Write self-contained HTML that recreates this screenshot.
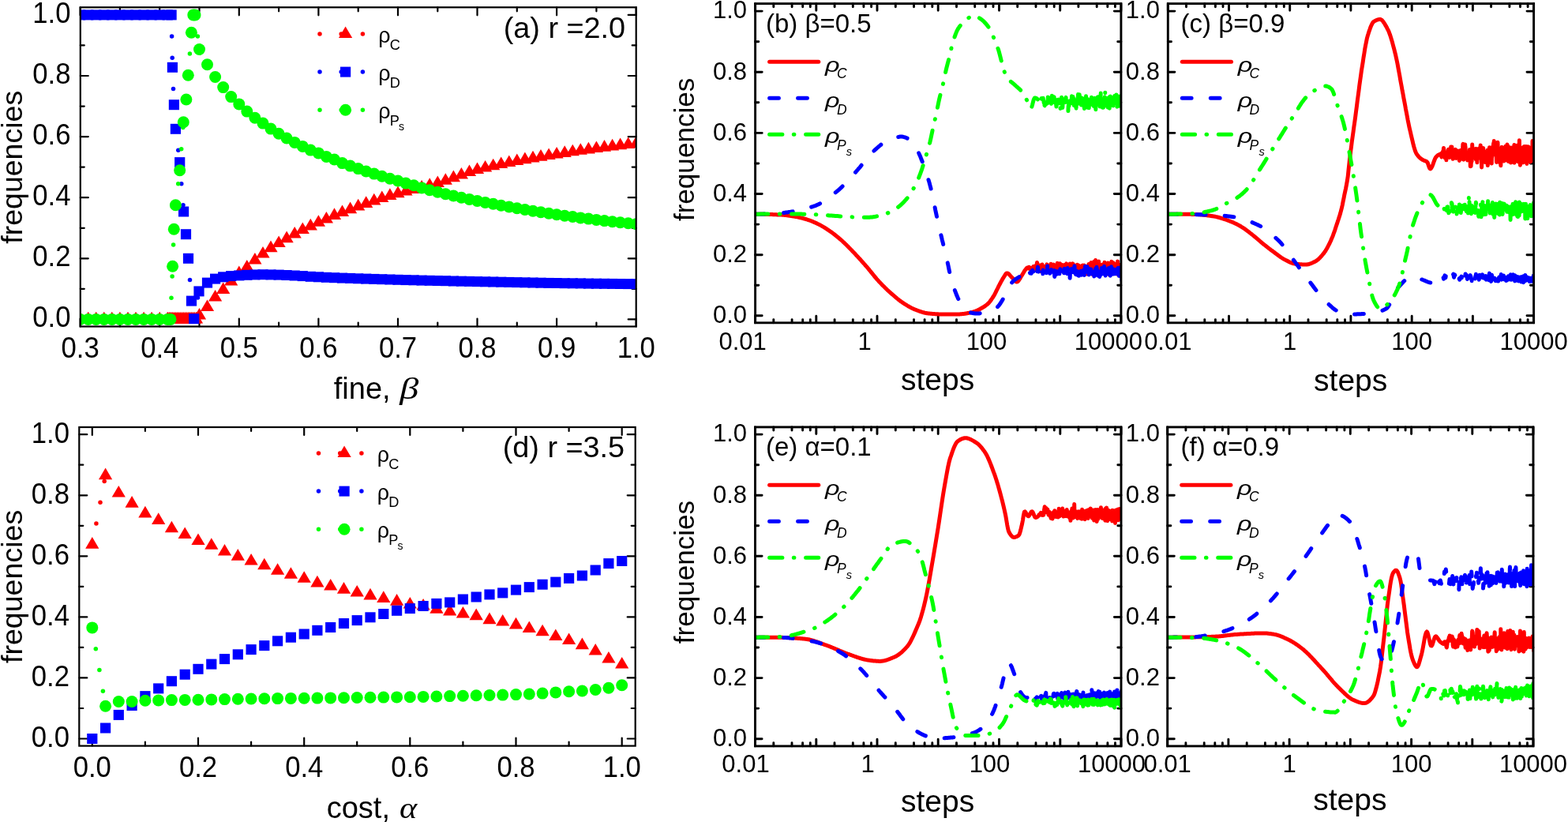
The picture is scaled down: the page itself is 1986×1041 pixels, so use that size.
<!DOCTYPE html><html><head><meta charset="utf-8"><style>html,body{margin:0;padding:0;background:#fff;overflow:hidden}svg{display:block}</style></head><body><svg width="1986" height="1041" viewBox="0 0 1986 1041"><rect width="1986" height="1041" fill="#fff"/><defs><clipPath id="ca"><rect x="101.8" y="9.3" width="703.9000000000001" height="404.2"/></clipPath><clipPath id="cd"><rect x="100.3" y="541.0" width="704.4000000000001" height="403.6"/></clipPath><clipPath id="cb"><rect x="956.6" y="4.6" width="463.30000000000007" height="404.2"/></clipPath><clipPath id="cc"><rect x="1479.3" y="4.6" width="463.29999999999995" height="404.2"/></clipPath><clipPath id="ce"><rect x="956.5" y="540.9" width="463.5" height="404.0"/></clipPath><clipPath id="cf"><rect x="1478.7" y="540.9" width="463.29999999999995" height="404.0"/></clipPath></defs><path d="M101.8 404.4L111.8 404.4M805.7 404.4L795.7 404.4M101.8 327.3L111.8 327.3M805.7 327.3L795.7 327.3M101.8 250.2L111.8 250.2M805.7 250.2L795.7 250.2M101.8 173.1L111.8 173.1M805.7 173.1L795.7 173.1M101.8 96.0L111.8 96.0M805.7 96.0L795.7 96.0M101.8 18.9L111.8 18.9M805.7 18.9L795.7 18.9M101.8 365.8L106.8 365.8M805.7 365.8L800.7 365.8M101.8 288.8L106.8 288.8M805.7 288.8L800.7 288.8M101.8 211.6L106.8 211.6M805.7 211.6L800.7 211.6M101.8 134.6L106.8 134.6M805.7 134.6L800.7 134.6M101.8 57.4L106.8 57.4M805.7 57.4L800.7 57.4M101.6 413.5L101.6 403.5M101.6 9.3L101.6 19.3M202.2 413.5L202.2 403.5M202.2 9.3L202.2 19.3M302.8 413.5L302.8 403.5M302.8 9.3L302.8 19.3M403.4 413.5L403.4 403.5M403.4 9.3L403.4 19.3M504.0 413.5L504.0 403.5M504.0 9.3L504.0 19.3M604.5 413.5L604.5 403.5M604.5 9.3L604.5 19.3M705.1 413.5L705.1 403.5M705.1 9.3L705.1 19.3M805.7 413.5L805.7 403.5M805.7 9.3L805.7 19.3M151.9 413.5L151.9 408.5M151.9 9.3L151.9 14.3M252.5 413.5L252.5 408.5M252.5 9.3L252.5 14.3M353.1 413.5L353.1 408.5M353.1 9.3L353.1 14.3M453.7 413.5L453.7 408.5M453.7 9.3L453.7 14.3M554.3 413.5L554.3 408.5M554.3 9.3L554.3 14.3M654.8 413.5L654.8 408.5M654.8 9.3L654.8 14.3M755.4 413.5L755.4 408.5M755.4 9.3L755.4 14.3" stroke="#000" stroke-width="2.2" stroke-linecap="round" fill="none"/>
<path d="M100.3 935.5L110.3 935.5M804.7 935.5L794.7 935.5M100.3 858.4L110.3 858.4M804.7 858.4L794.7 858.4M100.3 781.4L110.3 781.4M804.7 781.4L794.7 781.4M100.3 704.3L110.3 704.3M804.7 704.3L794.7 704.3M100.3 627.3L110.3 627.3M804.7 627.3L794.7 627.3M100.3 550.2L110.3 550.2M804.7 550.2L794.7 550.2M100.3 897.0L105.3 897.0M804.7 897.0L799.7 897.0M100.3 819.9L105.3 819.9M804.7 819.9L799.7 819.9M100.3 742.9L105.3 742.9M804.7 742.9L799.7 742.9M100.3 665.8L105.3 665.8M804.7 665.8L799.7 665.8M100.3 588.7L105.3 588.7M804.7 588.7L799.7 588.7M116.8 944.6L116.8 934.6M116.8 541.0L116.8 551.0M251.0 944.6L251.0 934.6M251.0 541.0L251.0 551.0M385.2 944.6L385.2 934.6M385.2 541.0L385.2 551.0M519.3 944.6L519.3 934.6M519.3 541.0L519.3 551.0M653.5 944.6L653.5 934.6M653.5 541.0L653.5 551.0M787.7 944.6L787.7 934.6M787.7 541.0L787.7 551.0M183.9 944.6L183.9 939.6M183.9 541.0L183.9 546.0M318.1 944.6L318.1 939.6M318.1 541.0L318.1 546.0M452.2 944.6L452.2 939.6M452.2 541.0L452.2 546.0M586.4 944.6L586.4 939.6M586.4 541.0L586.4 546.0M720.6 944.6L720.6 939.6M720.6 541.0L720.6 546.0" stroke="#000" stroke-width="2.2" stroke-linecap="round" fill="none"/>
<path d="M956.6 399.8L965.2 399.8M1419.9 399.8L1411.3 399.8M956.6 322.7L965.2 322.7M1419.9 322.7L1411.3 322.7M956.6 245.5L965.2 245.5M1419.9 245.5L1411.3 245.5M956.6 168.4L965.2 168.4M1419.9 168.4L1411.3 168.4M956.6 91.2L965.2 91.2M1419.9 91.2L1411.3 91.2M956.6 14.1L965.2 14.1M1419.9 14.1L1411.3 14.1M956.6 361.2L960.8 361.2M1419.9 361.2L1415.7 361.2M956.6 284.1L960.8 284.1M1419.9 284.1L1415.7 284.1M956.6 207.0L960.8 207.0M1419.9 207.0L1415.7 207.0M956.6 129.8L960.8 129.8M1419.9 129.8L1415.7 129.8M956.6 52.7L960.8 52.7M1419.9 52.7L1415.7 52.7M956.6 408.8L956.6 400.2M956.6 4.6L956.6 13.2M979.8 408.8L979.8 404.6M979.8 4.6L979.8 8.8M1003.1 408.8L1003.1 404.6M1003.1 4.6L1003.1 8.8M1016.7 408.8L1016.7 404.6M1016.7 4.6L1016.7 8.8M1026.3 408.8L1026.3 404.6M1026.3 4.6L1026.3 8.8M1033.8 408.8L1033.8 400.2M1033.8 4.6L1033.8 13.2M1057.1 408.8L1057.1 404.6M1057.1 4.6L1057.1 8.8M1080.3 408.8L1080.3 404.6M1080.3 4.6L1080.3 8.8M1093.9 408.8L1093.9 404.6M1093.9 4.6L1093.9 8.8M1103.6 408.8L1103.6 404.6M1103.6 4.6L1103.6 8.8M1111.0 408.8L1111.0 400.2M1111.0 4.6L1111.0 13.2M1134.3 408.8L1134.3 404.6M1134.3 4.6L1134.3 8.8M1157.5 408.8L1157.5 404.6M1157.5 4.6L1157.5 8.8M1171.1 408.8L1171.1 404.6M1171.1 4.6L1171.1 8.8M1180.8 408.8L1180.8 404.6M1180.8 4.6L1180.8 8.8M1188.2 408.8L1188.2 400.2M1188.2 4.6L1188.2 13.2M1211.5 408.8L1211.5 404.6M1211.5 4.6L1211.5 8.8M1234.7 408.8L1234.7 404.6M1234.7 4.6L1234.7 8.8M1248.3 408.8L1248.3 404.6M1248.3 4.6L1248.3 8.8M1258.0 408.8L1258.0 404.6M1258.0 4.6L1258.0 8.8M1265.5 408.8L1265.5 400.2M1265.5 4.6L1265.5 13.2M1288.7 408.8L1288.7 404.6M1288.7 4.6L1288.7 8.8M1312.0 408.8L1312.0 404.6M1312.0 4.6L1312.0 8.8M1325.6 408.8L1325.6 404.6M1325.6 4.6L1325.6 8.8M1335.2 408.8L1335.2 404.6M1335.2 4.6L1335.2 8.8M1342.7 408.8L1342.7 400.2M1342.7 4.6L1342.7 13.2M1365.9 408.8L1365.9 404.6M1365.9 4.6L1365.9 8.8M1389.2 408.8L1389.2 404.6M1389.2 4.6L1389.2 8.8M1402.8 408.8L1402.8 404.6M1402.8 4.6L1402.8 8.8M1412.4 408.8L1412.4 404.6M1412.4 4.6L1412.4 8.8M1419.9 408.8L1419.9 400.2M1419.9 4.6L1419.9 13.2" stroke="#000" stroke-width="2.9" stroke-linecap="round" fill="none"/>
<path d="M1479.3 399.8L1487.9 399.8M1942.6 399.8L1934.0 399.8M1479.3 322.7L1487.9 322.7M1942.6 322.7L1934.0 322.7M1479.3 245.5L1487.9 245.5M1942.6 245.5L1934.0 245.5M1479.3 168.4L1487.9 168.4M1942.6 168.4L1934.0 168.4M1479.3 91.2L1487.9 91.2M1942.6 91.2L1934.0 91.2M1479.3 14.1L1487.9 14.1M1942.6 14.1L1934.0 14.1M1479.3 361.2L1483.5 361.2M1942.6 361.2L1938.4 361.2M1479.3 284.1L1483.5 284.1M1942.6 284.1L1938.4 284.1M1479.3 207.0L1483.5 207.0M1942.6 207.0L1938.4 207.0M1479.3 129.8L1483.5 129.8M1942.6 129.8L1938.4 129.8M1479.3 52.7L1483.5 52.7M1942.6 52.7L1938.4 52.7M1479.3 408.8L1479.3 400.2M1479.3 4.6L1479.3 13.2M1502.5 408.8L1502.5 404.6M1502.5 4.6L1502.5 8.8M1525.8 408.8L1525.8 404.6M1525.8 4.6L1525.8 8.8M1539.4 408.8L1539.4 404.6M1539.4 4.6L1539.4 8.8M1549.0 408.8L1549.0 404.6M1549.0 4.6L1549.0 8.8M1556.5 408.8L1556.5 400.2M1556.5 4.6L1556.5 13.2M1579.8 408.8L1579.8 404.6M1579.8 4.6L1579.8 8.8M1603.0 408.8L1603.0 404.6M1603.0 4.6L1603.0 8.8M1616.6 408.8L1616.6 404.6M1616.6 4.6L1616.6 8.8M1626.3 408.8L1626.3 404.6M1626.3 4.6L1626.3 8.8M1633.7 408.8L1633.7 400.2M1633.7 4.6L1633.7 13.2M1657.0 408.8L1657.0 404.6M1657.0 4.6L1657.0 8.8M1680.2 408.8L1680.2 404.6M1680.2 4.6L1680.2 8.8M1693.8 408.8L1693.8 404.6M1693.8 4.6L1693.8 8.8M1703.5 408.8L1703.5 404.6M1703.5 4.6L1703.5 8.8M1710.9 408.8L1710.9 400.2M1710.9 4.6L1710.9 13.2M1734.2 408.8L1734.2 404.6M1734.2 4.6L1734.2 8.8M1757.4 408.8L1757.4 404.6M1757.4 4.6L1757.4 8.8M1771.0 408.8L1771.0 404.6M1771.0 4.6L1771.0 8.8M1780.7 408.8L1780.7 404.6M1780.7 4.6L1780.7 8.8M1788.2 408.8L1788.2 400.2M1788.2 4.6L1788.2 13.2M1811.4 408.8L1811.4 404.6M1811.4 4.6L1811.4 8.8M1834.7 408.8L1834.7 404.6M1834.7 4.6L1834.7 8.8M1848.3 408.8L1848.3 404.6M1848.3 4.6L1848.3 8.8M1857.9 408.8L1857.9 404.6M1857.9 4.6L1857.9 8.8M1865.4 408.8L1865.4 400.2M1865.4 4.6L1865.4 13.2M1888.6 408.8L1888.6 404.6M1888.6 4.6L1888.6 8.8M1911.9 408.8L1911.9 404.6M1911.9 4.6L1911.9 8.8M1925.5 408.8L1925.5 404.6M1925.5 4.6L1925.5 8.8M1935.1 408.8L1935.1 404.6M1935.1 4.6L1935.1 8.8M1942.6 408.8L1942.6 400.2M1942.6 4.6L1942.6 13.2" stroke="#000" stroke-width="2.9" stroke-linecap="round" fill="none"/>
<path d="M956.5 935.7L965.1 935.7M1420.0 935.7L1411.4 935.7M956.5 858.6L965.1 858.6M1420.0 858.6L1411.4 858.6M956.5 781.5L965.1 781.5M1420.0 781.5L1411.4 781.5M956.5 704.3L965.1 704.3M1420.0 704.3L1411.4 704.3M956.5 627.2L965.1 627.2M1420.0 627.2L1411.4 627.2M956.5 550.1L965.1 550.1M1420.0 550.1L1411.4 550.1M956.5 897.1L960.7 897.1M1420.0 897.1L1415.8 897.1M956.5 820.0L960.7 820.0M1420.0 820.0L1415.8 820.0M956.5 742.9L960.7 742.9M1420.0 742.9L1415.8 742.9M956.5 665.8L960.7 665.8M1420.0 665.8L1415.8 665.8M956.5 588.7L960.7 588.7M1420.0 588.7L1415.8 588.7M956.5 944.9L956.5 936.3M956.5 540.9L956.5 549.5M979.8 944.9L979.8 940.7M979.8 540.9L979.8 545.1M1003.0 944.9L1003.0 940.7M1003.0 540.9L1003.0 545.1M1016.6 944.9L1016.6 940.7M1016.6 540.9L1016.6 545.1M1026.3 944.9L1026.3 940.7M1026.3 540.9L1026.3 545.1M1033.8 944.9L1033.8 936.3M1033.8 540.9L1033.8 549.5M1057.0 944.9L1057.0 940.7M1057.0 540.9L1057.0 545.1M1080.3 944.9L1080.3 940.7M1080.3 540.9L1080.3 545.1M1093.9 944.9L1093.9 940.7M1093.9 540.9L1093.9 545.1M1103.5 944.9L1103.5 940.7M1103.5 540.9L1103.5 545.1M1111.0 944.9L1111.0 936.3M1111.0 540.9L1111.0 549.5M1134.3 944.9L1134.3 940.7M1134.3 540.9L1134.3 545.1M1157.5 944.9L1157.5 940.7M1157.5 540.9L1157.5 545.1M1171.1 944.9L1171.1 940.7M1171.1 540.9L1171.1 545.1M1180.8 944.9L1180.8 940.7M1180.8 540.9L1180.8 545.1M1188.2 944.9L1188.2 936.3M1188.2 540.9L1188.2 549.5M1211.5 944.9L1211.5 940.7M1211.5 540.9L1211.5 545.1M1234.8 944.9L1234.8 940.7M1234.8 540.9L1234.8 545.1M1248.4 944.9L1248.4 940.7M1248.4 540.9L1248.4 545.1M1258.0 944.9L1258.0 940.7M1258.0 540.9L1258.0 545.1M1265.5 944.9L1265.5 936.3M1265.5 540.9L1265.5 549.5M1288.8 944.9L1288.8 940.7M1288.8 540.9L1288.8 545.1M1312.0 944.9L1312.0 940.7M1312.0 540.9L1312.0 545.1M1325.6 944.9L1325.6 940.7M1325.6 540.9L1325.6 545.1M1335.3 944.9L1335.3 940.7M1335.3 540.9L1335.3 545.1M1342.8 944.9L1342.8 936.3M1342.8 540.9L1342.8 549.5M1366.0 944.9L1366.0 940.7M1366.0 540.9L1366.0 545.1M1389.3 944.9L1389.3 940.7M1389.3 540.9L1389.3 545.1M1402.9 944.9L1402.9 940.7M1402.9 540.9L1402.9 545.1M1412.5 944.9L1412.5 940.7M1412.5 540.9L1412.5 545.1M1420.0 944.9L1420.0 936.3M1420.0 540.9L1420.0 549.5" stroke="#000" stroke-width="2.9" stroke-linecap="round" fill="none"/>
<path d="M1478.7 935.7L1487.3 935.7M1942.0 935.7L1933.4 935.7M1478.7 858.6L1487.3 858.6M1942.0 858.6L1933.4 858.6M1478.7 781.5L1487.3 781.5M1942.0 781.5L1933.4 781.5M1478.7 704.3L1487.3 704.3M1942.0 704.3L1933.4 704.3M1478.7 627.2L1487.3 627.2M1942.0 627.2L1933.4 627.2M1478.7 550.1L1487.3 550.1M1942.0 550.1L1933.4 550.1M1478.7 897.1L1482.9 897.1M1942.0 897.1L1937.8 897.1M1478.7 820.0L1482.9 820.0M1942.0 820.0L1937.8 820.0M1478.7 742.9L1482.9 742.9M1942.0 742.9L1937.8 742.9M1478.7 665.8L1482.9 665.8M1942.0 665.8L1937.8 665.8M1478.7 588.7L1482.9 588.7M1942.0 588.7L1937.8 588.7M1478.7 944.9L1478.7 936.3M1478.7 540.9L1478.7 549.5M1501.9 944.9L1501.9 940.7M1501.9 540.9L1501.9 545.1M1525.2 944.9L1525.2 940.7M1525.2 540.9L1525.2 545.1M1538.8 944.9L1538.8 940.7M1538.8 540.9L1538.8 545.1M1548.4 944.9L1548.4 940.7M1548.4 540.9L1548.4 545.1M1555.9 944.9L1555.9 936.3M1555.9 540.9L1555.9 549.5M1579.2 944.9L1579.2 940.7M1579.2 540.9L1579.2 545.1M1602.4 944.9L1602.4 940.7M1602.4 540.9L1602.4 545.1M1616.0 944.9L1616.0 940.7M1616.0 540.9L1616.0 545.1M1625.7 944.9L1625.7 940.7M1625.7 540.9L1625.7 545.1M1633.1 944.9L1633.1 936.3M1633.1 540.9L1633.1 549.5M1656.4 944.9L1656.4 940.7M1656.4 540.9L1656.4 545.1M1679.6 944.9L1679.6 940.7M1679.6 540.9L1679.6 545.1M1693.2 944.9L1693.2 940.7M1693.2 540.9L1693.2 545.1M1702.9 944.9L1702.9 940.7M1702.9 540.9L1702.9 545.1M1710.3 944.9L1710.3 936.3M1710.3 540.9L1710.3 549.5M1733.6 944.9L1733.6 940.7M1733.6 540.9L1733.6 545.1M1756.8 944.9L1756.8 940.7M1756.8 540.9L1756.8 545.1M1770.4 944.9L1770.4 940.7M1770.4 540.9L1770.4 545.1M1780.1 944.9L1780.1 940.7M1780.1 540.9L1780.1 545.1M1787.6 944.9L1787.6 936.3M1787.6 540.9L1787.6 549.5M1810.8 944.9L1810.8 940.7M1810.8 540.9L1810.8 545.1M1834.1 944.9L1834.1 940.7M1834.1 540.9L1834.1 545.1M1847.7 944.9L1847.7 940.7M1847.7 540.9L1847.7 545.1M1857.3 944.9L1857.3 940.7M1857.3 540.9L1857.3 545.1M1864.8 944.9L1864.8 936.3M1864.8 540.9L1864.8 549.5M1888.0 944.9L1888.0 940.7M1888.0 540.9L1888.0 545.1M1911.3 944.9L1911.3 940.7M1911.3 540.9L1911.3 545.1M1924.9 944.9L1924.9 940.7M1924.9 540.9L1924.9 545.1M1934.5 944.9L1934.5 940.7M1934.5 540.9L1934.5 545.1M1942.0 944.9L1942.0 936.3M1942.0 540.9L1942.0 549.5" stroke="#000" stroke-width="2.9" stroke-linecap="round" fill="none"/><g fill="#ff0000" clip-path="url(#ca)"></g>
<g clip-path="url(#ca)"><path d="M101.6 394.8L110.2 409.4L93.0 409.4Z" fill="#ff0000"/><path d="M111.7 394.8L120.3 409.4L103.1 409.4Z" fill="#ff0000"/><path d="M121.7 394.8L130.3 409.4L113.1 409.4Z" fill="#ff0000"/><path d="M131.8 394.8L140.4 409.4L123.2 409.4Z" fill="#ff0000"/><path d="M141.8 394.8L150.4 409.4L133.2 409.4Z" fill="#ff0000"/><path d="M151.9 394.8L160.5 409.4L143.3 409.4Z" fill="#ff0000"/><path d="M162.0 394.8L170.6 409.4L153.4 409.4Z" fill="#ff0000"/><path d="M172.0 394.8L180.6 409.4L163.4 409.4Z" fill="#ff0000"/><path d="M182.1 394.8L190.7 409.4L173.5 409.4Z" fill="#ff0000"/><path d="M192.1 394.8L200.7 409.4L183.5 409.4Z" fill="#ff0000"/><path d="M202.2 394.8L210.8 409.4L193.6 409.4Z" fill="#ff0000"/><path d="M212.2 394.8L220.8 409.4L203.6 409.4Z" fill="#ff0000"/><path d="M214.3 394.8L222.9 409.4L205.7 409.4Z" fill="#ff0000"/><path d="M216.3 394.8L224.9 409.4L207.7 409.4Z" fill="#ff0000"/><path d="M218.3 394.8L226.9 409.4L209.7 409.4Z" fill="#ff0000"/><path d="M220.3 394.8L228.9 409.4L211.7 409.4Z" fill="#ff0000"/><path d="M222.3 394.8L230.9 409.4L213.7 409.4Z" fill="#ff0000"/><path d="M224.3 394.8L232.9 409.4L215.7 409.4Z" fill="#ff0000"/><path d="M226.3 394.8L234.9 409.4L217.7 409.4Z" fill="#ff0000"/><path d="M228.3 394.8L236.9 409.4L219.7 409.4Z" fill="#ff0000"/><path d="M230.4 394.8L239.0 409.4L221.8 409.4Z" fill="#ff0000"/><path d="M232.4 394.8L241.0 409.4L223.8 409.4Z" fill="#ff0000"/><path d="M234.4 394.8L243.0 409.4L225.8 409.4Z" fill="#ff0000"/><path d="M236.4 394.8L245.0 409.4L227.8 409.4Z" fill="#ff0000"/><path d="M238.4 394.8L247.0 409.4L229.8 409.4Z" fill="#ff0000"/><path d="M240.4 394.8L249.0 409.4L231.8 409.4Z" fill="#ff0000"/><path d="M242.4 394.8L251.0 409.4L233.8 409.4Z" fill="#ff0000"/><path d="M244.4 394.8L253.0 409.4L235.8 409.4Z" fill="#ff0000"/><path d="M246.4 394.8L255.0 409.4L237.8 409.4Z" fill="#ff0000"/><path d="M248.5 394.8L257.1 409.4L239.9 409.4Z" fill="#ff0000"/><path d="M252.5 390.0L261.1 404.6L243.9 404.6Z" fill="#ff0000"/><path d="M262.5 379.4L271.1 394.0L253.9 394.0Z" fill="#ff0000"/><path d="M272.6 367.0L281.2 381.6L264.0 381.6Z" fill="#ff0000"/><path d="M282.7 357.4L291.3 372.0L274.1 372.0Z" fill="#ff0000"/><path d="M292.7 347.0L301.3 361.6L284.1 361.6Z" fill="#ff0000"/><path d="M302.8 336.6L311.4 351.2L294.2 351.2Z" fill="#ff0000"/><path d="M312.8 328.9L321.4 343.5L304.2 343.5Z" fill="#ff0000"/><path d="M322.9 320.0L331.5 334.6L314.3 334.6Z" fill="#ff0000"/><path d="M333.0 311.9L341.6 326.5L324.4 326.5Z" fill="#ff0000"/><path d="M343.0 304.6L351.6 319.2L334.4 319.2Z" fill="#ff0000"/><path d="M353.1 298.4L361.7 313.0L344.5 313.0Z" fill="#ff0000"/><path d="M363.1 292.6L371.7 307.2L354.5 307.2Z" fill="#ff0000"/><path d="M373.2 286.9L381.8 301.5L364.6 301.5Z" fill="#ff0000"/><path d="M383.3 281.5L391.9 296.1L374.7 296.1Z" fill="#ff0000"/><path d="M393.3 276.8L401.9 291.4L384.7 291.4Z" fill="#ff0000"/><path d="M403.4 272.2L412.0 286.8L394.8 286.8Z" fill="#ff0000"/><path d="M413.4 268.0L422.0 282.6L404.8 282.6Z" fill="#ff0000"/><path d="M423.5 263.3L432.1 277.9L414.9 277.9Z" fill="#ff0000"/><path d="M433.5 259.5L442.1 274.1L424.9 274.1Z" fill="#ff0000"/><path d="M443.6 255.6L452.2 270.2L435.0 270.2Z" fill="#ff0000"/><path d="M453.7 251.8L462.3 266.4L445.1 266.4Z" fill="#ff0000"/><path d="M463.7 248.3L472.3 262.9L455.1 262.9Z" fill="#ff0000"/><path d="M473.8 244.8L482.4 259.4L465.2 259.4Z" fill="#ff0000"/><path d="M483.8 241.4L492.4 256.0L475.2 256.0Z" fill="#ff0000"/><path d="M493.9 238.3L502.5 252.9L485.3 252.9Z" fill="#ff0000"/><path d="M504.0 235.6L512.6 250.2L495.4 250.2Z" fill="#ff0000"/><path d="M514.0 233.0L522.6 247.6L505.4 247.6Z" fill="#ff0000"/><path d="M524.1 230.5L532.7 245.1L515.5 245.1Z" fill="#ff0000"/><path d="M534.1 227.9L542.7 242.5L525.5 242.5Z" fill="#ff0000"/><path d="M544.2 225.3L552.8 239.9L535.6 239.9Z" fill="#ff0000"/><path d="M554.3 222.5L562.9 237.1L545.7 237.1Z" fill="#ff0000"/><path d="M564.3 219.2L572.9 233.8L555.7 233.8Z" fill="#ff0000"/><path d="M574.4 215.6L583.0 230.2L565.8 230.2Z" fill="#ff0000"/><path d="M584.4 211.9L593.0 226.5L575.8 226.5Z" fill="#ff0000"/><path d="M594.5 208.5L603.1 223.1L585.9 223.1Z" fill="#ff0000"/><path d="M604.5 205.5L613.1 220.1L595.9 220.1Z" fill="#ff0000"/><path d="M614.6 203.0L623.2 217.6L606.0 217.6Z" fill="#ff0000"/><path d="M624.7 200.7L633.3 215.3L616.1 215.3Z" fill="#ff0000"/><path d="M634.7 198.5L643.3 213.1L626.1 213.1Z" fill="#ff0000"/><path d="M644.8 196.4L653.4 211.0L636.2 211.0Z" fill="#ff0000"/><path d="M654.8 194.5L663.4 209.1L646.2 209.1Z" fill="#ff0000"/><path d="M664.9 192.6L673.5 207.2L656.3 207.2Z" fill="#ff0000"/><path d="M675.0 190.8L683.6 205.4L666.4 205.4Z" fill="#ff0000"/><path d="M685.0 189.1L693.6 203.7L676.4 203.7Z" fill="#ff0000"/><path d="M695.1 187.5L703.7 202.1L686.5 202.1Z" fill="#ff0000"/><path d="M705.1 185.9L713.7 200.5L696.5 200.5Z" fill="#ff0000"/><path d="M715.2 184.3L723.8 198.9L706.6 198.9Z" fill="#ff0000"/><path d="M725.3 182.7L733.9 197.3L716.7 197.3Z" fill="#ff0000"/><path d="M735.3 181.2L743.9 195.8L726.7 195.8Z" fill="#ff0000"/><path d="M745.4 179.8L754.0 194.4L736.8 194.4Z" fill="#ff0000"/><path d="M755.4 178.4L764.0 193.0L746.8 193.0Z" fill="#ff0000"/><path d="M765.5 177.1L774.1 191.7L756.9 191.7Z" fill="#ff0000"/><path d="M775.6 175.8L784.2 190.4L767.0 190.4Z" fill="#ff0000"/><path d="M785.6 174.6L794.2 189.2L777.0 189.2Z" fill="#ff0000"/><path d="M795.7 173.4L804.3 188.0L787.1 188.0Z" fill="#ff0000"/><path d="M805.7 172.4L814.3 187.0L797.1 187.0Z" fill="#ff0000"/></g>
<g fill="#0000ff" clip-path="url(#ca)"><circle cx="217.6" cy="46.1" r="2.75"/><circle cx="218.2" cy="73.3" r="2.75"/><circle cx="219.5" cy="112.5" r="2.75"/><circle cx="222.2" cy="159.8" r="2.75"/><circle cx="225.8" cy="190.3" r="2.75"/><circle cx="229.8" cy="232.7" r="2.75"/><circle cx="232.0" cy="259.8" r="2.75"/><circle cx="235.3" cy="295.1" r="2.75"/><circle cx="238.2" cy="323.8" r="2.75"/><circle cx="240.5" cy="354.4" r="2.75"/><circle cx="250.5" cy="376.9" r="2.75"/></g>
<g clip-path="url(#ca)"><rect x="95.0" y="12.4" width="13.2" height="13" fill="#0000ff"/><rect x="105.1" y="12.4" width="13.2" height="13" fill="#0000ff"/><rect x="115.1" y="12.4" width="13.2" height="13" fill="#0000ff"/><rect x="125.2" y="12.4" width="13.2" height="13" fill="#0000ff"/><rect x="135.2" y="12.4" width="13.2" height="13" fill="#0000ff"/><rect x="145.3" y="12.4" width="13.2" height="13" fill="#0000ff"/><rect x="155.4" y="12.4" width="13.2" height="13" fill="#0000ff"/><rect x="165.4" y="12.4" width="13.2" height="13" fill="#0000ff"/><rect x="175.5" y="12.4" width="13.2" height="13" fill="#0000ff"/><rect x="185.5" y="12.4" width="13.2" height="13" fill="#0000ff"/><rect x="195.6" y="12.4" width="13.2" height="13" fill="#0000ff"/><rect x="205.6" y="12.4" width="13.2" height="13" fill="#0000ff"/><rect x="210.5" y="12.4" width="13.2" height="13" fill="#0000ff"/><rect x="211.8" y="78.8" width="13.2" height="13" fill="#0000ff"/><rect x="213.8" y="126.2" width="13.2" height="13" fill="#0000ff"/><rect x="215.8" y="156.8" width="13.2" height="13" fill="#0000ff"/><rect x="221.1" y="199.1" width="13.2" height="13" fill="#0000ff"/><rect x="226.0" y="261.5" width="13.2" height="13" fill="#0000ff"/><rect x="228.9" y="290.2" width="13.2" height="13" fill="#0000ff"/><rect x="231.9" y="320.8" width="13.2" height="13" fill="#0000ff"/><rect x="235.9" y="374.6" width="13.2" height="13" fill="#0000ff"/><rect x="239.1" y="397.2" width="13.2" height="13" fill="#0000ff"/><rect x="245.4" y="362.4" width="13.2" height="13" fill="#0000ff"/><rect x="255.9" y="351.6" width="13.2" height="13" fill="#0000ff"/><rect x="266.0" y="346.6" width="13.2" height="13" fill="#0000ff"/><rect x="276.1" y="344.3" width="13.2" height="13" fill="#0000ff"/><rect x="286.1" y="343.1" width="13.2" height="13" fill="#0000ff"/><rect x="296.2" y="342.4" width="13.2" height="13" fill="#0000ff"/><rect x="306.2" y="341.8" width="13.2" height="13" fill="#0000ff"/><rect x="316.3" y="341.4" width="13.2" height="13" fill="#0000ff"/><rect x="326.4" y="341.2" width="13.2" height="13" fill="#0000ff"/><rect x="336.4" y="341.4" width="13.2" height="13" fill="#0000ff"/><rect x="346.5" y="341.6" width="13.2" height="13" fill="#0000ff"/><rect x="356.5" y="342.0" width="13.2" height="13" fill="#0000ff"/><rect x="366.6" y="342.5" width="13.2" height="13" fill="#0000ff"/><rect x="376.7" y="343.1" width="13.2" height="13" fill="#0000ff"/><rect x="386.7" y="343.8" width="13.2" height="13" fill="#0000ff"/><rect x="396.8" y="344.3" width="13.2" height="13" fill="#0000ff"/><rect x="406.8" y="344.8" width="13.2" height="13" fill="#0000ff"/><rect x="416.9" y="345.2" width="13.2" height="13" fill="#0000ff"/><rect x="426.9" y="345.6" width="13.2" height="13" fill="#0000ff"/><rect x="437.0" y="345.9" width="13.2" height="13" fill="#0000ff"/><rect x="447.1" y="346.3" width="13.2" height="13" fill="#0000ff"/><rect x="457.1" y="346.6" width="13.2" height="13" fill="#0000ff"/><rect x="467.2" y="346.9" width="13.2" height="13" fill="#0000ff"/><rect x="477.2" y="347.2" width="13.2" height="13" fill="#0000ff"/><rect x="487.3" y="347.5" width="13.2" height="13" fill="#0000ff"/><rect x="497.4" y="347.8" width="13.2" height="13" fill="#0000ff"/><rect x="507.4" y="348.1" width="13.2" height="13" fill="#0000ff"/><rect x="517.5" y="348.3" width="13.2" height="13" fill="#0000ff"/><rect x="527.5" y="348.6" width="13.2" height="13" fill="#0000ff"/><rect x="537.6" y="348.8" width="13.2" height="13" fill="#0000ff"/><rect x="547.7" y="349.0" width="13.2" height="13" fill="#0000ff"/><rect x="557.7" y="349.2" width="13.2" height="13" fill="#0000ff"/><rect x="567.8" y="349.5" width="13.2" height="13" fill="#0000ff"/><rect x="577.8" y="349.7" width="13.2" height="13" fill="#0000ff"/><rect x="587.9" y="349.9" width="13.2" height="13" fill="#0000ff"/><rect x="597.9" y="350.1" width="13.2" height="13" fill="#0000ff"/><rect x="608.0" y="350.3" width="13.2" height="13" fill="#0000ff"/><rect x="618.1" y="350.5" width="13.2" height="13" fill="#0000ff"/><rect x="628.1" y="350.7" width="13.2" height="13" fill="#0000ff"/><rect x="638.2" y="350.9" width="13.2" height="13" fill="#0000ff"/><rect x="648.2" y="351.1" width="13.2" height="13" fill="#0000ff"/><rect x="658.3" y="351.3" width="13.2" height="13" fill="#0000ff"/><rect x="668.4" y="351.5" width="13.2" height="13" fill="#0000ff"/><rect x="678.4" y="351.7" width="13.2" height="13" fill="#0000ff"/><rect x="688.5" y="351.9" width="13.2" height="13" fill="#0000ff"/><rect x="698.5" y="352.0" width="13.2" height="13" fill="#0000ff"/><rect x="708.6" y="352.2" width="13.2" height="13" fill="#0000ff"/><rect x="718.7" y="352.3" width="13.2" height="13" fill="#0000ff"/><rect x="728.7" y="352.4" width="13.2" height="13" fill="#0000ff"/><rect x="738.8" y="352.6" width="13.2" height="13" fill="#0000ff"/><rect x="748.8" y="352.7" width="13.2" height="13" fill="#0000ff"/><rect x="758.9" y="352.8" width="13.2" height="13" fill="#0000ff"/><rect x="769.0" y="352.9" width="13.2" height="13" fill="#0000ff"/><rect x="779.0" y="353.0" width="13.2" height="13" fill="#0000ff"/><rect x="789.1" y="353.1" width="13.2" height="13" fill="#0000ff"/><rect x="799.1" y="353.2" width="13.2" height="13" fill="#0000ff"/></g>
<g fill="#00ff00" clip-path="url(#ca)"><circle cx="217.0" cy="377.2" r="2.75"/><circle cx="218.1" cy="350.0" r="2.75"/><circle cx="219.6" cy="310.0" r="2.75"/><circle cx="222.2" cy="263.2" r="2.75"/><circle cx="225.7" cy="232.7" r="2.75"/><circle cx="229.7" cy="188.7" r="2.75"/><circle cx="231.8" cy="161.6" r="2.75"/><circle cx="235.7" cy="127.8" r="2.75"/><circle cx="238.0" cy="98.9" r="2.75"/><circle cx="240.4" cy="68.1" r="2.75"/><circle cx="250.4" cy="45.9" r="2.75"/></g>
<g clip-path="url(#ca)"><circle cx="101.6" cy="404.4" r="7.5" fill="#00ff00"/><circle cx="111.7" cy="404.4" r="7.5" fill="#00ff00"/><circle cx="121.7" cy="404.4" r="7.5" fill="#00ff00"/><circle cx="131.8" cy="404.4" r="7.5" fill="#00ff00"/><circle cx="141.8" cy="404.4" r="7.5" fill="#00ff00"/><circle cx="151.9" cy="404.4" r="7.5" fill="#00ff00"/><circle cx="162.0" cy="404.4" r="7.5" fill="#00ff00"/><circle cx="172.0" cy="404.4" r="7.5" fill="#00ff00"/><circle cx="182.1" cy="404.4" r="7.5" fill="#00ff00"/><circle cx="192.1" cy="404.4" r="7.5" fill="#00ff00"/><circle cx="202.2" cy="404.4" r="7.5" fill="#00ff00"/><circle cx="212.2" cy="404.4" r="7.5" fill="#00ff00"/><circle cx="216.0" cy="404.4" r="7.5" fill="#00ff00"/><circle cx="218.6" cy="337.2" r="7.5" fill="#00ff00"/><circle cx="220.3" cy="290.3" r="7.5" fill="#00ff00"/><circle cx="222.4" cy="259.7" r="7.5" fill="#00ff00"/><circle cx="227.7" cy="215.8" r="7.5" fill="#00ff00"/><circle cx="232.3" cy="154.8" r="7.5" fill="#00ff00"/><circle cx="235.9" cy="126.0" r="7.5" fill="#00ff00"/><circle cx="238.3" cy="95.2" r="7.5" fill="#00ff00"/><circle cx="242.4" cy="41.3" r="7.5" fill="#00ff00"/><circle cx="244.8" cy="18.9" r="7.5" fill="#00ff00"/><circle cx="247.0" cy="18.9" r="7.5" fill="#00ff00"/><circle cx="252.5" cy="62.5" r="7.5" fill="#00ff00"/><circle cx="262.5" cy="81.7" r="7.5" fill="#00ff00"/><circle cx="272.6" cy="97.5" r="7.5" fill="#00ff00"/><circle cx="282.7" cy="110.6" r="7.5" fill="#00ff00"/><circle cx="292.7" cy="122.6" r="7.5" fill="#00ff00"/><circle cx="302.8" cy="131.9" r="7.5" fill="#00ff00"/><circle cx="312.8" cy="141.1" r="7.5" fill="#00ff00"/><circle cx="322.9" cy="149.2" r="7.5" fill="#00ff00"/><circle cx="333.0" cy="156.1" r="7.5" fill="#00ff00"/><circle cx="343.0" cy="163.1" r="7.5" fill="#00ff00"/><circle cx="353.1" cy="169.2" r="7.5" fill="#00ff00"/><circle cx="363.1" cy="175.0" r="7.5" fill="#00ff00"/><circle cx="373.2" cy="180.4" r="7.5" fill="#00ff00"/><circle cx="383.3" cy="185.4" r="7.5" fill="#00ff00"/><circle cx="393.3" cy="190.1" r="7.5" fill="#00ff00"/><circle cx="403.4" cy="193.9" r="7.5" fill="#00ff00"/><circle cx="413.4" cy="198.5" r="7.5" fill="#00ff00"/><circle cx="423.5" cy="202.0" r="7.5" fill="#00ff00"/><circle cx="433.5" cy="206.6" r="7.5" fill="#00ff00"/><circle cx="443.6" cy="210.1" r="7.5" fill="#00ff00"/><circle cx="453.7" cy="213.6" r="7.5" fill="#00ff00"/><circle cx="463.7" cy="217.0" r="7.5" fill="#00ff00"/><circle cx="473.8" cy="220.1" r="7.5" fill="#00ff00"/><circle cx="483.8" cy="223.2" r="7.5" fill="#00ff00"/><circle cx="493.9" cy="226.3" r="7.5" fill="#00ff00"/><circle cx="504.0" cy="229.0" r="7.5" fill="#00ff00"/><circle cx="514.0" cy="232.1" r="7.5" fill="#00ff00"/><circle cx="524.1" cy="234.8" r="7.5" fill="#00ff00"/><circle cx="534.1" cy="237.9" r="7.5" fill="#00ff00"/><circle cx="544.2" cy="240.7" r="7.5" fill="#00ff00"/><circle cx="554.3" cy="243.3" r="7.5" fill="#00ff00"/><circle cx="564.3" cy="245.7" r="7.5" fill="#00ff00"/><circle cx="574.4" cy="248.0" r="7.5" fill="#00ff00"/><circle cx="584.4" cy="250.3" r="7.5" fill="#00ff00"/><circle cx="594.5" cy="252.4" r="7.5" fill="#00ff00"/><circle cx="604.5" cy="254.4" r="7.5" fill="#00ff00"/><circle cx="614.6" cy="256.4" r="7.5" fill="#00ff00"/><circle cx="624.7" cy="258.3" r="7.5" fill="#00ff00"/><circle cx="634.7" cy="260.2" r="7.5" fill="#00ff00"/><circle cx="644.8" cy="262.0" r="7.5" fill="#00ff00"/><circle cx="654.8" cy="263.8" r="7.5" fill="#00ff00"/><circle cx="664.9" cy="265.5" r="7.5" fill="#00ff00"/><circle cx="675.0" cy="267.2" r="7.5" fill="#00ff00"/><circle cx="685.0" cy="268.8" r="7.5" fill="#00ff00"/><circle cx="695.1" cy="270.3" r="7.5" fill="#00ff00"/><circle cx="705.1" cy="271.8" r="7.5" fill="#00ff00"/><circle cx="715.2" cy="273.2" r="7.5" fill="#00ff00"/><circle cx="725.3" cy="274.5" r="7.5" fill="#00ff00"/><circle cx="735.3" cy="275.9" r="7.5" fill="#00ff00"/><circle cx="745.4" cy="277.1" r="7.5" fill="#00ff00"/><circle cx="755.4" cy="278.4" r="7.5" fill="#00ff00"/><circle cx="765.5" cy="279.6" r="7.5" fill="#00ff00"/><circle cx="775.6" cy="280.7" r="7.5" fill="#00ff00"/><circle cx="785.6" cy="281.8" r="7.5" fill="#00ff00"/><circle cx="795.7" cy="282.8" r="7.5" fill="#00ff00"/><circle cx="805.7" cy="283.7" r="7.5" fill="#00ff00"/></g>
<text transform="translate(101.6 452.6) scale(0.976 1.035)" font-family="'Liberation Sans', Arial, sans-serif" font-size="35.5" text-anchor="middle">0.3</text>
<text transform="translate(202.2 452.6) scale(0.976 1.035)" font-family="'Liberation Sans', Arial, sans-serif" font-size="35.5" text-anchor="middle">0.4</text>
<text transform="translate(302.8 452.6) scale(0.976 1.035)" font-family="'Liberation Sans', Arial, sans-serif" font-size="35.5" text-anchor="middle">0.5</text>
<text transform="translate(403.4 452.6) scale(0.976 1.035)" font-family="'Liberation Sans', Arial, sans-serif" font-size="35.5" text-anchor="middle">0.6</text>
<text transform="translate(504.0 452.6) scale(0.976 1.035)" font-family="'Liberation Sans', Arial, sans-serif" font-size="35.5" text-anchor="middle">0.7</text>
<text transform="translate(604.5 452.6) scale(0.976 1.035)" font-family="'Liberation Sans', Arial, sans-serif" font-size="35.5" text-anchor="middle">0.8</text>
<text transform="translate(705.1 452.6) scale(0.976 1.035)" font-family="'Liberation Sans', Arial, sans-serif" font-size="35.5" text-anchor="middle">0.9</text>
<text transform="translate(805.7 452.6) scale(0.976 1.035)" font-family="'Liberation Sans', Arial, sans-serif" font-size="35.5" text-anchor="middle">1.0</text>
<text transform="translate(89.4 414.4) scale(0.976 1.035)" font-family="'Liberation Sans', Arial, sans-serif" font-size="35.5" text-anchor="end">0.0</text>
<text transform="translate(89.4 337.3) scale(0.976 1.035)" font-family="'Liberation Sans', Arial, sans-serif" font-size="35.5" text-anchor="end">0.2</text>
<text transform="translate(89.4 260.2) scale(0.976 1.035)" font-family="'Liberation Sans', Arial, sans-serif" font-size="35.5" text-anchor="end">0.4</text>
<text transform="translate(89.4 183.1) scale(0.976 1.035)" font-family="'Liberation Sans', Arial, sans-serif" font-size="35.5" text-anchor="end">0.6</text>
<text transform="translate(89.4 106.0) scale(0.976 1.035)" font-family="'Liberation Sans', Arial, sans-serif" font-size="35.5" text-anchor="end">0.8</text>
<text transform="translate(89.4 28.9) scale(0.976 1.035)" font-family="'Liberation Sans', Arial, sans-serif" font-size="35.5" text-anchor="end">1.0</text>
<text x="637.7" y="48.0" font-family="'Liberation Sans', Arial, sans-serif" font-size="37.8" font-style="normal" text-anchor="start" >(a) r =2.0</text>
<path d="M405.0 43.0L459.5 43.0" fill="none" stroke="#ff0000" stroke-width="5.5" stroke-linecap="round" stroke-linejoin="round" stroke-dasharray="0 27.2"/>
<path d="M437.6 33.4L446.2 48.0L429.0 48.0Z" fill="#ff0000"/>
<path d="M405.0 91.1L459.5 91.1" fill="none" stroke="#0000ff" stroke-width="5.5" stroke-linecap="round" stroke-linejoin="round" stroke-dasharray="0 27.2"/>
<rect x="431.0" y="84.6" width="13.2" height="13" fill="#0000ff"/>
<path d="M405.0 139.3L459.5 139.3" fill="none" stroke="#00ff00" stroke-width="5.5" stroke-linecap="round" stroke-linejoin="round" stroke-dasharray="0 27.2"/>
<circle cx="437.6" cy="139.3" r="7.5" fill="#00ff00"/>
<text x="479.2" y="54.0" font-family="'Liberation Sans', Arial, sans-serif" font-size="26.9">ρ</text>
<text x="493.7" y="63.0" font-family="'Liberation Sans', Arial, sans-serif" font-size="18.2">C</text>
<text x="479.2" y="102.0" font-family="'Liberation Sans', Arial, sans-serif" font-size="26.9">ρ</text>
<text x="493.7" y="111.0" font-family="'Liberation Sans', Arial, sans-serif" font-size="18.2">D</text>
<text x="479.2" y="149.9" font-family="'Liberation Sans', Arial, sans-serif" font-size="26.9">ρ</text>
<text x="493.7" y="158.9" font-family="'Liberation Sans', Arial, sans-serif" font-size="18.2">P</text>
<text x="505.0" y="165.0" font-family="'Liberation Sans', Arial, sans-serif" font-size="14">s</text>
<text x="422.8" y="504.9" font-family="'Liberation Sans', Arial, sans-serif" font-size="38" font-style="normal" text-anchor="start" >fine,</text>
<text transform="translate(506.2 505.0) scale(1.28 1)" font-family="'Liberation Serif', 'Times New Roman', serif" font-size="37.7" font-style="italic">β</text>
<text transform="translate(28.3 211.8) rotate(-90)" font-family="'Liberation Sans', Arial, sans-serif" font-size="37.5" text-anchor="middle">frequencies</text>
<g fill="#ff0000" clip-path="url(#cd)"><circle cx="121.9" cy="663.0" r="2.75"/><circle cx="127.0" cy="636.3" r="2.75"/><circle cx="132.2" cy="609.5" r="2.75"/><circle cx="149.9" cy="624.0" r="2.75"/></g>
<g clip-path="url(#cd)"><path d="M116.8 680.1L125.4 694.7L108.2 694.7Z" fill="#ff0000"/><path d="M133.6 592.6L142.2 607.2L125.0 607.2Z" fill="#ff0000"/><path d="M150.3 615.0L158.9 629.6L141.7 629.6Z" fill="#ff0000"/><path d="M167.1 628.1L175.7 642.7L158.5 642.7Z" fill="#ff0000"/><path d="M183.9 640.8L192.5 655.4L175.3 655.4Z" fill="#ff0000"/><path d="M200.7 649.3L209.3 663.9L192.1 663.9Z" fill="#ff0000"/><path d="M217.4 659.7L226.0 674.3L208.8 674.3Z" fill="#ff0000"/><path d="M234.2 667.4L242.8 682.0L225.6 682.0Z" fill="#ff0000"/><path d="M251.0 675.5L259.6 690.1L242.4 690.1Z" fill="#ff0000"/><path d="M267.8 681.2L276.4 695.8L259.2 695.8Z" fill="#ff0000"/><path d="M284.5 688.9L293.1 703.5L275.9 703.5Z" fill="#ff0000"/><path d="M301.3 695.1L309.9 709.7L292.7 709.7Z" fill="#ff0000"/><path d="M318.1 700.9L326.7 715.5L309.5 715.5Z" fill="#ff0000"/><path d="M334.8 706.7L343.4 721.3L326.2 721.3Z" fill="#ff0000"/><path d="M351.6 713.2L360.2 727.8L343.0 727.8Z" fill="#ff0000"/><path d="M368.4 718.2L377.0 732.8L359.8 732.8Z" fill="#ff0000"/><path d="M385.2 723.2L393.8 737.8L376.6 737.8Z" fill="#ff0000"/><path d="M401.9 728.8L410.5 743.4L393.3 743.4Z" fill="#ff0000"/><path d="M418.7 732.9L427.3 747.5L410.1 747.5Z" fill="#ff0000"/><path d="M435.5 737.1L444.1 751.7L426.9 751.7Z" fill="#ff0000"/><path d="M452.2 741.0L460.9 755.6L443.6 755.6Z" fill="#ff0000"/><path d="M469.0 744.8L477.6 759.4L460.4 759.4Z" fill="#ff0000"/><path d="M485.8 748.3L494.4 762.9L477.2 762.9Z" fill="#ff0000"/><path d="M502.6 752.1L511.2 766.7L494.0 766.7Z" fill="#ff0000"/><path d="M519.3 756.0L527.9 770.6L510.7 770.6Z" fill="#ff0000"/><path d="M536.1 757.9L544.7 772.5L527.5 772.5Z" fill="#ff0000"/><path d="M552.9 762.1L561.5 776.7L544.3 776.7Z" fill="#ff0000"/><path d="M569.7 764.8L578.3 779.4L561.1 779.4Z" fill="#ff0000"/><path d="M586.4 767.9L595.0 782.5L577.8 782.5Z" fill="#ff0000"/><path d="M603.2 770.6L611.8 785.2L594.6 785.2Z" fill="#ff0000"/><path d="M620.0 775.6L628.6 790.2L611.4 790.2Z" fill="#ff0000"/><path d="M636.7 777.9L645.3 792.5L628.1 792.5Z" fill="#ff0000"/><path d="M653.5 781.8L662.1 796.4L644.9 796.4Z" fill="#ff0000"/><path d="M670.3 786.4L678.9 801.0L661.7 801.0Z" fill="#ff0000"/><path d="M687.1 790.7L695.7 805.3L678.5 805.3Z" fill="#ff0000"/><path d="M703.8 796.4L712.4 811.0L695.2 811.0Z" fill="#ff0000"/><path d="M720.6 801.4L729.2 816.0L712.0 816.0Z" fill="#ff0000"/><path d="M737.4 807.6L746.0 822.2L728.8 822.2Z" fill="#ff0000"/><path d="M754.2 814.9L762.8 829.5L745.6 829.5Z" fill="#ff0000"/><path d="M770.9 825.0L779.5 839.6L762.3 839.6Z" fill="#ff0000"/><path d="M787.7 831.9L796.3 846.5L779.1 846.5Z" fill="#ff0000"/></g>
<g fill="#0000ff" clip-path="url(#cd)"></g>
<g clip-path="url(#cd)"><rect x="110.2" y="929.0" width="13.2" height="13" fill="#0000ff"/><rect x="127.0" y="915.5" width="13.2" height="13" fill="#0000ff"/><rect x="143.7" y="898.9" width="13.2" height="13" fill="#0000ff"/><rect x="160.5" y="887.0" width="13.2" height="13" fill="#0000ff"/><rect x="177.3" y="875.1" width="13.2" height="13" fill="#0000ff"/><rect x="194.1" y="865.4" width="13.2" height="13" fill="#0000ff"/><rect x="210.8" y="856.2" width="13.2" height="13" fill="#0000ff"/><rect x="227.6" y="847.7" width="13.2" height="13" fill="#0000ff"/><rect x="244.4" y="840.8" width="13.2" height="13" fill="#0000ff"/><rect x="261.2" y="834.6" width="13.2" height="13" fill="#0000ff"/><rect x="277.9" y="828.1" width="13.2" height="13" fill="#0000ff"/><rect x="294.7" y="822.3" width="13.2" height="13" fill="#0000ff"/><rect x="311.5" y="816.1" width="13.2" height="13" fill="#0000ff"/><rect x="328.2" y="811.1" width="13.2" height="13" fill="#0000ff"/><rect x="345.0" y="805.3" width="13.2" height="13" fill="#0000ff"/><rect x="361.8" y="800.7" width="13.2" height="13" fill="#0000ff"/><rect x="378.6" y="796.5" width="13.2" height="13" fill="#0000ff"/><rect x="395.3" y="791.8" width="13.2" height="13" fill="#0000ff"/><rect x="412.1" y="788.0" width="13.2" height="13" fill="#0000ff"/><rect x="428.9" y="783.0" width="13.2" height="13" fill="#0000ff"/><rect x="445.6" y="779.1" width="13.2" height="13" fill="#0000ff"/><rect x="462.4" y="775.3" width="13.2" height="13" fill="#0000ff"/><rect x="479.2" y="771.0" width="13.2" height="13" fill="#0000ff"/><rect x="496.0" y="766.8" width="13.2" height="13" fill="#0000ff"/><rect x="512.7" y="764.1" width="13.2" height="13" fill="#0000ff"/><rect x="529.5" y="761.0" width="13.2" height="13" fill="#0000ff"/><rect x="546.3" y="757.9" width="13.2" height="13" fill="#0000ff"/><rect x="563.1" y="756.4" width="13.2" height="13" fill="#0000ff"/><rect x="579.8" y="752.5" width="13.2" height="13" fill="#0000ff"/><rect x="596.6" y="749.5" width="13.2" height="13" fill="#0000ff"/><rect x="613.4" y="746.4" width="13.2" height="13" fill="#0000ff"/><rect x="630.1" y="744.4" width="13.2" height="13" fill="#0000ff"/><rect x="646.9" y="740.6" width="13.2" height="13" fill="#0000ff"/><rect x="663.7" y="737.1" width="13.2" height="13" fill="#0000ff"/><rect x="680.5" y="733.7" width="13.2" height="13" fill="#0000ff"/><rect x="697.2" y="730.6" width="13.2" height="13" fill="#0000ff"/><rect x="714.0" y="725.9" width="13.2" height="13" fill="#0000ff"/><rect x="730.8" y="722.5" width="13.2" height="13" fill="#0000ff"/><rect x="747.6" y="715.5" width="13.2" height="13" fill="#0000ff"/><rect x="764.3" y="707.1" width="13.2" height="13" fill="#0000ff"/><rect x="781.1" y="704.0" width="13.2" height="13" fill="#0000ff"/></g>
<g fill="#00ff00" clip-path="url(#cd)"><circle cx="121.3" cy="821.7" r="2.75"/><circle cx="125.9" cy="848.5" r="2.75"/><circle cx="130.4" cy="875.3" r="2.75"/></g>
<g clip-path="url(#cd)"><circle cx="116.8" cy="794.9" r="7.5" fill="#00ff00"/><circle cx="133.6" cy="894.3" r="7.5" fill="#00ff00"/><circle cx="150.3" cy="888.5" r="7.5" fill="#00ff00"/><circle cx="167.1" cy="888.5" r="7.5" fill="#00ff00"/><circle cx="183.9" cy="887.3" r="7.5" fill="#00ff00"/><circle cx="200.7" cy="886.9" r="7.5" fill="#00ff00"/><circle cx="217.4" cy="886.6" r="7.5" fill="#00ff00"/><circle cx="234.2" cy="886.4" r="7.5" fill="#00ff00"/><circle cx="251.0" cy="886.2" r="7.5" fill="#00ff00"/><circle cx="267.8" cy="885.9" r="7.5" fill="#00ff00"/><circle cx="284.5" cy="885.6" r="7.5" fill="#00ff00"/><circle cx="301.3" cy="885.3" r="7.5" fill="#00ff00"/><circle cx="318.1" cy="885.0" r="7.5" fill="#00ff00"/><circle cx="334.8" cy="884.8" r="7.5" fill="#00ff00"/><circle cx="351.6" cy="884.6" r="7.5" fill="#00ff00"/><circle cx="368.4" cy="884.4" r="7.5" fill="#00ff00"/><circle cx="385.2" cy="884.3" r="7.5" fill="#00ff00"/><circle cx="401.9" cy="884.1" r="7.5" fill="#00ff00"/><circle cx="418.7" cy="883.9" r="7.5" fill="#00ff00"/><circle cx="435.5" cy="883.7" r="7.5" fill="#00ff00"/><circle cx="452.2" cy="883.5" r="7.5" fill="#00ff00"/><circle cx="469.0" cy="883.3" r="7.5" fill="#00ff00"/><circle cx="485.8" cy="883.1" r="7.5" fill="#00ff00"/><circle cx="502.6" cy="882.9" r="7.5" fill="#00ff00"/><circle cx="519.3" cy="882.7" r="7.5" fill="#00ff00"/><circle cx="536.1" cy="882.4" r="7.5" fill="#00ff00"/><circle cx="552.9" cy="882.0" r="7.5" fill="#00ff00"/><circle cx="569.7" cy="881.6" r="7.5" fill="#00ff00"/><circle cx="586.4" cy="881.2" r="7.5" fill="#00ff00"/><circle cx="603.2" cy="880.8" r="7.5" fill="#00ff00"/><circle cx="620.0" cy="880.5" r="7.5" fill="#00ff00"/><circle cx="636.7" cy="880.1" r="7.5" fill="#00ff00"/><circle cx="653.5" cy="879.6" r="7.5" fill="#00ff00"/><circle cx="670.3" cy="879.0" r="7.5" fill="#00ff00"/><circle cx="687.1" cy="878.1" r="7.5" fill="#00ff00"/><circle cx="703.8" cy="876.9" r="7.5" fill="#00ff00"/><circle cx="720.6" cy="875.8" r="7.5" fill="#00ff00"/><circle cx="737.4" cy="875.0" r="7.5" fill="#00ff00"/><circle cx="754.2" cy="873.5" r="7.5" fill="#00ff00"/><circle cx="770.9" cy="871.2" r="7.5" fill="#00ff00"/><circle cx="787.7" cy="867.7" r="7.5" fill="#00ff00"/></g>
<text transform="translate(116.8 984.2) scale(0.976 1.035)" font-family="'Liberation Sans', Arial, sans-serif" font-size="35.5" text-anchor="middle">0.0</text>
<text transform="translate(88.0 945.9) scale(0.976 1.035)" font-family="'Liberation Sans', Arial, sans-serif" font-size="35.5" text-anchor="end">0.0</text>
<text transform="translate(251.0 984.2) scale(0.976 1.035)" font-family="'Liberation Sans', Arial, sans-serif" font-size="35.5" text-anchor="middle">0.2</text>
<text transform="translate(88.0 868.8) scale(0.976 1.035)" font-family="'Liberation Sans', Arial, sans-serif" font-size="35.5" text-anchor="end">0.2</text>
<text transform="translate(385.2 984.2) scale(0.976 1.035)" font-family="'Liberation Sans', Arial, sans-serif" font-size="35.5" text-anchor="middle">0.4</text>
<text transform="translate(88.0 791.8) scale(0.976 1.035)" font-family="'Liberation Sans', Arial, sans-serif" font-size="35.5" text-anchor="end">0.4</text>
<text transform="translate(519.3 984.2) scale(0.976 1.035)" font-family="'Liberation Sans', Arial, sans-serif" font-size="35.5" text-anchor="middle">0.6</text>
<text transform="translate(88.0 714.7) scale(0.976 1.035)" font-family="'Liberation Sans', Arial, sans-serif" font-size="35.5" text-anchor="end">0.6</text>
<text transform="translate(653.5 984.2) scale(0.976 1.035)" font-family="'Liberation Sans', Arial, sans-serif" font-size="35.5" text-anchor="middle">0.8</text>
<text transform="translate(88.0 637.7) scale(0.976 1.035)" font-family="'Liberation Sans', Arial, sans-serif" font-size="35.5" text-anchor="end">0.8</text>
<text transform="translate(787.7 984.2) scale(0.976 1.035)" font-family="'Liberation Sans', Arial, sans-serif" font-size="35.5" text-anchor="middle">1.0</text>
<text transform="translate(88.0 560.6) scale(0.976 1.035)" font-family="'Liberation Sans', Arial, sans-serif" font-size="35.5" text-anchor="end">1.0</text>
<text x="636.7" y="579.0" font-family="'Liberation Sans', Arial, sans-serif" font-size="37.8" font-style="normal" text-anchor="start" >(d) r =3.5</text>
<path d="M403.5 574.0L458.0 574.0" fill="none" stroke="#ff0000" stroke-width="5.5" stroke-linecap="round" stroke-linejoin="round" stroke-dasharray="0 27.2"/>
<path d="M436.1 564.4L444.7 579.0L427.5 579.0Z" fill="#ff0000"/>
<path d="M403.5 622.1L458.0 622.1" fill="none" stroke="#0000ff" stroke-width="5.5" stroke-linecap="round" stroke-linejoin="round" stroke-dasharray="0 27.2"/>
<rect x="429.5" y="615.6" width="13.2" height="13" fill="#0000ff"/>
<path d="M403.5 670.3L458.0 670.3" fill="none" stroke="#00ff00" stroke-width="5.5" stroke-linecap="round" stroke-linejoin="round" stroke-dasharray="0 27.2"/>
<circle cx="436.1" cy="670.3" r="7.5" fill="#00ff00"/>
<text x="477.8" y="585.0" font-family="'Liberation Sans', Arial, sans-serif" font-size="26.9">ρ</text>
<text x="492.3" y="594.0" font-family="'Liberation Sans', Arial, sans-serif" font-size="18.2">C</text>
<text x="477.8" y="633.0" font-family="'Liberation Sans', Arial, sans-serif" font-size="26.9">ρ</text>
<text x="492.3" y="642.0" font-family="'Liberation Sans', Arial, sans-serif" font-size="18.2">D</text>
<text x="477.8" y="680.9" font-family="'Liberation Sans', Arial, sans-serif" font-size="26.9">ρ</text>
<text x="492.3" y="689.9" font-family="'Liberation Sans', Arial, sans-serif" font-size="18.2">P</text>
<text x="503.6" y="696.0" font-family="'Liberation Sans', Arial, sans-serif" font-size="14">s</text>
<text x="413.7" y="1035.8" font-family="'Liberation Sans', Arial, sans-serif" font-size="38" font-style="normal" text-anchor="start" >cost,</text>
<text transform="translate(506.1 1035.9) scale(1.125 1)" font-family="'Liberation Serif', 'Times New Roman', serif" font-size="37.7" font-style="italic">α</text>
<text transform="translate(27.8 742.9) rotate(-90)" font-family="'Liberation Sans', Arial, sans-serif" font-size="37.6" text-anchor="middle">frequencies</text>
<path d="M956.6 271.2L957.5 271.2L958.3 271.2L959.2 271.2L960.1 271.2L960.9 271.3L961.8 271.3L962.6 271.3L963.5 271.3L964.4 271.3L965.2 271.3L966.1 271.3L967.0 271.3L967.8 271.3L968.7 271.4L969.5 271.4L970.4 271.4L971.3 271.4L972.1 271.4L973.0 271.5L973.9 271.5L974.7 271.5L975.6 271.5L976.5 271.6L977.3 271.6L978.2 271.6L979.0 271.7L979.9 271.7L980.8 271.7L981.6 271.8L982.5 271.8L983.4 271.8L984.2 271.9L985.1 271.9L985.9 271.9L986.8 272.0L987.7 272.0L988.5 272.1L989.4 272.1L990.3 272.1L991.1 272.2L992.0 272.3L992.9 272.3L993.7 272.4L994.6 272.5L995.4 272.6L996.3 272.7L997.2 272.8L998.0 272.9L998.9 273.0L999.8 273.2L1000.6 273.3L1001.5 273.4L1002.3 273.6L1003.2 273.7L1004.1 273.8L1004.9 274.0L1005.8 274.1L1006.7 274.3L1007.5 274.4L1008.4 274.6L1009.3 274.7L1010.1 274.9L1011.0 275.1L1011.8 275.3L1012.7 275.5L1013.6 275.7L1014.4 275.9L1015.3 276.1L1016.2 276.3L1017.0 276.5L1017.9 276.8L1018.7 277.0L1019.6 277.2L1020.5 277.5L1021.3 277.7L1022.2 278.0L1023.1 278.3L1023.9 278.6L1024.8 278.9L1025.6 279.2L1026.5 279.5L1027.4 279.8L1028.2 280.2L1029.1 280.5L1030.0 280.9L1030.8 281.3L1031.7 281.6L1032.6 282.0L1033.4 282.4L1034.3 282.8L1035.1 283.2L1036.0 283.6L1036.9 284.1L1037.7 284.5L1038.6 284.9L1039.5 285.4L1040.3 285.9L1041.2 286.4L1042.0 286.9L1042.9 287.4L1043.8 287.9L1044.6 288.4L1045.5 289.0L1046.4 289.5L1047.2 290.1L1048.1 290.7L1049.0 291.2L1049.8 291.8L1050.7 292.4L1051.5 293.0L1052.4 293.6L1053.3 294.2L1054.1 294.8L1055.0 295.5L1055.9 296.1L1056.7 296.8L1057.6 297.5L1058.4 298.2L1059.3 298.8L1060.2 299.6L1061.0 300.3L1061.9 301.0L1062.8 301.7L1063.6 302.5L1064.5 303.2L1065.4 304.0L1066.2 304.7L1067.1 305.5L1067.9 306.3L1068.8 307.1L1069.7 307.9L1070.5 308.7L1071.4 309.6L1072.3 310.4L1073.1 311.3L1074.0 312.1L1074.8 313.0L1075.7 313.9L1076.6 314.8L1077.4 315.7L1078.3 316.6L1079.2 317.5L1080.0 318.4L1080.9 319.3L1081.8 320.2L1082.6 321.1L1083.5 322.0L1084.3 323.0L1085.2 323.9L1086.1 324.8L1086.9 325.8L1087.8 326.7L1088.7 327.6L1089.5 328.6L1090.4 329.5L1091.2 330.5L1092.1 331.5L1093.0 332.4L1093.8 333.4L1094.7 334.4L1095.6 335.4L1096.4 336.4L1097.3 337.3L1098.2 338.3L1099.0 339.4L1099.9 340.4L1100.7 341.4L1101.6 342.5L1102.5 343.6L1103.3 344.6L1104.2 345.7L1105.1 346.8L1105.9 347.8L1106.8 348.9L1107.6 350.0L1108.5 351.0L1109.4 352.0L1110.2 353.1L1111.1 354.1L1112.0 355.0L1112.8 356.0L1113.7 356.9L1114.6 357.8L1115.4 358.7L1116.3 359.6L1117.1 360.5L1118.0 361.4L1118.9 362.3L1119.7 363.1L1120.6 364.0L1121.5 364.8L1122.3 365.7L1123.2 366.5L1124.0 367.3L1124.9 368.1L1125.8 368.9L1126.6 369.7L1127.5 370.5L1128.4 371.2L1129.2 372.0L1130.1 372.7L1131.0 373.5L1131.8 374.2L1132.7 375.0L1133.5 375.7L1134.4 376.5L1135.3 377.2L1136.1 377.9L1137.0 378.6L1137.9 379.3L1138.7 380.0L1139.6 380.6L1140.4 381.3L1141.3 381.9L1142.2 382.5L1143.0 383.1L1143.9 383.7L1144.8 384.2L1145.6 384.8L1146.5 385.4L1147.4 385.9L1148.2 386.4L1149.1 387.0L1149.9 387.5L1150.8 388.0L1151.7 388.5L1152.5 389.0L1153.4 389.4L1154.3 389.9L1155.1 390.3L1156.0 390.7L1156.8 391.1L1157.7 391.5L1158.6 391.9L1159.4 392.2L1160.3 392.5L1161.2 392.9L1162.0 393.2L1162.9 393.5L1163.7 393.8L1164.6 394.2L1165.5 394.5L1166.3 394.7L1167.2 395.0L1168.1 395.3L1168.9 395.5L1169.8 395.8L1170.7 396.0L1171.5 396.2L1172.4 396.4L1173.2 396.5L1174.1 396.7L1175.0 396.8L1175.8 396.9L1176.7 397.0L1177.6 397.1L1178.4 397.2L1179.3 397.2L1180.1 397.3L1181.0 397.4L1181.9 397.5L1182.7 397.6L1183.6 397.6L1184.5 397.7L1185.3 397.7L1186.2 397.8L1187.1 397.8L1187.9 397.8L1188.8 397.9L1189.6 397.9L1190.5 397.9L1191.4 397.9L1192.2 397.9L1193.1 397.9L1194.0 397.9L1194.8 397.9L1195.7 397.9L1196.5 397.9L1197.4 397.9L1198.3 397.9L1199.1 397.9L1200.0 397.9L1200.9 397.9L1201.7 397.9L1202.6 397.9L1203.5 397.9L1204.3 397.9L1205.2 397.9L1206.0 397.9L1206.9 397.9L1207.8 397.9L1208.6 397.9L1209.5 397.9L1210.4 397.9L1211.2 397.9L1212.1 397.9L1212.9 397.9L1213.8 397.9L1214.7 397.9L1215.5 397.9L1216.4 397.8L1217.3 397.8L1218.1 397.7L1219.0 397.6L1219.9 397.5L1220.7 397.4L1221.6 397.3L1222.4 397.2L1223.3 397.0L1224.2 396.9L1225.0 396.7L1225.9 396.5L1226.8 396.4L1227.6 396.2L1228.5 396.0L1229.3 395.8L1230.2 395.6L1231.1 395.4L1231.9 395.2L1232.8 395.0L1233.7 394.7L1234.5 394.4L1235.4 394.1L1236.3 393.7L1237.1 393.4L1238.0 393.0L1238.8 392.6L1239.7 392.2L1240.6 391.7L1241.4 391.3L1242.3 390.8L1243.2 390.3L1244.0 389.8L1244.9 389.3L1245.7 388.8L1246.6 388.3L1247.5 387.7L1248.3 387.1L1249.2 386.4L1250.1 385.7L1250.9 385.0L1251.8 384.2L1252.7 383.3L1253.5 382.3L1254.4 381.2L1255.2 380.0L1256.1 378.7L1257.0 377.4L1257.8 376.1L1258.7 374.7L1259.6 373.2L1260.4 371.6L1261.3 369.9L1262.1 368.1L1263.0 366.3L1263.9 364.6L1264.7 362.9L1265.6 361.2L1266.5 359.6L1267.3 357.9L1268.2 356.3L1269.1 354.7L1269.9 353.2L1270.8 351.8L1271.6 350.5L1272.5 349.1L1273.4 347.7L1274.2 346.5L1275.1 345.9L1276.0 345.9L1276.8 346.3L1277.7 347.0L1278.5 347.9L1279.4 348.9L1280.3 349.9L1281.1 350.8L1282.0 351.7L1282.9 352.6L1283.7 353.7L1284.6 354.7L1285.5 355.6L1286.3 356.4L1287.2 356.9L1288.0 357.0L1288.9 356.6L1289.8 355.8L1290.6 354.7L1291.5 353.4L1292.4 351.9L1293.2 350.4L1294.1 349.1L1294.9 347.7L1295.8 346.2L1296.7 344.7L1297.5 343.3L1298.4 342.1L1299.3 340.9L1300.1 339.8L1301.0 338.9L1301.6 339.0L1302.1 339.5L1302.7 339.9L1303.2 338.2L1303.8 339.7L1304.3 340.4L1304.8 339.0L1305.3 340.3L1305.8 340.7L1306.3 340.8L1306.8 340.3L1307.3 341.1L1307.8 338.9L1308.3 338.6L1308.7 337.6L1309.2 339.3L1309.6 339.3L1310.1 338.6L1310.5 337.0L1311.0 337.0L1311.4 337.6L1311.8 337.4L1312.2 340.6L1312.7 342.4L1313.1 335.5L1313.5 332.4L1313.9 333.9L1314.3 334.4L1314.6 336.2L1315.0 337.5L1315.4 342.5L1315.8 339.1L1316.2 338.2L1316.5 342.9L1316.9 343.2L1317.2 343.5L1317.6 341.1L1318.0 336.9L1318.3 337.9L1318.7 338.5L1319.0 335.9L1319.3 335.3L1319.7 336.2L1320.0 335.0L1320.3 335.9L1320.7 337.0L1321.0 337.7L1321.3 337.0L1321.6 338.9L1321.9 340.9L1322.2 341.0L1322.5 338.7L1322.8 340.4L1323.1 338.9L1323.4 340.9L1323.7 338.0L1324.0 340.3L1324.3 339.9L1324.6 337.0L1324.9 336.9L1325.2 337.6L1325.5 338.6L1325.7 336.6L1326.0 334.9L1326.3 336.6L1326.6 336.3L1326.8 337.6L1327.1 339.7L1327.4 335.9L1327.6 337.4L1327.9 340.5L1328.2 339.5L1328.4 337.6L1328.7 339.7L1328.9 340.1L1329.2 341.8L1329.4 340.3L1329.7 336.7L1329.9 337.2L1330.2 336.8L1330.4 339.1L1330.6 339.6L1330.9 335.9L1331.1 334.2L1331.4 337.5L1331.6 339.5L1331.8 338.0L1332.1 338.3L1332.3 339.5L1332.5 340.5L1332.7 342.0L1333.0 341.8L1333.2 340.8L1333.4 339.8L1333.6 341.9L1333.8 336.2L1334.1 336.8L1334.3 337.5L1334.5 334.9L1334.7 336.8L1334.9 336.1L1335.1 338.8L1335.3 338.7L1335.6 340.3L1335.8 342.6L1336.0 342.5L1336.2 339.7L1336.4 336.2L1336.6 340.9L1336.8 340.2L1337.0 338.4L1337.2 338.9L1337.4 338.6L1337.6 340.6L1337.8 340.3L1338.0 340.0L1338.1 338.2L1338.3 339.5L1338.5 337.2L1338.7 339.2L1338.9 342.5L1339.1 338.3L1339.3 333.2L1339.5 336.2L1339.6 342.6L1339.8 339.5L1340.0 336.7L1340.2 338.7L1340.4 337.0L1340.6 336.6L1340.7 336.6L1340.9 338.5L1341.1 337.8L1341.3 338.8L1341.4 338.6L1341.6 336.9L1341.8 336.9L1342.0 335.5L1342.1 336.6L1342.3 334.9L1342.5 333.8L1342.6 338.5L1342.8 338.6L1343.0 338.7L1343.3 338.8L1343.6 339.6L1343.9 337.4L1344.3 338.3L1344.6 335.2L1344.9 340.1L1345.2 338.2L1345.5 335.4L1345.8 338.2L1346.1 338.3L1346.4 341.3L1346.7 343.9L1347.0 340.4L1347.3 340.0L1347.6 340.0L1347.9 338.9L1348.2 335.6L1348.5 341.3L1348.8 341.5L1349.0 345.2L1349.3 341.2L1349.6 339.3L1349.9 337.3L1350.1 340.2L1350.4 335.4L1350.7 333.9L1350.9 338.6L1351.2 337.5L1351.4 345.7L1351.7 341.7L1352.0 339.5L1352.2 341.5L1352.5 338.3L1352.7 338.2L1353.0 337.2L1353.2 335.5L1353.4 336.2L1353.7 337.4L1353.9 339.5L1354.2 338.7L1354.4 336.8L1354.6 337.2L1354.9 334.9L1355.1 338.5L1355.3 333.9L1355.6 337.8L1355.8 338.1L1356.0 335.2L1356.2 337.0L1356.5 335.0L1356.7 338.6L1356.9 338.0L1357.1 338.8L1357.3 338.4L1357.6 337.7L1357.8 338.6L1358.0 337.8L1358.2 338.8L1358.4 339.1L1358.6 334.3L1358.8 333.9L1359.0 336.5L1359.2 337.3L1359.4 338.1L1359.6 341.7L1359.8 337.9L1360.0 339.9L1360.2 338.3L1360.4 339.2L1360.6 339.9L1360.8 339.2L1361.0 338.2L1361.2 336.1L1361.4 338.6L1361.6 340.9L1361.8 341.0L1362.0 340.5L1362.2 342.1L1362.4 339.5L1362.6 337.2L1362.7 337.9L1362.9 340.9L1363.1 342.8L1363.3 343.8L1363.5 339.0L1363.6 338.4L1363.8 336.7L1364.0 338.5L1364.2 337.4L1364.4 336.2L1364.5 335.2L1364.7 335.4L1364.9 338.6L1365.1 340.9L1365.2 338.0L1365.4 339.7L1365.6 343.8L1365.7 338.7L1365.9 338.7L1366.1 335.9L1366.3 339.5L1366.6 339.7L1366.8 338.8L1367.1 340.3L1367.3 340.3L1367.5 342.5L1367.8 339.8L1368.0 339.4L1368.3 345.8L1368.5 342.0L1368.7 338.2L1368.9 340.3L1369.2 342.3L1369.4 339.8L1369.6 342.6L1369.9 342.6L1370.1 339.7L1370.3 338.5L1370.5 336.4L1370.7 341.3L1371.0 341.3L1371.2 340.3L1371.4 335.9L1371.6 338.3L1371.8 340.9L1372.0 340.1L1372.2 341.2L1372.4 340.0L1372.6 343.9L1372.8 343.7L1373.1 341.1L1373.3 336.0L1373.5 339.0L1373.7 343.0L1373.9 342.4L1374.1 343.8L1374.3 338.7L1374.4 343.4L1374.6 347.0L1374.8 346.5L1375.0 342.1L1375.2 340.3L1375.4 338.9L1375.6 339.4L1375.8 341.4L1376.0 340.3L1376.2 347.1L1376.3 346.6L1376.5 338.2L1376.7 341.6L1376.9 341.1L1377.1 338.2L1377.3 337.9L1377.4 338.3L1377.6 340.5L1377.8 336.8L1378.0 336.6L1378.1 340.1L1378.3 341.0L1378.5 341.6L1378.7 341.8L1378.8 335.4L1379.0 334.5L1379.2 336.1L1379.3 344.5L1379.5 344.7L1379.7 341.4L1379.9 340.1L1380.1 336.9L1380.3 342.6L1380.6 339.3L1380.8 341.7L1381.0 343.2L1381.2 344.0L1381.4 334.5L1381.6 339.1L1381.8 338.3L1382.0 332.4L1382.2 333.1L1382.4 333.2L1382.7 335.1L1382.9 342.4L1383.1 338.3L1383.3 339.1L1383.5 339.4L1383.7 345.4L1383.9 338.6L1384.1 347.7L1384.2 339.8L1384.4 337.9L1384.6 340.8L1384.8 340.6L1385.0 333.1L1385.2 335.7L1385.4 333.8L1385.6 335.0L1385.8 331.2L1385.9 342.3L1386.1 337.8L1386.3 338.2L1386.5 338.0L1386.7 341.3L1386.9 341.4L1387.0 339.4L1387.2 339.3L1387.4 334.6L1387.6 329.6L1387.7 330.2L1387.9 343.6L1388.1 338.0L1388.3 342.4L1388.4 341.3L1388.6 339.3L1388.8 342.3L1388.9 339.9L1389.1 336.4L1389.3 338.1L1389.5 338.5L1389.7 341.4L1389.9 337.6L1390.1 336.9L1390.3 339.9L1390.5 336.1L1390.7 333.1L1390.9 339.8L1391.1 338.3L1391.3 342.1L1391.5 339.4L1391.7 331.0L1391.9 338.5L1392.1 339.3L1392.2 336.9L1392.4 337.9L1392.6 341.1L1392.8 342.1L1393.0 337.4L1393.2 341.3L1393.4 340.4L1393.6 343.1L1393.7 345.8L1393.9 344.3L1394.1 343.0L1394.3 337.1L1394.5 339.3L1394.6 339.2L1394.8 342.0L1395.0 339.4L1395.2 339.3L1395.3 339.3L1395.5 336.1L1395.7 337.4L1395.9 335.3L1396.0 338.0L1396.2 343.0L1396.4 337.3L1396.5 339.9L1396.7 337.3L1396.9 344.3L1397.1 339.6L1397.3 340.8L1397.5 338.5L1397.7 335.8L1397.9 346.3L1398.1 342.7L1398.2 344.2L1398.4 334.1L1398.6 340.5L1398.8 337.2L1399.0 332.3L1399.2 342.0L1399.4 339.3L1399.6 343.7L1399.8 339.5L1399.9 333.4L1400.1 335.5L1400.3 334.9L1400.5 336.4L1400.7 342.4L1400.8 338.6L1401.0 340.5L1401.2 343.4L1401.4 338.6L1401.5 339.5L1401.7 343.2L1401.9 344.8L1402.1 341.2L1402.2 342.2L1402.4 340.6L1402.6 342.3L1402.7 339.4L1402.9 340.4L1403.1 334.5L1403.3 333.0L1403.5 343.7L1403.7 340.3L1403.9 340.9L1404.0 339.1L1404.2 344.0L1404.4 338.5L1404.6 337.6L1404.8 339.3L1405.0 344.7L1405.2 348.1L1405.3 337.8L1405.5 339.5L1405.7 336.2L1405.9 347.6L1406.1 341.2L1406.2 340.8L1406.4 342.0L1406.6 336.5L1406.8 343.3L1406.9 343.9L1407.1 340.6L1407.3 341.0L1407.4 341.7L1407.6 340.6L1407.8 331.2L1408.0 341.3L1408.1 341.5L1408.3 340.6L1408.5 342.7L1408.7 339.6L1408.9 338.0L1409.1 342.1L1409.2 334.2L1409.4 338.9L1409.6 338.7L1409.8 338.9L1410.0 344.4L1410.2 332.7L1410.3 338.7L1410.5 340.0L1410.7 341.3L1410.9 340.6L1411.0 336.7L1411.2 338.8L1411.4 337.4L1411.6 342.2L1411.7 345.9L1411.9 343.0L1412.1 339.3L1412.2 339.9L1412.4 343.6L1412.6 340.0L1412.8 342.7L1413.0 339.7L1413.1 341.6L1413.3 342.2L1413.5 334.5L1413.7 339.1L1413.9 339.5L1414.0 339.5L1414.2 340.3L1414.4 336.8L1414.6 341.9L1414.8 335.1L1414.9 341.0L1415.1 343.3L1415.3 347.3L1415.5 339.2L1415.6 330.9L1415.8 340.4L1416.0 344.1L1416.1 339.1L1416.3 337.3L1416.5 337.3L1416.6 339.3L1416.8 337.0L1417.0 342.1L1417.2 344.1L1417.4 338.3L1417.6 339.5L1417.7 343.1L1417.9 342.9L1418.1 338.7L1418.3 337.5L1418.4 340.9L1418.6 343.6L1418.8 335.6L1419.0 339.8L1419.1 344.1L1419.3 340.3L1419.5 338.5L1419.6 340.9L1419.8 343.7L1420.0 339.1L1420.1 346.4L1420.3 339.2L1420.5 341.5L1420.7 339.4L1420.9 340.9L1421.0 337.3L1421.2 342.8L1421.4 343.7" fill="none" stroke="#ff0000" stroke-width="5" stroke-linecap="round" stroke-linejoin="round" clip-path="url(#cb)"/>
<path d="M956.6 271.2L957.5 271.2L958.3 271.2L959.2 271.2L960.0 271.2L960.9 271.2L961.8 271.2L962.6 271.2L963.5 271.2L964.4 271.2L965.2 271.2L966.1 271.2L966.9 271.2L967.8 271.1L968.7 271.1L969.5 271.1L970.4 271.1L971.2 271.1L972.1 271.1L973.0 271.0L973.8 271.0L974.7 271.0L975.5 271.0L976.4 271.0L977.3 270.9L978.1 270.9L979.0 270.9L979.9 270.8L980.7 270.8L981.6 270.7L982.4 270.6L983.3 270.6L984.2 270.5L985.0 270.4L985.9 270.3L986.7 270.2L987.6 270.1L988.5 270.0L989.3 269.9L990.2 269.8L991.0 269.7L991.9 269.6L992.8 269.5L993.6 269.4L994.5 269.2L995.4 269.1L996.2 269.0L997.1 268.9L997.9 268.8L998.8 268.6L999.7 268.5L1000.5 268.4L1001.4 268.3L1002.2 268.1L1003.1 268.0L1004.0 267.9L1004.8 267.7L1005.7 267.6L1006.5 267.4L1007.4 267.2L1008.3 267.1L1009.1 266.9L1010.0 266.7L1010.9 266.6L1011.7 266.4L1012.6 266.2L1013.4 266.0L1014.3 265.8L1015.2 265.6L1016.0 265.4L1016.9 265.2L1017.7 265.0L1018.6 264.8L1019.5 264.6L1020.3 264.3L1021.2 264.1L1022.1 263.9L1022.9 263.6L1023.8 263.4L1024.6 263.1L1025.5 262.9L1026.4 262.6L1027.2 262.3L1028.1 262.0L1028.9 261.8L1029.8 261.5L1030.7 261.2L1031.5 260.9L1032.4 260.6L1033.2 260.3L1034.1 259.9L1035.0 259.5L1035.8 259.2L1036.7 258.8L1037.6 258.3L1038.4 257.9L1039.3 257.4L1040.1 256.9L1041.0 256.4L1041.9 255.9L1042.7 255.3L1043.6 254.8L1044.4 254.2L1045.3 253.6L1046.2 253.0L1047.0 252.4L1047.9 251.8L1048.7 251.2L1049.6 250.6L1050.5 249.9L1051.3 249.3L1052.2 248.6L1053.1 247.9L1053.9 247.2L1054.8 246.6L1055.6 245.9L1056.5 245.2L1057.4 244.5L1058.2 243.8L1059.1 243.1L1059.9 242.4L1060.8 241.7L1061.7 241.0L1062.5 240.2L1063.4 239.5L1064.2 238.7L1065.1 237.9L1066.0 237.0L1066.8 236.2L1067.7 235.4L1068.6 234.5L1069.4 233.6L1070.3 232.7L1071.1 231.8L1072.0 230.9L1072.9 230.0L1073.7 229.0L1074.6 228.1L1075.4 227.2L1076.3 226.2L1077.2 225.3L1078.0 224.3L1078.9 223.4L1079.7 222.4L1080.6 221.5L1081.5 220.5L1082.3 219.5L1083.2 218.6L1084.1 217.6L1084.9 216.7L1085.8 215.7L1086.6 214.7L1087.5 213.7L1088.4 212.7L1089.2 211.7L1090.1 210.6L1090.9 209.5L1091.8 208.5L1092.7 207.4L1093.5 206.3L1094.4 205.2L1095.3 204.1L1096.1 203.1L1097.0 202.0L1097.8 201.0L1098.7 199.9L1099.6 198.9L1100.4 197.9L1101.3 196.9L1102.1 195.9L1103.0 195.0L1103.9 194.0L1104.7 193.1L1105.6 192.3L1106.4 191.5L1107.3 190.7L1108.2 189.9L1109.0 189.1L1109.9 188.3L1110.8 187.5L1111.6 186.8L1112.5 186.0L1113.3 185.3L1114.2 184.6L1115.1 183.9L1115.9 183.2L1116.8 182.5L1117.6 181.9L1118.5 181.3L1119.4 180.7L1120.2 180.1L1121.1 179.6L1121.9 179.1L1122.8 178.7L1123.7 178.3L1124.5 177.9L1125.4 177.4L1126.3 177.1L1127.1 176.7L1128.0 176.3L1128.8 176.0L1129.7 175.7L1130.6 175.3L1131.4 175.1L1132.3 174.8L1133.1 174.5L1134.0 174.3L1134.9 174.1L1135.7 173.9L1136.6 173.7L1137.4 173.5L1138.3 173.4L1139.2 173.2L1140.0 173.1L1140.9 173.0L1141.8 173.0L1142.6 173.1L1143.5 173.2L1144.3 173.4L1145.2 173.6L1146.1 173.9L1146.9 174.2L1147.8 174.5L1148.6 174.9L1149.5 175.3L1150.4 175.7L1151.2 176.3L1152.1 176.9L1153.0 177.7L1153.8 178.6L1154.7 179.6L1155.5 180.6L1156.4 181.7L1157.3 182.9L1158.1 184.1L1159.0 185.4L1159.8 186.7L1160.7 188.0L1161.6 189.5L1162.4 191.2L1163.3 192.9L1164.1 194.8L1165.0 196.8L1165.9 198.8L1166.7 201.0L1167.6 203.2L1168.5 205.5L1169.3 207.8L1170.2 210.1L1171.0 212.4L1171.9 214.9L1172.8 217.4L1173.6 220.0L1174.5 222.7L1175.3 225.4L1176.2 228.4L1177.1 231.4L1177.9 234.5L1178.8 237.8L1179.6 241.2L1180.5 244.9L1181.4 249.0L1182.2 253.3L1183.1 257.7L1184.0 262.1L1184.8 266.3L1185.7 270.4L1186.5 274.3L1187.4 278.2L1188.3 282.1L1189.1 285.9L1190.0 289.7L1190.8 293.4L1191.7 297.1L1192.6 300.7L1193.4 304.3L1194.3 307.7L1195.1 311.2L1196.0 314.6L1196.9 318.1L1197.7 321.6L1198.6 325.2L1199.5 329.1L1200.3 333.1L1201.2 337.3L1202.0 341.4L1202.9 345.5L1203.8 349.3L1204.6 352.8L1205.5 355.9L1206.3 358.7L1207.2 361.4L1208.1 364.0L1208.9 366.5L1209.8 368.9L1210.7 371.2L1211.5 373.4L1212.4 375.4L1213.2 377.3L1214.1 379.1L1215.0 380.7L1215.8 382.2L1216.7 383.6L1217.5 385.0L1218.4 386.3L1219.3 387.6L1220.1 388.9L1221.0 390.0L1221.8 391.1L1222.7 392.1L1223.6 393.0L1224.4 393.8L1225.3 394.4L1226.2 394.9L1227.0 395.2L1227.9 395.5L1228.7 395.7L1229.6 396.0L1230.5 396.2L1231.3 396.4L1232.2 396.5L1233.0 396.7L1233.9 396.8L1234.8 396.9L1235.6 397.0L1236.5 397.1L1237.3 397.1L1238.2 397.1L1239.1 397.1L1239.9 397.0L1240.8 396.9L1241.7 396.8L1242.5 396.7L1243.4 396.6L1244.2 396.4L1245.1 396.3L1246.0 396.1L1246.8 395.9L1247.7 395.7L1248.5 395.5L1249.4 395.3L1250.3 395.1L1251.1 394.9L1252.0 394.7L1252.8 394.4L1253.7 394.1L1254.6 393.8L1255.4 393.5L1256.3 393.2L1257.2 392.8L1258.0 392.4L1258.9 391.9L1259.7 391.4L1260.6 390.9L1261.5 390.4L1262.3 389.8L1263.2 389.1L1264.0 388.2L1264.9 387.1L1265.8 386.0L1266.6 384.8L1267.5 383.5L1268.4 382.1L1269.2 380.7L1270.1 379.2L1270.9 377.3L1271.8 375.2L1272.7 373.1L1273.5 370.9L1274.4 368.9L1275.2 367.1L1276.1 365.6L1277.0 364.3L1277.8 362.9L1278.7 361.7L1279.5 360.5L1280.4 359.4L1281.3 358.3L1282.1 357.3L1283.0 356.4L1283.9 355.6L1284.7 354.8L1285.6 354.2L1286.4 353.5L1287.3 353.0L1288.2 352.4L1289.0 351.9L1289.9 351.4L1290.7 350.8L1291.6 350.2L1292.5 349.6L1293.3 349.0L1294.2 348.4L1295.0 347.8L1295.9 347.1L1296.8 346.5L1297.6 345.8L1298.5 345.2L1299.4 344.5L1300.2 343.9L1300.8 343.9L1301.4 343.6L1302.0 343.2L1302.5 340.2L1303.1 343.4L1303.6 345.6L1304.1 344.6L1304.7 346.1L1305.2 346.1L1305.7 344.3L1306.2 346.3L1306.7 345.0L1307.2 344.0L1307.7 342.2L1308.1 343.7L1308.6 343.6L1309.1 344.9L1309.5 343.3L1310.0 343.8L1310.4 341.9L1310.8 344.3L1311.3 344.6L1311.7 345.2L1312.1 345.7L1312.5 343.0L1312.9 345.0L1313.3 349.2L1313.7 344.2L1314.1 340.4L1314.5 338.1L1314.9 341.6L1315.3 342.6L1315.7 345.3L1316.0 346.5L1316.4 346.3L1316.8 346.3L1317.1 345.3L1317.5 346.8L1317.8 343.6L1318.2 342.8L1318.5 343.7L1318.9 347.7L1319.2 345.0L1319.6 342.4L1319.9 341.6L1320.2 344.4L1320.5 343.8L1320.9 346.8L1321.2 341.9L1321.5 345.0L1321.8 347.0L1322.1 343.1L1322.4 343.7L1322.7 346.5L1323.0 346.0L1323.3 347.6L1323.6 351.8L1323.9 350.2L1324.2 347.9L1324.5 345.1L1324.8 346.3L1325.1 345.2L1325.4 344.5L1325.7 344.2L1325.9 345.6L1326.2 342.8L1326.5 339.9L1326.8 335.8L1327.0 340.8L1327.3 341.9L1327.6 345.8L1327.8 345.3L1328.1 343.4L1328.3 344.6L1328.6 344.3L1328.8 341.6L1329.1 340.4L1329.3 345.3L1329.6 345.7L1329.8 346.2L1330.1 345.0L1330.3 343.3L1330.6 345.5L1330.8 344.9L1331.0 343.0L1331.3 343.1L1331.5 341.4L1331.8 342.6L1332.0 345.5L1332.2 343.3L1332.4 346.7L1332.7 344.5L1332.9 344.8L1333.1 342.8L1333.3 342.7L1333.6 343.2L1333.8 342.6L1334.0 341.5L1334.2 340.8L1334.4 340.0L1334.6 337.8L1334.9 339.0L1335.1 341.4L1335.3 344.1L1335.5 345.6L1335.7 350.5L1335.9 349.4L1336.1 347.0L1336.3 350.3L1336.5 346.3L1336.7 347.8L1336.9 344.7L1337.1 345.3L1337.3 340.7L1337.5 343.7L1337.7 343.5L1337.9 341.6L1338.1 346.0L1338.3 347.2L1338.5 346.4L1338.7 344.2L1338.8 344.1L1339.0 343.8L1339.2 345.5L1339.4 346.9L1339.6 344.7L1339.8 343.4L1340.0 342.5L1340.1 340.0L1340.3 340.0L1340.5 341.0L1340.7 343.4L1340.9 346.5L1341.0 344.1L1341.2 345.4L1341.4 344.1L1341.6 348.7L1341.7 347.3L1341.9 347.5L1342.1 344.6L1342.2 342.7L1342.4 343.6L1342.6 343.0L1342.7 344.1L1342.9 340.8L1343.2 341.6L1343.6 344.9L1343.9 343.3L1344.2 342.5L1344.5 342.7L1344.9 343.6L1345.2 346.5L1345.5 342.3L1345.8 341.6L1346.1 341.3L1346.4 341.8L1346.7 346.0L1347.0 343.3L1347.3 345.1L1347.6 345.6L1347.9 341.5L1348.1 340.3L1348.4 345.8L1348.7 341.4L1349.0 342.5L1349.3 347.4L1349.5 346.7L1349.8 343.1L1350.1 344.7L1350.3 344.6L1350.6 348.0L1350.9 347.6L1351.1 344.2L1351.4 345.4L1351.7 346.5L1351.9 342.2L1352.2 339.5L1352.4 344.2L1352.7 343.9L1352.9 346.1L1353.2 343.6L1353.4 348.8L1353.7 349.6L1353.9 347.1L1354.1 344.3L1354.4 343.9L1354.6 343.8L1354.8 342.2L1355.1 352.3L1355.3 349.0L1355.5 342.8L1355.8 342.1L1356.0 337.8L1356.2 342.0L1356.4 345.3L1356.7 340.8L1356.9 339.1L1357.1 342.5L1357.3 341.9L1357.5 340.7L1357.7 344.6L1358.0 344.2L1358.2 343.0L1358.4 342.4L1358.6 340.6L1358.8 339.8L1359.0 336.6L1359.2 337.4L1359.4 340.5L1359.6 346.6L1359.8 346.7L1360.0 347.7L1360.2 344.0L1360.4 347.2L1360.6 340.0L1360.8 337.3L1361.0 337.0L1361.2 342.1L1361.4 346.5L1361.6 347.5L1361.8 343.9L1362.0 339.5L1362.1 346.6L1362.3 347.6L1362.5 348.1L1362.7 347.3L1362.9 343.7L1363.1 347.2L1363.3 346.6L1363.4 345.4L1363.6 340.2L1363.8 340.6L1364.0 342.3L1364.2 344.5L1364.3 343.4L1364.5 344.8L1364.7 344.0L1364.9 344.4L1365.0 340.5L1365.2 343.4L1365.4 342.0L1365.5 345.0L1365.7 349.0L1365.9 344.2L1366.0 344.3L1366.2 346.5L1366.5 351.1L1366.7 349.3L1366.9 349.8L1367.2 347.9L1367.4 343.3L1367.7 344.0L1367.9 345.6L1368.1 339.1L1368.4 339.6L1368.6 345.6L1368.8 343.5L1369.1 344.8L1369.3 343.5L1369.5 347.4L1369.8 348.1L1370.0 346.2L1370.2 340.3L1370.4 343.0L1370.6 344.3L1370.9 343.1L1371.1 342.5L1371.3 343.1L1371.5 343.1L1371.7 345.5L1371.9 344.0L1372.1 339.9L1372.3 342.6L1372.6 346.4L1372.8 344.2L1373.0 348.0L1373.2 347.7L1373.4 348.4L1373.6 339.2L1373.8 337.7L1374.0 344.1L1374.2 339.6L1374.4 337.1L1374.6 341.2L1374.7 344.0L1374.9 344.9L1375.1 341.9L1375.3 352.1L1375.5 347.0L1375.7 345.3L1375.9 345.3L1376.1 348.9L1376.3 343.5L1376.4 344.0L1376.6 343.4L1376.8 341.6L1377.0 337.8L1377.2 339.9L1377.4 343.4L1377.5 345.2L1377.7 343.3L1377.9 343.4L1378.1 345.7L1378.2 344.1L1378.4 343.8L1378.6 346.3L1378.8 342.4L1378.9 340.2L1379.1 347.9L1379.3 347.7L1379.4 347.4L1379.6 343.3L1379.8 340.5L1380.0 342.7L1380.2 344.0L1380.4 341.8L1380.6 338.5L1380.9 343.1L1381.1 349.1L1381.3 348.7L1381.5 341.5L1381.7 342.6L1381.9 341.1L1382.1 346.8L1382.3 345.0L1382.5 341.4L1382.7 345.0L1382.9 344.6L1383.1 345.6L1383.3 344.2L1383.5 344.6L1383.7 346.3L1383.9 346.8L1384.1 342.8L1384.3 341.9L1384.5 340.2L1384.7 347.2L1384.9 346.6L1385.1 346.0L1385.3 344.1L1385.5 344.9L1385.7 348.1L1385.8 350.0L1386.0 345.2L1386.2 343.8L1386.4 348.7L1386.6 343.0L1386.8 349.5L1386.9 348.9L1387.1 343.4L1387.3 344.0L1387.5 343.2L1387.6 340.3L1387.8 344.0L1388.0 346.7L1388.2 343.0L1388.3 348.6L1388.5 344.3L1388.7 342.3L1388.9 337.3L1389.0 342.5L1389.2 338.9L1389.4 347.9L1389.6 349.9L1389.8 345.2L1390.0 349.8L1390.2 342.3L1390.4 349.1L1390.6 345.8L1390.8 348.8L1391.0 344.1L1391.2 341.9L1391.4 341.1L1391.6 342.8L1391.8 344.4L1392.0 343.8L1392.2 345.8L1392.3 346.7L1392.5 342.7L1392.7 350.5L1392.9 348.6L1393.1 345.9L1393.3 346.3L1393.5 346.8L1393.7 348.4L1393.8 343.8L1394.0 345.7L1394.2 344.7L1394.4 349.1L1394.6 352.9L1394.7 344.3L1394.9 346.5L1395.1 343.2L1395.3 339.6L1395.4 349.4L1395.6 354.2L1395.8 345.9L1396.0 345.2L1396.1 343.0L1396.3 342.4L1396.5 341.7L1396.6 342.1L1396.8 344.8L1397.0 346.8L1397.2 343.0L1397.4 345.6L1397.6 346.9L1397.8 351.1L1398.0 341.8L1398.2 345.8L1398.4 344.8L1398.6 337.3L1398.7 345.6L1398.9 345.0L1399.1 338.0L1399.3 345.7L1399.5 345.1L1399.7 341.4L1399.9 348.5L1400.0 348.3L1400.2 349.0L1400.4 341.9L1400.6 340.7L1400.8 343.9L1400.9 340.0L1401.1 345.6L1401.3 343.4L1401.5 345.0L1401.6 346.6L1401.8 341.3L1402.0 347.0L1402.2 344.8L1402.3 342.2L1402.5 342.9L1402.7 343.8L1402.8 345.6L1403.0 347.8L1403.2 342.3L1403.4 340.7L1403.6 344.2L1403.8 336.7L1404.0 343.3L1404.1 343.7L1404.3 339.6L1404.5 344.8L1404.7 349.1L1404.9 343.1L1405.1 343.0L1405.3 343.5L1405.4 344.5L1405.6 340.9L1405.8 342.1L1406.0 343.8L1406.2 349.2L1406.3 343.6L1406.5 345.0L1406.7 342.7L1406.9 348.7L1407.0 340.2L1407.2 343.9L1407.4 344.9L1407.5 337.8L1407.7 344.2L1407.9 347.4L1408.0 346.3L1408.2 345.8L1408.4 346.1L1408.6 348.5L1408.8 341.0L1409.0 343.5L1409.1 343.6L1409.3 344.2L1409.5 339.7L1409.7 344.0L1409.9 341.2L1410.1 342.6L1410.2 340.8L1410.4 347.0L1410.6 343.9L1410.8 340.8L1410.9 345.5L1411.1 342.8L1411.3 343.2L1411.5 341.3L1411.6 344.8L1411.8 346.1L1412.0 342.0L1412.2 346.6L1412.3 346.7L1412.5 341.8L1412.7 346.3L1412.8 340.8L1413.0 346.0L1413.2 345.5L1413.4 344.7L1413.6 343.4L1413.8 342.5L1413.9 344.5L1414.1 342.3L1414.3 345.9L1414.5 343.0L1414.7 346.6L1414.8 344.4L1415.0 341.9L1415.2 339.9L1415.4 344.8L1415.5 347.8L1415.7 341.8L1415.9 342.8L1416.0 342.3L1416.2 347.1L1416.4 339.3L1416.5 346.4L1416.7 339.6L1416.9 345.8L1417.1 341.7L1417.3 349.4L1417.5 342.1L1417.6 345.4L1417.8 346.9L1418.0 344.0L1418.2 337.5L1418.3 342.5L1418.5 344.4L1418.7 344.3L1418.9 341.4L1419.0 346.4L1419.2 347.2L1419.4 338.8L1419.6 345.5L1419.7 344.3L1419.9 343.4L1420.1 342.8L1420.2 347.5L1420.4 347.3L1420.6 341.1L1420.8 346.6L1421.0 355.3L1421.1 347.6L1421.3 348.2L1421.5 348.8" fill="none" stroke="#0000ff" stroke-width="5" stroke-linecap="round" stroke-linejoin="round" stroke-dasharray="11.8 24.2" clip-path="url(#cb)"/>
<path d="M956.6 271.2L957.5 271.2L958.4 271.2L959.3 271.2L960.2 271.2L961.1 271.2L962.0 271.2L962.9 271.1L963.8 271.1L964.7 271.1L965.6 271.1L966.5 271.1L967.4 271.1L968.3 271.1L969.2 271.1L970.1 271.1L971.0 271.1L971.9 271.1L972.8 271.0L973.7 271.0L974.6 271.0L975.5 271.0L976.4 271.0L977.3 271.0L978.2 271.0L979.1 271.0L980.0 271.0L980.9 271.0L981.8 271.0L982.7 271.0L983.6 271.0L984.5 271.0L985.4 271.0L986.3 271.0L987.2 271.0L988.1 271.0L989.0 271.0L989.9 271.0L990.8 271.0L991.7 271.0L992.6 271.0L993.5 271.0L994.4 271.0L995.3 271.0L996.2 271.0L997.1 271.0L998.0 271.0L998.9 271.0L999.8 271.0L1000.7 271.0L1001.6 271.0L1002.5 271.0L1003.4 271.0L1004.3 271.0L1005.2 271.0L1006.1 271.0L1007.0 271.0L1007.9 271.0L1008.8 271.0L1009.7 271.0L1010.6 271.1L1011.5 271.1L1012.4 271.1L1013.3 271.1L1014.2 271.1L1015.1 271.1L1016.0 271.2L1016.9 271.2L1017.8 271.2L1018.7 271.2L1019.6 271.3L1020.5 271.3L1021.4 271.3L1022.3 271.4L1023.2 271.4L1024.1 271.4L1025.0 271.5L1025.9 271.5L1026.8 271.5L1027.7 271.5L1028.6 271.6L1029.5 271.6L1030.4 271.6L1031.3 271.7L1032.2 271.7L1033.1 271.7L1034.0 271.8L1034.9 271.8L1035.8 271.9L1036.7 271.9L1037.6 272.0L1038.5 272.0L1039.4 272.1L1040.3 272.1L1041.2 272.2L1042.1 272.3L1043.0 272.3L1043.9 272.4L1044.8 272.4L1045.7 272.5L1046.6 272.6L1047.5 272.7L1048.4 272.7L1049.3 272.8L1050.2 272.9L1051.1 272.9L1052.0 273.0L1052.9 273.1L1053.8 273.1L1054.7 273.2L1055.6 273.3L1056.5 273.3L1057.4 273.4L1058.3 273.4L1059.2 273.5L1060.1 273.6L1061.0 273.6L1061.9 273.7L1062.8 273.8L1063.7 273.9L1064.6 273.9L1065.5 274.0L1066.4 274.1L1067.3 274.1L1068.2 274.2L1069.1 274.3L1070.0 274.3L1070.9 274.4L1071.8 274.5L1072.7 274.5L1073.6 274.6L1074.5 274.6L1075.4 274.7L1076.3 274.7L1077.2 274.8L1078.1 274.8L1079.0 274.8L1079.9 274.9L1080.8 274.9L1081.7 274.9L1082.6 274.9L1083.5 275.0L1084.4 275.0L1085.3 275.0L1086.2 275.0L1087.1 275.0L1088.0 275.1L1088.9 275.1L1089.8 275.1L1090.7 275.1L1091.6 275.1L1092.5 275.2L1093.4 275.2L1094.3 275.2L1095.2 275.2L1096.1 275.2L1097.0 275.2L1097.9 275.2L1098.8 275.2L1099.7 275.2L1100.6 275.2L1101.5 275.2L1102.4 275.1L1103.3 275.1L1104.2 275.0L1105.1 274.9L1106.0 274.7L1106.9 274.6L1107.8 274.4L1108.7 274.3L1109.6 274.1L1110.5 273.9L1111.4 273.7L1112.3 273.5L1113.2 273.2L1114.1 273.0L1115.0 272.8L1115.9 272.6L1116.8 272.3L1117.7 272.1L1118.6 271.9L1119.5 271.6L1120.4 271.3L1121.3 271.0L1122.2 270.7L1123.1 270.3L1124.0 270.0L1124.9 269.6L1125.8 269.2L1126.7 268.7L1127.6 268.3L1128.5 267.8L1129.4 267.4L1130.3 266.9L1131.2 266.4L1132.1 265.9L1133.0 265.3L1133.9 264.8L1134.8 264.3L1135.7 263.7L1136.6 263.0L1137.5 262.4L1138.4 261.7L1139.3 260.9L1140.2 260.2L1141.1 259.4L1142.0 258.5L1142.9 257.7L1143.8 256.8L1144.7 255.8L1145.6 254.9L1146.5 253.9L1147.4 252.9L1148.3 251.8L1149.2 250.8L1150.1 249.6L1151.0 248.4L1151.9 247.1L1152.8 245.8L1153.7 244.4L1154.6 243.0L1155.5 241.5L1156.4 239.9L1157.3 238.3L1158.2 236.7L1159.1 235.0L1160.0 233.2L1160.9 231.4L1161.8 229.4L1162.7 227.3L1163.6 225.2L1164.5 222.9L1165.4 220.6L1166.3 218.2L1167.2 215.7L1168.1 213.0L1169.0 210.1L1169.9 207.2L1170.8 204.2L1171.7 201.2L1172.6 198.2L1173.5 195.3L1174.4 192.4L1175.3 189.4L1176.2 186.3L1177.1 183.0L1178.0 179.5L1178.9 175.5L1179.8 171.3L1180.7 167.0L1181.6 162.8L1182.5 158.8L1183.4 154.9L1184.3 151.0L1185.2 146.9L1186.1 142.8L1187.0 138.4L1187.9 133.9L1188.8 129.5L1189.7 125.4L1190.6 121.7L1191.5 118.1L1192.4 114.7L1193.3 111.2L1194.2 107.5L1195.1 103.4L1196.0 99.1L1196.9 94.7L1197.8 90.5L1198.7 86.7L1199.6 83.1L1200.5 79.7L1201.4 76.3L1202.3 72.8L1203.2 69.0L1204.1 64.9L1205.0 60.9L1205.9 57.1L1206.8 53.9L1207.7 51.0L1208.6 48.2L1209.5 45.6L1210.4 43.1L1211.3 40.9L1212.2 38.8L1213.1 37.1L1214.0 35.6L1214.9 34.3L1215.8 33.1L1216.7 32.0L1217.6 31.0L1218.5 30.0L1219.4 29.1L1220.3 28.3L1221.2 27.5L1222.1 26.7L1223.0 26.0L1223.9 25.2L1224.8 24.5L1225.7 23.7L1226.6 22.9L1227.5 22.1L1228.4 21.3L1229.3 20.6L1230.2 20.0L1231.1 19.7L1232.0 19.5L1232.9 19.6L1233.8 19.7L1234.7 20.0L1235.6 20.3L1236.5 20.7L1237.4 21.2L1238.3 21.7L1239.2 22.2L1240.1 22.7L1241.0 23.2L1241.9 23.8L1242.8 24.4L1243.7 25.1L1244.6 25.9L1245.5 26.7L1246.4 27.5L1247.3 28.5L1248.2 29.5L1249.1 30.5L1250.0 31.6L1250.9 32.7L1251.8 33.9L1252.7 35.2L1253.6 36.6L1254.5 38.3L1255.4 40.2L1256.3 42.2L1257.2 44.3L1258.1 46.5L1259.0 48.6L1259.9 50.8L1260.8 53.0L1261.7 55.2L1262.6 57.5L1263.5 60.0L1264.4 62.6L1265.3 65.5L1266.2 68.8L1267.1 72.4L1268.0 76.0L1268.9 79.4L1269.8 82.5L1270.7 85.7L1271.6 88.9L1272.5 91.9L1273.4 94.5L1274.3 96.5L1275.2 97.9L1276.1 99.1L1277.0 100.2L1277.9 101.2L1278.8 102.1L1279.7 102.9L1280.6 103.6L1281.5 104.3L1282.4 105.0L1283.3 105.8L1284.2 106.5L1285.1 107.3L1286.0 108.2L1286.9 109.0L1287.8 109.8L1288.7 110.5L1289.6 111.3L1290.5 112.1L1291.4 112.9L1292.3 113.8L1293.2 114.7L1294.1 115.8L1295.0 116.9L1295.9 118.3L1296.8 119.8L1297.7 121.4L1298.6 123.0L1299.5 124.8L1300.4 126.5L1301.3 128.4L1302.2 130.8L1303.1 133.3L1304.0 135.6L1304.9 137.1L1305.8 137.4L1306.7 135.8L1307.6 132.6L1308.5 129.0L1309.4 125.8L1310.3 124.1L1311.2 124.0L1312.1 124.2L1313.0 124.5L1313.9 125.3L1314.8 126.6L1315.7 128.7L1316.0 129.2L1316.4 128.0L1316.8 128.3L1317.1 127.7L1317.5 127.2L1317.8 127.1L1318.2 123.5L1318.5 124.0L1318.9 122.8L1319.2 132.8L1319.6 132.6L1319.9 130.5L1320.2 129.1L1320.5 127.0L1320.9 124.3L1321.2 124.3L1321.5 127.0L1321.8 126.7L1322.1 130.1L1322.4 129.1L1322.7 129.0L1323.0 133.5L1323.3 133.8L1323.6 130.8L1323.9 129.6L1324.2 130.9L1324.5 136.1L1324.8 133.1L1325.1 131.1L1325.4 133.4L1325.6 129.4L1325.9 128.3L1326.2 131.0L1326.5 132.0L1326.7 131.3L1327.0 132.6L1327.3 123.0L1327.5 127.6L1327.8 125.0L1328.1 121.0L1328.3 124.0L1328.6 127.4L1328.8 126.4L1329.1 123.8L1329.3 125.2L1329.6 126.0L1329.8 130.9L1330.1 132.5L1330.3 131.9L1330.6 134.3L1330.8 132.1L1331.0 128.3L1331.3 130.1L1331.5 131.4L1331.7 129.9L1332.0 127.2L1332.2 128.3L1332.4 120.9L1332.7 125.1L1332.9 127.5L1333.1 122.9L1333.3 124.7L1333.6 122.9L1333.8 126.7L1334.0 121.2L1334.2 120.5L1334.4 124.9L1334.6 129.4L1334.8 122.7L1335.1 122.8L1335.3 125.4L1335.5 124.5L1335.7 130.4L1335.9 126.3L1336.1 128.0L1336.3 125.0L1336.5 130.2L1336.7 129.6L1336.9 128.2L1337.1 123.1L1337.3 129.7L1337.5 131.6L1337.7 133.0L1337.9 135.1L1338.1 134.3L1338.3 130.7L1338.5 127.7L1338.7 125.5L1338.8 130.5L1339.0 125.5L1339.2 124.6L1339.4 124.7L1339.6 126.5L1339.8 128.7L1339.9 124.9L1340.1 120.8L1340.3 122.9L1340.5 128.1L1340.7 130.5L1340.8 130.6L1341.0 129.0L1341.2 129.7L1341.4 128.6L1341.5 131.0L1341.7 127.9L1341.9 128.5L1342.1 128.1L1342.2 129.9L1342.4 130.1L1342.6 137.3L1342.7 139.3L1342.9 140.7L1343.2 129.3L1343.6 129.2L1343.9 127.5L1344.2 126.3L1344.5 122.9L1344.8 127.6L1345.2 131.8L1345.5 132.3L1345.8 136.4L1346.1 132.2L1346.4 127.5L1346.7 133.2L1347.0 128.8L1347.3 127.6L1347.6 127.4L1347.9 132.5L1348.1 125.8L1348.4 125.8L1348.7 128.9L1349.0 129.7L1349.3 124.8L1349.5 125.9L1349.8 124.0L1350.1 123.4L1350.3 126.4L1350.6 129.5L1350.9 135.4L1351.1 130.1L1351.4 128.6L1351.7 133.5L1351.9 133.7L1352.2 133.7L1352.4 133.2L1352.7 136.1L1352.9 141.1L1353.2 133.7L1353.4 133.7L1353.6 131.0L1353.9 134.5L1354.1 133.2L1354.4 126.6L1354.6 122.4L1354.8 128.7L1355.1 130.7L1355.3 133.9L1355.5 130.8L1355.8 128.4L1356.0 126.6L1356.2 130.8L1356.4 127.0L1356.7 126.7L1356.9 127.3L1357.1 126.9L1357.3 125.3L1357.5 121.7L1357.7 125.7L1358.0 123.9L1358.2 126.0L1358.4 126.5L1358.6 121.1L1358.8 123.6L1359.0 122.4L1359.2 128.8L1359.4 124.2L1359.6 124.3L1359.8 130.6L1360.0 125.0L1360.2 133.4L1360.4 130.9L1360.6 130.6L1360.8 132.8L1361.0 132.7L1361.2 128.4L1361.4 131.8L1361.6 127.4L1361.8 127.9L1362.0 132.5L1362.1 135.2L1362.3 134.4L1362.5 132.4L1362.7 135.8L1362.9 131.6L1363.1 137.2L1363.3 132.2L1363.4 133.6L1363.6 128.2L1363.8 128.4L1364.0 133.1L1364.1 130.2L1364.3 124.3L1364.5 127.5L1364.7 131.6L1364.8 132.2L1365.0 123.8L1365.2 122.9L1365.4 123.7L1365.5 119.5L1365.7 124.9L1365.9 128.3L1366.0 131.7L1366.2 123.7L1366.5 129.2L1366.7 129.4L1366.9 123.4L1367.2 119.7L1367.4 124.8L1367.7 131.5L1367.9 129.4L1368.1 119.6L1368.4 129.4L1368.6 129.8L1368.8 131.9L1369.1 129.9L1369.3 130.3L1369.5 133.9L1369.8 129.3L1370.0 132.9L1370.2 121.1L1370.4 125.5L1370.6 125.3L1370.9 126.9L1371.1 127.8L1371.3 131.3L1371.5 130.6L1371.7 132.7L1371.9 133.5L1372.1 130.2L1372.3 129.0L1372.6 130.0L1372.8 124.1L1373.0 130.9L1373.2 135.5L1373.4 137.5L1373.6 131.8L1373.8 138.4L1374.0 133.3L1374.2 132.8L1374.4 129.2L1374.6 133.2L1374.7 133.7L1374.9 126.1L1375.1 124.7L1375.3 127.8L1375.5 121.8L1375.7 124.0L1375.9 125.9L1376.1 130.4L1376.3 125.3L1376.4 134.9L1376.6 132.8L1376.8 133.2L1377.0 128.4L1377.2 136.2L1377.4 126.9L1377.5 127.8L1377.7 125.6L1377.9 130.3L1378.1 125.6L1378.2 123.7L1378.4 128.5L1378.6 136.8L1378.8 138.7L1378.9 133.1L1379.1 133.8L1379.3 136.8L1379.4 132.0L1379.6 129.2L1379.8 131.9L1380.0 126.8L1380.2 128.0L1380.4 131.7L1380.6 127.9L1380.9 127.9L1381.1 131.3L1381.3 127.1L1381.5 131.9L1381.7 127.8L1381.9 127.1L1382.1 128.1L1382.3 126.2L1382.5 123.2L1382.7 126.3L1382.9 128.3L1383.1 138.6L1383.3 127.0L1383.5 126.6L1383.7 129.1L1383.9 134.5L1384.1 130.1L1384.3 125.9L1384.5 130.1L1384.7 126.5L1384.9 133.2L1385.1 139.5L1385.3 129.3L1385.5 126.1L1385.7 125.8L1385.8 133.7L1386.0 129.9L1386.2 126.2L1386.4 128.9L1386.6 122.2L1386.8 123.4L1386.9 133.0L1387.1 125.3L1387.3 124.8L1387.5 130.1L1387.6 131.4L1387.8 138.8L1388.0 134.6L1388.2 129.9L1388.3 125.7L1388.5 126.0L1388.7 131.3L1388.8 127.3L1389.0 125.2L1389.2 120.1L1389.4 121.9L1389.6 128.6L1389.8 127.2L1390.0 123.2L1390.2 128.5L1390.4 127.7L1390.6 125.7L1390.8 122.7L1391.0 123.7L1391.2 129.0L1391.4 130.6L1391.6 124.3L1391.8 125.9L1392.0 126.7L1392.2 127.0L1392.3 129.0L1392.5 128.4L1392.7 119.4L1392.9 130.4L1393.1 134.9L1393.3 123.6L1393.5 127.4L1393.7 139.9L1393.8 127.6L1394.0 127.6L1394.2 117.4L1394.4 125.0L1394.6 129.9L1394.7 123.3L1394.9 124.8L1395.1 130.5L1395.3 127.9L1395.4 127.7L1395.6 125.2L1395.8 129.1L1396.0 128.0L1396.1 128.7L1396.3 136.2L1396.5 128.2L1396.6 124.2L1396.8 130.2L1397.0 130.6L1397.2 126.5L1397.4 123.6L1397.6 136.2L1397.8 132.3L1398.0 128.9L1398.2 125.4L1398.4 130.9L1398.6 135.9L1398.7 130.1L1398.9 131.4L1399.1 133.6L1399.3 122.7L1399.5 133.2L1399.7 116.8L1399.9 123.2L1400.0 128.9L1400.2 128.0L1400.4 130.1L1400.6 127.2L1400.8 133.1L1400.9 126.4L1401.1 126.8L1401.3 128.9L1401.5 128.0L1401.6 129.9L1401.8 126.1L1402.0 129.3L1402.2 130.6L1402.3 128.8L1402.5 127.4L1402.7 122.8L1402.8 127.5L1403.0 132.7L1403.2 136.0L1403.4 124.2L1403.6 131.2L1403.8 133.6L1404.0 126.8L1404.1 127.8L1404.3 126.1L1404.5 127.1L1404.7 128.7L1404.9 128.2L1405.1 121.3L1405.3 137.2L1405.4 134.7L1405.6 127.5L1405.8 125.6L1406.0 124.9L1406.2 121.5L1406.3 128.8L1406.5 129.0L1406.7 132.4L1406.9 127.0L1407.0 128.6L1407.2 128.2L1407.4 132.8L1407.5 127.2L1407.7 125.4L1407.9 133.4L1408.0 133.7L1408.2 134.2L1408.4 131.7L1408.6 127.3L1408.8 126.8L1409.0 128.2L1409.1 123.1L1409.3 127.6L1409.5 123.5L1409.7 126.0L1409.9 133.9L1410.1 125.7L1410.2 122.7L1410.4 130.5L1410.6 124.0L1410.8 125.4L1410.9 121.9L1411.1 127.0L1411.3 127.7L1411.5 123.2L1411.6 121.6L1411.8 129.8L1412.0 130.8L1412.2 129.3L1412.3 130.4L1412.5 128.9L1412.7 130.8L1412.8 128.0L1413.0 130.3L1413.2 125.2L1413.4 133.1L1413.6 132.8L1413.8 125.4L1413.9 120.1L1414.1 122.3L1414.3 129.8L1414.5 125.4L1414.7 129.4L1414.8 136.8L1415.0 136.7L1415.2 131.7L1415.4 122.2L1415.5 133.9L1415.7 122.6L1415.9 128.1L1416.0 129.2L1416.2 135.2L1416.4 121.9L1416.5 124.9L1416.7 128.0L1416.9 134.0L1417.1 123.2L1417.3 123.5L1417.5 134.3L1417.6 128.2L1417.8 134.3L1418.0 129.8L1418.2 119.2L1418.3 134.0L1418.5 126.9L1418.7 132.3L1418.9 124.3L1419.0 127.1L1419.2 127.0L1419.4 121.1L1419.6 127.5L1419.7 127.4L1419.9 127.8L1420.1 118.3L1420.2 121.3L1420.4 120.5L1420.6 132.1L1420.8 133.1L1421.0 129.4L1421.1 130.5L1421.3 129.2L1421.5 124.8" fill="none" stroke="#00ff00" stroke-width="5" stroke-linecap="round" stroke-linejoin="round" stroke-dasharray="16.3 14.4 0.6 14.7" clip-path="url(#cb)"/>
<path d="M1479.3 271.2L1480.2 271.2L1481.0 271.2L1481.9 271.2L1482.8 271.2L1483.6 271.2L1484.5 271.2L1485.3 271.2L1486.2 271.2L1487.1 271.2L1487.9 271.2L1488.8 271.2L1489.7 271.2L1490.5 271.3L1491.4 271.3L1492.2 271.3L1493.1 271.3L1494.0 271.3L1494.8 271.3L1495.7 271.3L1496.6 271.3L1497.4 271.3L1498.3 271.3L1499.2 271.3L1500.0 271.3L1500.9 271.3L1501.7 271.3L1502.6 271.3L1503.5 271.3L1504.3 271.3L1505.2 271.3L1506.1 271.3L1506.9 271.3L1507.8 271.3L1508.6 271.3L1509.5 271.4L1510.4 271.4L1511.2 271.4L1512.1 271.4L1513.0 271.4L1513.8 271.5L1514.7 271.5L1515.6 271.5L1516.4 271.6L1517.3 271.6L1518.1 271.7L1519.0 271.8L1519.9 271.8L1520.7 271.9L1521.6 272.0L1522.5 272.1L1523.3 272.1L1524.2 272.2L1525.0 272.3L1525.9 272.4L1526.8 272.5L1527.6 272.6L1528.5 272.7L1529.4 272.8L1530.2 273.0L1531.1 273.1L1532.0 273.2L1532.8 273.3L1533.7 273.4L1534.5 273.5L1535.4 273.7L1536.3 273.8L1537.1 273.9L1538.0 274.1L1538.9 274.2L1539.7 274.4L1540.6 274.6L1541.4 274.8L1542.3 275.0L1543.2 275.2L1544.0 275.5L1544.9 275.7L1545.8 276.0L1546.6 276.2L1547.5 276.5L1548.3 276.8L1549.2 277.0L1550.1 277.3L1550.9 277.6L1551.8 277.9L1552.7 278.2L1553.5 278.5L1554.4 278.8L1555.3 279.2L1556.1 279.5L1557.0 279.8L1557.8 280.1L1558.7 280.5L1559.6 280.8L1560.4 281.1L1561.3 281.5L1562.2 281.9L1563.0 282.3L1563.9 282.7L1564.7 283.1L1565.6 283.5L1566.5 283.9L1567.3 284.4L1568.2 284.9L1569.1 285.3L1569.9 285.8L1570.8 286.3L1571.7 286.8L1572.5 287.4L1573.4 287.9L1574.2 288.4L1575.1 289.0L1576.0 289.5L1576.8 290.1L1577.7 290.8L1578.6 291.4L1579.4 292.0L1580.3 292.7L1581.1 293.3L1582.0 294.0L1582.9 294.7L1583.7 295.4L1584.6 296.1L1585.5 296.7L1586.3 297.4L1587.2 298.1L1588.1 298.8L1588.9 299.5L1589.8 300.2L1590.6 300.9L1591.5 301.7L1592.4 302.4L1593.2 303.1L1594.1 303.9L1595.0 304.6L1595.8 305.4L1596.7 306.1L1597.5 306.8L1598.4 307.6L1599.3 308.3L1600.1 309.0L1601.0 309.7L1601.9 310.4L1602.7 311.0L1603.6 311.7L1604.5 312.4L1605.3 313.1L1606.2 313.8L1607.0 314.4L1607.9 315.1L1608.8 315.8L1609.6 316.4L1610.5 317.1L1611.4 317.7L1612.2 318.4L1613.1 319.0L1613.9 319.6L1614.8 320.3L1615.7 320.9L1616.5 321.5L1617.4 322.2L1618.3 322.8L1619.1 323.5L1620.0 324.1L1620.9 324.8L1621.7 325.4L1622.6 326.0L1623.4 326.5L1624.3 327.1L1625.2 327.6L1626.0 328.1L1626.9 328.6L1627.8 329.1L1628.6 329.5L1629.5 329.9L1630.3 330.4L1631.2 330.8L1632.1 331.3L1632.9 331.7L1633.8 332.1L1634.7 332.5L1635.5 332.8L1636.4 333.2L1637.3 333.5L1638.1 333.7L1639.0 333.9L1639.8 334.1L1640.7 334.2L1641.6 334.3L1642.4 334.4L1643.3 334.5L1644.2 334.5L1645.0 334.6L1645.9 334.7L1646.7 334.7L1647.6 334.8L1648.5 334.8L1649.3 334.9L1650.2 334.9L1651.1 334.9L1651.9 335.0L1652.8 335.0L1653.7 335.0L1654.5 335.0L1655.4 335.0L1656.2 334.8L1657.1 334.7L1658.0 334.5L1658.8 334.2L1659.7 333.9L1660.6 333.6L1661.4 333.2L1662.3 332.8L1663.1 332.4L1664.0 332.0L1664.9 331.6L1665.7 331.1L1666.6 330.7L1667.5 330.1L1668.3 329.5L1669.2 328.9L1670.1 328.1L1670.9 327.3L1671.8 326.4L1672.6 325.5L1673.5 324.6L1674.4 323.5L1675.2 322.5L1676.1 321.4L1677.0 320.3L1677.8 319.1L1678.7 317.9L1679.5 316.5L1680.4 315.1L1681.3 313.5L1682.1 311.9L1683.0 310.2L1683.9 308.5L1684.7 306.6L1685.6 304.8L1686.4 302.8L1687.3 300.8L1688.2 298.6L1689.0 296.3L1689.9 293.8L1690.8 291.3L1691.6 288.7L1692.5 286.0L1693.4 283.4L1694.2 280.9L1695.1 278.3L1695.9 275.7L1696.8 272.9L1697.7 270.0L1698.5 266.9L1699.4 263.4L1700.3 259.5L1701.1 255.3L1702.0 250.9L1702.8 246.7L1703.7 242.6L1704.6 238.5L1705.4 234.2L1706.3 229.3L1707.2 223.4L1708.0 215.5L1708.9 207.0L1709.8 199.4L1710.6 192.5L1711.5 185.8L1712.3 179.3L1713.2 173.0L1714.1 166.7L1714.9 160.5L1715.8 154.3L1716.7 147.9L1717.5 141.5L1718.4 134.9L1719.2 128.2L1720.1 121.5L1721.0 114.8L1721.8 108.2L1722.7 101.8L1723.6 95.6L1724.4 89.7L1725.3 84.2L1726.2 78.6L1727.0 73.0L1727.9 67.6L1728.7 62.3L1729.6 57.4L1730.5 52.9L1731.3 48.9L1732.2 45.6L1733.1 42.8L1733.9 40.1L1734.8 37.6L1735.6 35.2L1736.5 33.0L1737.4 31.1L1738.2 29.5L1739.1 28.2L1740.0 27.4L1740.8 26.9L1741.7 26.4L1742.6 25.9L1743.4 25.5L1744.3 25.2L1745.1 24.9L1746.0 24.7L1746.9 24.6L1747.7 24.5L1748.6 24.6L1749.5 25.0L1750.3 25.6L1751.2 26.5L1752.0 27.5L1752.9 28.8L1753.8 30.1L1754.6 31.6L1755.5 33.1L1756.4 34.7L1757.2 36.3L1758.1 38.0L1759.0 39.9L1759.8 42.1L1760.7 44.5L1761.5 47.1L1762.4 49.9L1763.3 52.9L1764.1 56.0L1765.0 59.3L1765.9 62.6L1766.7 66.0L1767.6 69.4L1768.4 73.2L1769.3 77.3L1770.2 81.7L1771.0 86.3L1771.9 91.1L1772.8 95.9L1773.6 100.8L1774.5 105.6L1775.4 110.4L1776.2 115.1L1777.1 119.6L1777.9 124.2L1778.8 128.8L1779.7 133.5L1780.5 138.2L1781.4 142.8L1782.3 147.4L1783.1 151.9L1784.0 156.2L1784.8 160.4L1785.7 164.3L1786.6 168.0L1787.4 171.7L1788.3 175.4L1789.2 179.1L1790.0 182.7L1790.9 186.0L1791.8 189.0L1792.6 191.5L1793.5 193.6L1794.3 195.1L1795.2 196.3L1796.1 197.4L1796.9 198.4L1797.8 199.3L1798.7 200.1L1799.5 200.8L1800.4 201.4L1801.2 202.0L1802.1 202.5L1803.0 202.9L1803.8 203.3L1804.7 203.6L1805.6 203.9L1806.4 204.3L1807.3 204.9L1808.2 206.1L1809.0 208.4L1809.9 211.1L1810.7 213.2L1811.6 213.9L1812.5 213.3L1813.3 212.0L1814.2 210.1L1815.1 207.8L1815.9 205.4L1816.8 203.0L1817.6 200.9L1818.5 199.3L1819.4 198.2L1820.2 197.4L1821.1 196.7L1822.0 196.1L1822.8 195.6L1823.7 195.4L1824.3 195.0L1824.8 194.6L1825.4 197.4L1825.9 198.8L1826.5 193.8L1827.0 194.0L1827.5 191.9L1828.0 193.3L1828.5 187.5L1829.0 190.7L1829.5 192.9L1830.0 199.9L1830.5 199.9L1831.0 200.6L1831.4 193.2L1831.9 202.8L1832.3 193.0L1832.8 198.1L1833.2 196.0L1833.7 192.3L1834.1 190.5L1834.5 189.2L1834.9 192.4L1835.4 192.8L1835.8 199.4L1836.2 191.0L1836.6 192.2L1837.0 189.5L1837.3 194.2L1837.7 186.1L1838.1 187.3L1838.5 190.4L1838.9 185.9L1839.2 192.5L1839.6 194.0L1839.9 198.4L1840.3 201.3L1840.7 195.7L1841.0 192.4L1841.4 192.4L1841.7 196.2L1842.0 199.3L1842.4 195.3L1842.7 192.9L1843.0 190.4L1843.4 189.4L1843.7 190.1L1844.0 191.0L1844.3 200.4L1844.6 197.0L1844.9 195.3L1845.2 197.1L1845.5 192.8L1845.8 192.0L1846.1 193.0L1846.4 196.7L1846.7 191.0L1847.0 197.7L1847.3 195.6L1847.6 196.2L1847.9 199.3L1848.2 200.8L1848.4 203.4L1848.7 201.8L1849.0 199.8L1849.3 199.8L1849.5 194.5L1849.8 199.6L1850.1 195.2L1850.3 190.2L1850.6 199.8L1850.9 198.0L1851.1 192.5L1851.4 200.6L1851.6 197.8L1851.9 201.3L1852.1 196.2L1852.4 195.0L1852.6 188.3L1852.9 182.6L1853.1 182.3L1853.3 185.6L1853.6 191.5L1853.8 202.2L1854.1 196.1L1854.3 199.9L1854.5 196.1L1854.8 195.3L1855.0 189.3L1855.2 185.1L1855.4 184.8L1855.7 183.0L1855.9 186.4L1856.1 186.1L1856.3 193.7L1856.5 194.7L1856.8 195.5L1857.0 199.9L1857.2 200.6L1857.4 198.9L1857.6 197.5L1857.8 196.4L1858.0 200.3L1858.3 202.0L1858.5 201.5L1858.7 202.9L1858.9 198.5L1859.1 199.6L1859.3 192.7L1859.5 198.8L1859.7 198.1L1859.9 198.0L1860.1 199.6L1860.3 198.3L1860.5 196.4L1860.7 200.8L1860.8 199.6L1861.0 194.7L1861.2 196.6L1861.4 189.4L1861.6 197.6L1861.8 196.2L1862.0 196.1L1862.2 204.8L1862.3 210.7L1862.5 206.7L1862.7 205.9L1862.9 207.2L1863.1 210.5L1863.3 205.6L1863.4 203.2L1863.6 205.8L1863.8 203.8L1864.0 204.4L1864.1 204.2L1864.3 197.1L1864.5 193.1L1864.7 183.1L1864.8 185.5L1865.0 193.6L1865.2 189.6L1865.3 196.1L1865.5 199.8L1865.7 198.2L1866.0 197.0L1866.3 192.5L1866.6 196.1L1867.0 194.9L1867.3 194.2L1867.6 195.7L1867.9 194.8L1868.2 193.5L1868.5 191.6L1868.8 195.6L1869.1 201.7L1869.4 188.2L1869.7 196.3L1870.0 191.0L1870.3 200.8L1870.6 201.6L1870.9 205.8L1871.2 200.1L1871.5 197.7L1871.7 198.7L1872.0 194.8L1872.3 197.4L1872.6 196.1L1872.8 193.1L1873.1 192.0L1873.4 188.1L1873.6 200.0L1873.9 198.8L1874.1 197.4L1874.4 194.4L1874.7 189.4L1874.9 192.7L1875.2 183.9L1875.4 193.3L1875.7 198.2L1875.9 201.4L1876.1 199.6L1876.4 200.4L1876.6 211.9L1876.9 204.6L1877.1 193.6L1877.3 193.9L1877.6 194.3L1877.8 190.7L1878.0 194.4L1878.3 194.9L1878.5 196.0L1878.7 187.5L1878.9 193.6L1879.2 200.2L1879.4 198.6L1879.6 199.7L1879.8 197.3L1880.0 202.3L1880.3 204.0L1880.5 200.8L1880.7 200.5L1880.9 205.5L1881.1 201.7L1881.3 198.5L1881.5 192.5L1881.7 202.5L1881.9 197.3L1882.1 192.8L1882.3 197.0L1882.5 195.6L1882.7 196.4L1882.9 194.8L1883.1 197.7L1883.3 198.9L1883.5 202.0L1883.7 195.6L1883.9 190.3L1884.1 197.7L1884.3 209.6L1884.5 205.8L1884.7 200.6L1884.9 198.3L1885.1 190.8L1885.3 195.3L1885.4 197.5L1885.6 197.5L1885.8 194.3L1886.0 188.8L1886.2 188.9L1886.3 188.5L1886.5 186.7L1886.7 187.9L1886.9 197.1L1887.1 194.1L1887.2 194.2L1887.4 193.4L1887.6 196.5L1887.8 198.8L1887.9 195.7L1888.1 190.9L1888.3 193.4L1888.4 192.1L1888.6 197.4L1888.8 198.4L1889.0 202.4L1889.3 207.0L1889.5 195.0L1889.8 198.6L1890.0 193.4L1890.2 196.2L1890.5 189.6L1890.7 196.3L1891.0 184.7L1891.2 187.2L1891.4 187.2L1891.6 181.5L1891.9 186.4L1892.1 186.9L1892.3 178.6L1892.6 185.0L1892.8 188.2L1893.0 193.2L1893.2 182.0L1893.4 194.8L1893.7 193.9L1893.9 192.9L1894.1 195.7L1894.3 196.0L1894.5 193.7L1894.7 194.7L1894.9 188.7L1895.1 193.1L1895.3 200.7L1895.5 205.4L1895.8 192.8L1896.0 194.0L1896.2 187.5L1896.4 187.0L1896.6 190.0L1896.8 184.7L1897.0 180.2L1897.1 182.5L1897.3 191.4L1897.5 195.2L1897.7 199.4L1897.9 194.9L1898.1 198.9L1898.3 204.6L1898.5 205.1L1898.7 190.6L1898.9 199.8L1899.0 199.5L1899.2 194.4L1899.4 190.2L1899.6 191.7L1899.8 194.8L1900.0 190.7L1900.1 198.4L1900.3 199.5L1900.5 199.0L1900.7 193.4L1900.8 209.8L1901.0 205.7L1901.2 197.4L1901.4 199.2L1901.5 196.8L1901.7 187.6L1901.9 195.5L1902.0 195.3L1902.2 186.3L1902.4 195.5L1902.6 192.4L1902.8 195.8L1903.0 194.6L1903.3 186.7L1903.5 201.0L1903.7 198.5L1903.9 195.7L1904.1 202.4L1904.3 200.7L1904.5 190.8L1904.7 204.1L1904.9 190.2L1905.1 189.0L1905.4 196.0L1905.6 203.0L1905.8 196.4L1906.0 195.8L1906.2 189.5L1906.4 193.5L1906.6 202.8L1906.8 202.7L1906.9 185.3L1907.1 194.7L1907.3 188.1L1907.5 184.9L1907.7 186.6L1907.9 196.7L1908.1 198.3L1908.3 196.6L1908.5 198.8L1908.6 195.4L1908.8 186.7L1909.0 183.1L1909.2 186.3L1909.4 203.1L1909.6 197.0L1909.7 198.0L1909.9 194.8L1910.1 193.2L1910.3 185.2L1910.4 204.4L1910.6 197.8L1910.8 195.1L1911.0 202.0L1911.1 186.9L1911.3 193.3L1911.5 192.6L1911.6 198.7L1911.8 188.1L1912.0 198.9L1912.2 195.3L1912.4 193.7L1912.6 192.7L1912.8 199.6L1913.0 188.5L1913.2 193.8L1913.4 196.0L1913.6 206.1L1913.8 189.3L1914.0 186.9L1914.2 195.8L1914.4 188.6L1914.6 192.1L1914.8 195.8L1914.9 188.8L1915.1 203.9L1915.3 201.5L1915.5 198.2L1915.7 190.4L1915.9 197.9L1916.1 198.6L1916.3 194.4L1916.4 197.5L1916.6 191.0L1916.8 192.3L1917.0 190.3L1917.2 196.4L1917.3 189.4L1917.5 194.4L1917.7 185.1L1917.9 183.5L1918.0 206.2L1918.2 187.3L1918.4 197.9L1918.6 192.0L1918.7 198.9L1918.9 187.8L1919.1 199.9L1919.2 195.4L1919.4 202.4L1919.6 189.2L1919.8 197.7L1920.0 203.0L1920.2 191.6L1920.4 200.2L1920.6 190.1L1920.8 192.3L1920.9 197.8L1921.1 198.3L1921.3 186.9L1921.5 195.9L1921.7 197.3L1921.9 197.5L1922.1 184.0L1922.3 189.3L1922.5 187.0L1922.6 204.7L1922.8 190.1L1923.0 197.4L1923.2 200.0L1923.4 199.5L1923.5 191.5L1923.7 198.2L1923.9 194.4L1924.1 192.7L1924.2 194.4L1924.4 177.7L1924.6 201.8L1924.8 194.7L1924.9 196.3L1925.1 201.2L1925.3 196.8L1925.4 209.2L1925.6 187.5L1925.8 188.9L1926.0 187.7L1926.2 195.7L1926.4 197.5L1926.6 197.5L1926.7 190.0L1926.9 191.0L1927.1 191.5L1927.3 205.1L1927.5 191.1L1927.7 192.2L1927.9 192.2L1928.0 199.3L1928.2 201.5L1928.4 199.5L1928.6 186.9L1928.8 191.7L1928.9 206.0L1929.1 190.6L1929.3 193.8L1929.5 196.1L1929.6 186.2L1929.8 194.4L1930.0 188.4L1930.1 196.4L1930.3 199.0L1930.5 191.2L1930.7 195.4L1930.8 185.4L1931.0 189.5L1931.2 189.7L1931.4 188.8L1931.6 198.0L1931.8 193.0L1931.9 201.5L1932.1 196.6L1932.3 200.7L1932.5 193.9L1932.7 196.2L1932.9 205.6L1933.0 185.5L1933.2 193.6L1933.4 197.3L1933.6 198.8L1933.7 195.1L1933.9 207.5L1934.1 201.7L1934.3 201.1L1934.4 194.9L1934.6 190.2L1934.8 204.3L1934.9 186.7L1935.1 191.0L1935.3 197.8L1935.5 201.4L1935.7 195.2L1935.8 185.8L1936.0 198.1L1936.2 199.0L1936.4 186.5L1936.6 195.4L1936.7 197.7L1936.9 203.9L1937.1 192.5L1937.3 197.9L1937.5 196.4L1937.6 194.3L1937.8 187.9L1938.0 196.9L1938.2 204.9L1938.3 198.1L1938.5 199.5L1938.7 197.3L1938.8 198.0L1939.0 195.4L1939.2 187.2L1939.3 198.2L1939.5 195.3L1939.7 195.3L1939.9 189.9L1940.1 194.1L1940.3 193.0L1940.4 194.3L1940.6 186.5L1940.8 198.7L1941.0 178.6L1941.1 190.5L1941.3 195.7L1941.5 197.0L1941.7 194.8L1941.8 198.4L1942.0 197.6L1942.2 203.6L1942.3 189.0L1942.5 196.8L1942.7 196.0L1942.8 195.1L1943.0 190.5L1943.2 186.5L1943.4 188.9L1943.6 190.2L1943.7 190.3L1943.9 186.4L1944.1 199.7" fill="none" stroke="#ff0000" stroke-width="5" stroke-linecap="round" stroke-linejoin="round" clip-path="url(#cc)"/>
<path d="M1479.3 271.2L1480.2 271.2L1481.0 271.2L1481.9 271.2L1482.7 271.2L1483.6 271.2L1484.5 271.2L1485.3 271.3L1486.2 271.3L1487.1 271.3L1487.9 271.3L1488.8 271.3L1489.6 271.3L1490.5 271.3L1491.4 271.3L1492.2 271.3L1493.1 271.3L1493.9 271.3L1494.8 271.3L1495.7 271.4L1496.5 271.4L1497.4 271.4L1498.3 271.4L1499.1 271.4L1500.0 271.4L1500.8 271.4L1501.7 271.4L1502.6 271.5L1503.4 271.5L1504.3 271.5L1505.1 271.5L1506.0 271.5L1506.9 271.5L1507.7 271.6L1508.6 271.6L1509.4 271.6L1510.3 271.6L1511.2 271.6L1512.0 271.6L1512.9 271.6L1513.8 271.7L1514.6 271.7L1515.5 271.7L1516.3 271.7L1517.2 271.7L1518.1 271.8L1518.9 271.8L1519.8 271.8L1520.6 271.8L1521.5 271.8L1522.4 271.8L1523.2 271.9L1524.1 271.9L1525.0 271.9L1525.8 271.9L1526.7 272.0L1527.5 272.0L1528.4 272.0L1529.3 272.0L1530.1 272.1L1531.0 272.1L1531.8 272.1L1532.7 272.2L1533.6 272.2L1534.4 272.2L1535.3 272.3L1536.2 272.3L1537.0 272.3L1537.9 272.4L1538.7 272.4L1539.6 272.4L1540.5 272.5L1541.3 272.5L1542.2 272.6L1543.0 272.6L1543.9 272.7L1544.8 272.7L1545.6 272.8L1546.5 272.9L1547.3 272.9L1548.2 273.0L1549.1 273.1L1549.9 273.2L1550.8 273.3L1551.7 273.4L1552.5 273.5L1553.4 273.6L1554.2 273.7L1555.1 273.8L1556.0 273.9L1556.8 274.0L1557.7 274.1L1558.5 274.2L1559.4 274.3L1560.3 274.5L1561.1 274.6L1562.0 274.7L1562.9 274.8L1563.7 275.0L1564.6 275.1L1565.4 275.3L1566.3 275.5L1567.2 275.7L1568.0 275.8L1568.9 276.0L1569.7 276.2L1570.6 276.5L1571.5 276.7L1572.3 276.9L1573.2 277.2L1574.1 277.4L1574.9 277.7L1575.8 278.0L1576.6 278.2L1577.5 278.5L1578.4 278.8L1579.2 279.1L1580.1 279.4L1580.9 279.7L1581.8 280.0L1582.7 280.4L1583.5 280.7L1584.4 281.0L1585.2 281.4L1586.1 281.7L1587.0 282.1L1587.8 282.5L1588.7 282.8L1589.6 283.2L1590.4 283.6L1591.3 284.0L1592.1 284.3L1593.0 284.7L1593.9 285.2L1594.7 285.6L1595.6 286.1L1596.4 286.5L1597.3 287.0L1598.2 287.5L1599.0 288.1L1599.9 288.6L1600.8 289.2L1601.6 289.7L1602.5 290.3L1603.3 290.9L1604.2 291.6L1605.1 292.2L1605.9 292.9L1606.8 293.5L1607.6 294.2L1608.5 294.9L1609.4 295.6L1610.2 296.3L1611.1 297.1L1612.0 297.8L1612.8 298.6L1613.7 299.3L1614.5 300.1L1615.4 300.9L1616.3 301.7L1617.1 302.5L1618.0 303.3L1618.8 304.1L1619.7 304.9L1620.6 305.8L1621.4 306.7L1622.3 307.7L1623.2 308.7L1624.0 309.7L1624.9 310.8L1625.7 311.9L1626.6 313.0L1627.5 314.1L1628.3 315.3L1629.2 316.5L1630.0 317.7L1630.9 318.9L1631.8 320.1L1632.6 321.3L1633.5 322.5L1634.3 323.7L1635.2 325.0L1636.1 326.2L1636.9 327.4L1637.8 328.5L1638.7 329.7L1639.5 330.9L1640.4 332.0L1641.2 333.1L1642.1 334.3L1643.0 335.5L1643.8 336.6L1644.7 337.8L1645.5 339.0L1646.4 340.1L1647.3 341.3L1648.1 342.5L1649.0 343.6L1649.9 344.8L1650.7 346.0L1651.6 347.1L1652.4 348.3L1653.3 349.5L1654.2 350.6L1655.0 351.8L1655.9 352.9L1656.7 354.1L1657.6 355.2L1658.5 356.3L1659.3 357.4L1660.2 358.6L1661.1 359.7L1661.9 360.8L1662.8 362.0L1663.6 363.2L1664.5 364.3L1665.4 365.5L1666.2 366.6L1667.1 367.8L1667.9 368.9L1668.8 370.0L1669.7 371.1L1670.5 372.2L1671.4 373.3L1672.2 374.3L1673.1 375.3L1674.0 376.3L1674.8 377.2L1675.7 378.2L1676.6 379.0L1677.4 379.9L1678.3 380.7L1679.1 381.6L1680.0 382.4L1680.9 383.3L1681.7 384.1L1682.6 385.0L1683.4 385.8L1684.3 386.6L1685.2 387.5L1686.0 388.2L1686.9 389.0L1687.8 389.8L1688.6 390.5L1689.5 391.1L1690.3 391.8L1691.2 392.4L1692.1 392.9L1692.9 393.5L1693.8 393.9L1694.6 394.3L1695.5 394.7L1696.4 395.0L1697.2 395.2L1698.1 395.4L1699.0 395.6L1699.8 395.8L1700.7 396.0L1701.5 396.2L1702.4 396.4L1703.3 396.6L1704.1 396.7L1705.0 396.9L1705.8 397.0L1706.7 397.2L1707.6 397.3L1708.4 397.4L1709.3 397.5L1710.2 397.6L1711.0 397.7L1711.9 397.8L1712.7 397.8L1713.6 397.8L1714.5 397.9L1715.3 397.9L1716.2 397.9L1717.0 397.9L1717.9 397.9L1718.8 397.8L1719.6 397.8L1720.5 397.8L1721.3 397.8L1722.2 397.7L1723.1 397.7L1723.9 397.7L1724.8 397.6L1725.7 397.6L1726.5 397.6L1727.4 397.5L1728.2 397.5L1729.1 397.4L1730.0 397.3L1730.8 397.3L1731.7 397.2L1732.5 397.2L1733.4 397.1L1734.3 397.0L1735.1 397.0L1736.0 396.9L1736.9 396.8L1737.7 396.7L1738.6 396.7L1739.4 396.6L1740.3 396.4L1741.2 396.3L1742.0 396.1L1742.9 395.9L1743.7 395.7L1744.6 395.5L1745.5 395.3L1746.3 395.0L1747.2 394.7L1748.1 394.4L1748.9 394.1L1749.8 393.8L1750.6 393.4L1751.5 393.0L1752.4 392.6L1753.2 392.2L1754.1 391.8L1754.9 391.3L1755.8 390.8L1756.7 390.2L1757.5 389.2L1758.4 388.1L1759.2 386.7L1760.1 385.2L1761.0 383.5L1761.8 381.7L1762.7 379.9L1763.6 378.0L1764.4 376.0L1765.3 374.1L1766.1 372.3L1767.0 370.5L1767.9 368.8L1768.7 367.2L1769.6 365.8L1770.4 364.6L1771.3 363.6L1772.2 362.7L1773.0 361.7L1773.9 360.8L1774.8 359.8L1775.6 358.9L1776.5 358.0L1777.3 357.1L1778.2 356.2L1779.1 355.4L1779.9 354.6L1780.8 353.9L1781.6 353.2L1782.5 352.6L1783.4 352.0L1784.2 351.6L1785.1 351.2L1786.0 350.8L1786.8 350.6L1787.7 350.5L1788.5 350.4L1789.4 350.5L1790.3 350.6L1791.1 350.7L1792.0 350.9L1792.8 351.1L1793.7 351.4L1794.6 351.7L1795.4 352.0L1796.3 352.3L1797.1 352.6L1798.0 352.9L1798.9 353.3L1799.7 353.6L1800.6 353.9L1801.5 354.2L1802.3 354.5L1803.2 354.8L1804.0 355.1L1804.9 355.5L1805.8 355.9L1806.6 356.3L1807.5 356.6L1808.3 357.0L1809.2 357.3L1810.1 357.6L1810.9 357.8L1811.8 358.0L1812.7 358.1L1813.5 358.1L1814.4 358.0L1815.2 357.8L1816.1 357.4L1817.0 356.8L1817.8 356.2L1818.7 355.4L1819.5 354.6L1820.4 353.6L1821.3 352.6L1822.1 351.5L1823.0 350.4L1823.6 350.3L1824.2 349.6L1824.7 349.4L1825.3 349.8L1825.8 351.2L1826.4 351.2L1826.9 350.3L1827.4 349.1L1827.9 350.7L1828.5 353.2L1829.0 352.9L1829.5 350.3L1829.9 348.9L1830.4 351.9L1830.9 351.8L1831.4 348.8L1831.8 349.2L1832.3 347.8L1832.7 347.7L1833.2 347.8L1833.6 347.5L1834.0 349.3L1834.4 349.6L1834.9 349.0L1835.3 350.1L1835.7 351.6L1836.1 348.8L1836.5 349.0L1836.9 348.0L1837.3 348.5L1837.7 347.2L1838.0 348.2L1838.4 348.9L1838.8 349.0L1839.2 347.9L1839.5 348.1L1839.9 347.2L1840.2 346.1L1840.6 347.8L1840.9 347.0L1841.3 349.9L1841.6 351.3L1842.0 348.1L1842.3 349.3L1842.6 348.0L1843.0 348.9L1843.3 349.5L1843.6 346.9L1843.9 347.7L1844.2 348.2L1844.6 350.5L1844.9 348.8L1845.2 350.5L1845.5 349.0L1845.8 349.0L1846.1 348.3L1846.4 351.3L1846.7 352.1L1847.0 355.5L1847.3 355.2L1847.5 355.3L1847.8 355.4L1848.1 353.2L1848.4 352.5L1848.7 354.2L1848.9 352.7L1849.2 352.5L1849.5 352.0L1849.8 352.7L1850.0 351.7L1850.3 351.3L1850.5 351.6L1850.8 351.6L1851.1 350.1L1851.3 351.8L1851.6 349.6L1851.8 348.2L1852.1 347.0L1852.3 349.7L1852.6 349.5L1852.8 348.5L1853.1 347.5L1853.3 349.2L1853.5 348.1L1853.8 347.0L1854.0 349.1L1854.2 347.8L1854.5 348.3L1854.7 349.1L1854.9 349.0L1855.2 349.5L1855.4 352.1L1855.6 351.0L1855.8 349.1L1856.1 346.9L1856.3 347.8L1856.5 348.2L1856.7 349.5L1856.9 349.2L1857.2 349.1L1857.4 348.6L1857.6 348.5L1857.8 349.5L1858.0 349.4L1858.2 350.1L1858.4 353.4L1858.6 353.5L1858.8 350.4L1859.0 353.3L1859.2 353.3L1859.4 351.3L1859.6 352.7L1859.8 352.3L1860.0 351.1L1860.2 350.1L1860.4 348.9L1860.6 349.7L1860.8 351.8L1861.0 351.1L1861.2 351.8L1861.4 354.6L1861.6 351.8L1861.8 352.0L1861.9 351.4L1862.1 349.7L1862.3 348.6L1862.5 349.3L1862.7 350.6L1862.9 350.0L1863.0 350.4L1863.2 351.8L1863.4 352.1L1863.6 353.3L1863.8 353.4L1863.9 353.6L1864.1 355.8L1864.3 355.5L1864.4 354.5L1864.6 354.7L1864.8 352.4L1865.0 351.6L1865.1 352.7L1865.3 353.3L1865.5 355.2L1865.6 354.1L1866.0 354.2L1866.3 352.4L1866.6 353.5L1866.9 349.8L1867.3 352.5L1867.6 350.7L1867.9 350.2L1868.2 350.1L1868.5 352.9L1868.8 349.4L1869.1 349.5L1869.4 347.2L1869.7 352.8L1870.0 352.5L1870.3 349.8L1870.6 349.4L1870.9 351.0L1871.1 350.9L1871.4 356.6L1871.7 352.1L1872.0 353.3L1872.3 351.9L1872.5 353.8L1872.8 351.8L1873.1 352.6L1873.3 354.2L1873.6 349.8L1873.9 351.4L1874.1 348.3L1874.4 351.7L1874.6 351.6L1874.9 351.4L1875.1 354.0L1875.4 356.1L1875.6 356.0L1875.9 353.6L1876.1 351.7L1876.4 355.9L1876.6 355.6L1876.8 354.8L1877.1 351.2L1877.3 352.9L1877.6 347.8L1877.8 350.5L1878.0 349.3L1878.2 351.0L1878.5 351.4L1878.7 350.7L1878.9 353.2L1879.1 352.9L1879.4 349.8L1879.6 351.6L1879.8 348.2L1880.0 349.5L1880.2 349.7L1880.5 351.5L1880.7 354.1L1880.9 355.7L1881.1 353.3L1881.3 352.6L1881.5 354.6L1881.7 349.6L1881.9 352.0L1882.1 350.6L1882.3 354.2L1882.5 352.4L1882.7 351.9L1882.9 349.8L1883.1 352.1L1883.3 352.2L1883.5 350.2L1883.7 350.2L1883.9 349.5L1884.1 350.5L1884.3 348.8L1884.5 351.6L1884.7 348.7L1884.9 349.8L1885.0 352.0L1885.2 350.2L1885.4 352.9L1885.6 353.6L1885.8 354.7L1886.0 350.4L1886.1 348.6L1886.3 347.4L1886.5 346.1L1886.7 350.6L1886.9 353.2L1887.0 355.8L1887.2 354.6L1887.4 351.8L1887.6 349.9L1887.7 350.0L1887.9 351.9L1888.1 350.2L1888.2 353.1L1888.4 355.6L1888.6 356.4L1888.8 352.3L1889.0 349.3L1889.3 348.5L1889.5 348.4L1889.7 349.1L1890.0 351.0L1890.2 351.4L1890.5 351.4L1890.7 344.8L1890.9 352.1L1891.2 352.9L1891.4 351.2L1891.6 352.7L1891.9 351.8L1892.1 353.4L1892.3 354.8L1892.5 352.9L1892.8 353.3L1893.0 352.2L1893.2 352.4L1893.4 354.4L1893.6 353.4L1893.9 354.6L1894.1 353.2L1894.3 355.8L1894.5 354.5L1894.7 352.3L1894.9 351.6L1895.1 352.4L1895.3 351.2L1895.5 351.5L1895.7 352.9L1895.9 354.3L1896.1 356.6L1896.3 352.5L1896.5 353.8L1896.7 352.5L1896.9 351.0L1897.1 354.0L1897.3 353.0L1897.5 354.4L1897.7 356.1L1897.9 355.1L1898.1 353.3L1898.3 354.7L1898.5 351.7L1898.7 351.2L1898.8 352.8L1899.0 355.2L1899.2 351.3L1899.4 356.0L1899.6 354.4L1899.8 351.0L1899.9 347.4L1900.1 350.5L1900.3 350.7L1900.5 350.2L1900.7 351.0L1900.8 351.7L1901.0 350.5L1901.2 348.9L1901.3 347.4L1901.5 350.2L1901.7 355.5L1901.9 352.3L1902.0 353.5L1902.2 350.2L1902.4 350.8L1902.6 354.8L1902.8 353.5L1903.0 353.5L1903.2 350.8L1903.5 348.7L1903.7 350.4L1903.9 351.1L1904.1 352.1L1904.3 349.3L1904.5 349.1L1904.7 353.8L1904.9 353.0L1905.1 352.0L1905.3 353.7L1905.5 350.0L1905.7 351.8L1906.0 353.0L1906.1 356.4L1906.3 351.5L1906.5 356.5L1906.7 355.4L1906.9 353.6L1907.1 354.5L1907.3 352.1L1907.5 355.4L1907.7 351.6L1907.9 354.2L1908.1 354.4L1908.3 355.2L1908.5 349.0L1908.6 350.9L1908.8 350.9L1909.0 352.9L1909.2 350.6L1909.4 350.2L1909.6 346.0L1909.7 351.3L1909.9 351.9L1910.1 350.9L1910.3 353.6L1910.4 349.7L1910.6 351.0L1910.8 354.1L1911.0 353.3L1911.1 351.7L1911.3 354.0L1911.5 355.0L1911.6 352.2L1911.8 354.5L1912.0 353.0L1912.1 352.1L1912.4 355.0L1912.6 352.5L1912.8 353.5L1913.0 352.0L1913.2 354.3L1913.4 347.7L1913.6 351.3L1913.8 352.4L1914.0 354.9L1914.2 352.4L1914.4 354.8L1914.6 356.1L1914.7 355.4L1914.9 355.1L1915.1 351.0L1915.3 352.4L1915.5 354.2L1915.7 349.4L1915.9 353.8L1916.1 352.3L1916.2 351.9L1916.4 347.7L1916.6 348.5L1916.8 348.4L1917.0 354.0L1917.2 352.4L1917.3 350.7L1917.5 353.9L1917.7 349.3L1917.9 351.9L1918.0 356.4L1918.2 351.8L1918.4 349.7L1918.6 348.7L1918.7 356.0L1918.9 351.2L1919.1 354.7L1919.2 353.1L1919.4 358.2L1919.6 353.8L1919.8 356.4L1920.0 352.0L1920.2 354.3L1920.4 355.0L1920.6 353.7L1920.8 352.5L1920.9 354.2L1921.1 350.3L1921.3 355.7L1921.5 350.5L1921.7 354.3L1921.9 356.2L1922.1 355.7L1922.3 353.7L1922.4 354.7L1922.6 350.6L1922.8 353.2L1923.0 352.1L1923.2 351.3L1923.3 356.0L1923.5 353.5L1923.7 353.9L1923.9 355.8L1924.1 352.5L1924.2 351.8L1924.4 349.7L1924.6 350.0L1924.7 356.6L1924.9 356.8L1925.1 353.7L1925.3 353.5L1925.4 354.4L1925.6 354.0L1925.8 354.8L1926.0 352.6L1926.2 353.4L1926.4 350.7L1926.6 352.9L1926.7 355.5L1926.9 356.9L1927.1 352.0L1927.3 355.9L1927.5 354.9L1927.7 351.4L1927.9 351.5L1928.0 351.6L1928.2 354.3L1928.4 350.8L1928.6 351.8L1928.8 352.8L1928.9 352.6L1929.1 352.5L1929.3 348.7L1929.5 357.8L1929.6 353.6L1929.8 352.4L1930.0 353.6L1930.1 355.6L1930.3 355.2L1930.5 354.0L1930.7 353.4L1930.8 353.9L1931.0 352.1L1931.2 353.8L1931.4 348.6L1931.6 356.1L1931.8 349.7L1931.9 348.5L1932.1 354.8L1932.3 352.4L1932.5 353.8L1932.7 356.9L1932.9 354.5L1933.0 355.9L1933.2 350.3L1933.4 353.4L1933.6 352.3L1933.7 354.4L1933.9 354.1L1934.1 351.9L1934.3 354.8L1934.4 351.1L1934.6 351.8L1934.8 352.8L1934.9 351.8L1935.1 352.7L1935.3 353.7L1935.5 353.3L1935.6 352.2L1935.8 351.4L1936.0 353.8L1936.2 348.4L1936.4 352.5L1936.6 356.2L1936.7 356.4L1936.9 353.8L1937.1 352.5L1937.3 356.6L1937.5 352.1L1937.6 354.6L1937.8 356.7L1938.0 353.8L1938.2 355.0L1938.3 354.2L1938.5 357.7L1938.7 352.5L1938.8 351.8L1939.0 350.2L1939.2 353.9L1939.3 351.8L1939.5 356.1L1939.7 355.6L1939.9 355.1L1940.1 354.7L1940.2 353.0L1940.4 352.8L1940.6 355.0L1940.8 356.2L1941.0 349.6L1941.1 351.0L1941.3 352.8L1941.5 357.0L1941.7 356.2L1941.8 348.4L1942.0 353.6L1942.2 349.3L1942.3 351.0L1942.5 353.6L1942.7 350.6L1942.8 356.1L1943.0 352.5L1943.2 353.3L1943.4 353.3L1943.6 354.6L1943.7 353.8L1943.9 353.4L1944.1 353.0" fill="none" stroke="#0000ff" stroke-width="5" stroke-linecap="round" stroke-linejoin="round" stroke-dasharray="11.8 24.2" clip-path="url(#cc)"/>
<path d="M1479.3 271.2L1480.2 271.2L1481.0 271.2L1481.9 271.2L1482.8 271.2L1483.7 271.2L1484.5 271.2L1485.4 271.2L1486.3 271.2L1487.1 271.2L1488.0 271.2L1488.9 271.2L1489.8 271.2L1490.6 271.1L1491.5 271.1L1492.4 271.1L1493.2 271.1L1494.1 271.1L1495.0 271.1L1495.8 271.0L1496.7 271.0L1497.6 271.0L1498.5 271.0L1499.3 270.9L1500.2 270.9L1501.1 270.9L1501.9 270.9L1502.8 270.8L1503.7 270.8L1504.6 270.8L1505.4 270.8L1506.3 270.7L1507.2 270.7L1508.0 270.7L1508.9 270.6L1509.8 270.6L1510.7 270.6L1511.5 270.5L1512.4 270.5L1513.3 270.4L1514.1 270.3L1515.0 270.3L1515.9 270.2L1516.7 270.1L1517.6 270.0L1518.5 269.8L1519.4 269.7L1520.2 269.6L1521.1 269.5L1522.0 269.3L1522.8 269.2L1523.7 269.0L1524.6 268.8L1525.5 268.7L1526.3 268.5L1527.2 268.3L1528.1 268.1L1528.9 267.9L1529.8 267.7L1530.7 267.5L1531.6 267.3L1532.4 267.1L1533.3 266.9L1534.2 266.7L1535.0 266.5L1535.9 266.2L1536.8 266.0L1537.6 265.7L1538.5 265.4L1539.4 265.0L1540.3 264.7L1541.1 264.3L1542.0 263.9L1542.9 263.4L1543.7 263.0L1544.6 262.5L1545.5 262.0L1546.4 261.6L1547.2 261.1L1548.1 260.6L1549.0 260.1L1549.8 259.6L1550.7 259.1L1551.6 258.6L1552.5 258.1L1553.3 257.6L1554.2 257.1L1555.1 256.7L1555.9 256.2L1556.8 255.8L1557.7 255.4L1558.5 255.0L1559.4 254.5L1560.3 254.1L1561.2 253.7L1562.0 253.2L1562.9 252.8L1563.8 252.3L1564.6 251.8L1565.5 251.3L1566.4 250.7L1567.3 250.1L1568.1 249.5L1569.0 248.9L1569.9 248.3L1570.7 247.6L1571.6 246.9L1572.5 246.2L1573.4 245.5L1574.2 244.7L1575.1 243.9L1576.0 243.1L1576.8 242.2L1577.7 241.4L1578.6 240.5L1579.4 239.5L1580.3 238.5L1581.2 237.4L1582.1 236.3L1582.9 235.1L1583.8 233.9L1584.7 232.6L1585.5 231.2L1586.4 229.9L1587.3 228.5L1588.2 227.0L1589.0 225.6L1589.9 224.1L1590.8 222.7L1591.6 221.2L1592.5 219.8L1593.4 218.3L1594.3 216.9L1595.1 215.5L1596.0 214.1L1596.9 212.7L1597.7 211.4L1598.6 210.0L1599.5 208.6L1600.4 207.2L1601.2 205.8L1602.1 204.4L1603.0 203.0L1603.8 201.6L1604.7 200.2L1605.6 198.8L1606.4 197.4L1607.3 196.0L1608.2 194.6L1609.1 193.1L1609.9 191.7L1610.8 190.3L1611.7 188.9L1612.5 187.5L1613.4 186.1L1614.3 184.7L1615.2 183.3L1616.0 181.9L1616.9 180.5L1617.8 179.1L1618.6 177.7L1619.5 176.3L1620.4 174.9L1621.3 173.5L1622.1 172.1L1623.0 170.7L1623.9 169.3L1624.7 167.9L1625.6 166.5L1626.5 165.1L1627.3 163.7L1628.2 162.3L1629.1 160.9L1630.0 159.6L1630.8 158.2L1631.7 156.8L1632.6 155.5L1633.4 154.1L1634.3 152.8L1635.2 151.5L1636.1 150.2L1636.9 148.9L1637.8 147.5L1638.7 146.2L1639.5 144.8L1640.4 143.4L1641.3 142.0L1642.2 140.6L1643.0 139.1L1643.9 137.7L1644.8 136.3L1645.6 134.9L1646.5 133.6L1647.4 132.2L1648.2 130.9L1649.1 129.6L1650.0 128.4L1650.9 127.2L1651.7 126.1L1652.6 125.0L1653.5 124.0L1654.3 123.1L1655.2 122.2L1656.1 121.4L1657.0 120.7L1657.8 120.0L1658.7 119.3L1659.6 118.7L1660.4 118.0L1661.3 117.3L1662.2 116.6L1663.1 116.0L1663.9 115.3L1664.8 114.7L1665.7 114.1L1666.5 113.5L1667.4 113.0L1668.3 112.5L1669.1 112.0L1670.0 111.5L1670.9 111.0L1671.8 110.6L1672.6 110.3L1673.5 110.0L1674.4 109.7L1675.2 109.4L1676.1 109.2L1677.0 109.1L1677.9 109.0L1678.7 109.0L1679.6 109.0L1680.5 109.2L1681.3 109.5L1682.2 109.8L1683.1 110.3L1684.0 110.8L1684.8 111.4L1685.7 112.0L1686.6 112.8L1687.4 114.0L1688.3 115.9L1689.2 118.1L1690.0 120.8L1690.9 123.6L1691.8 126.5L1692.7 129.3L1693.5 132.0L1694.4 134.5L1695.3 136.9L1696.1 139.2L1697.0 141.6L1697.9 144.0L1698.8 146.5L1699.6 149.1L1700.5 151.9L1701.4 154.9L1702.2 158.2L1703.1 161.9L1704.0 165.8L1704.9 170.1L1705.7 174.6L1706.6 179.2L1707.5 184.0L1708.3 188.7L1709.2 193.5L1710.1 198.3L1710.9 203.1L1711.8 208.0L1712.7 213.0L1713.6 218.2L1714.4 223.5L1715.3 228.9L1716.2 234.5L1717.0 240.3L1717.9 246.5L1718.8 253.2L1719.7 260.3L1720.5 267.6L1721.4 275.0L1722.3 282.3L1723.1 289.4L1724.0 296.2L1724.9 302.5L1725.8 308.4L1726.6 314.2L1727.5 319.8L1728.4 325.3L1729.2 330.6L1730.1 335.7L1731.0 340.6L1731.9 345.2L1732.7 349.6L1733.6 354.1L1734.5 358.5L1735.3 362.9L1736.2 367.2L1737.1 371.1L1737.9 374.6L1738.8 377.7L1739.7 380.1L1740.6 381.9L1741.4 383.6L1742.3 385.2L1743.2 386.6L1744.0 387.9L1744.9 389.0L1745.8 389.9L1746.7 390.6L1747.5 390.9L1748.4 390.9L1749.3 390.8L1750.1 390.5L1751.0 390.1L1751.9 389.7L1752.8 389.1L1753.6 388.5L1754.5 387.8L1755.4 387.1L1756.2 386.3L1757.1 385.5L1758.0 384.6L1758.8 383.8L1759.7 382.9L1760.6 382.0L1761.5 381.0L1762.3 379.9L1763.2 378.8L1764.1 377.5L1764.9 376.1L1765.8 374.6L1766.7 373.1L1767.6 371.4L1768.4 369.7L1769.3 367.9L1770.2 365.9L1771.0 363.9L1771.9 361.6L1772.8 358.9L1773.7 355.8L1774.5 352.4L1775.4 348.8L1776.3 345.0L1777.1 341.1L1778.0 337.2L1778.9 333.2L1779.7 329.4L1780.6 325.6L1781.5 321.8L1782.4 317.8L1783.2 313.7L1784.1 309.4L1785.0 305.2L1785.8 301.0L1786.7 296.9L1787.6 293.0L1788.5 289.3L1789.3 286.0L1790.2 283.1L1791.1 280.5L1791.9 277.9L1792.8 275.4L1793.7 273.0L1794.6 270.8L1795.4 268.6L1796.3 266.5L1797.2 264.5L1798.0 262.7L1798.9 261.0L1799.8 259.4L1800.6 258.0L1801.5 256.7L1802.4 255.4L1803.3 254.2L1804.1 253.0L1805.0 251.8L1805.9 250.7L1806.7 249.7L1807.6 248.8L1808.5 248.0L1809.4 247.4L1810.2 246.9L1811.1 246.7L1812.0 246.8L1812.8 247.3L1813.7 248.2L1814.6 249.4L1815.5 250.9L1816.3 252.5L1817.2 254.1L1818.1 255.8L1818.9 257.3L1819.8 258.7L1820.7 259.8L1821.5 260.6L1822.4 261.3L1823.3 262.0L1824.2 262.6L1825.0 263.2L1825.9 263.6L1826.8 264.0L1827.3 264.5L1827.8 266.1L1828.3 263.2L1828.8 263.0L1829.3 265.1L1829.8 268.1L1830.3 269.2L1830.8 272.9L1831.2 271.3L1831.7 270.9L1832.2 269.5L1832.6 264.7L1833.0 261.9L1833.5 263.7L1833.9 262.0L1834.3 266.5L1834.8 269.8L1835.2 273.7L1835.6 270.9L1836.0 273.3L1836.4 267.9L1836.8 264.3L1837.2 264.5L1837.6 265.2L1837.9 260.0L1838.3 255.8L1838.7 259.3L1839.1 258.0L1839.4 263.5L1839.8 264.9L1840.2 265.6L1840.5 265.8L1840.9 268.1L1841.2 266.5L1841.5 269.2L1841.9 266.1L1842.2 264.9L1842.6 262.6L1842.9 264.9L1843.2 264.8L1843.5 261.9L1843.9 268.7L1844.2 266.3L1844.5 265.3L1844.8 266.2L1845.1 271.0L1845.4 268.6L1845.7 269.5L1846.0 268.3L1846.3 262.6L1846.6 265.5L1846.9 268.3L1847.2 266.4L1847.5 265.7L1847.8 260.6L1848.0 256.9L1848.3 257.8L1848.6 261.5L1848.9 260.8L1849.1 262.7L1849.4 266.1L1849.7 265.9L1850.0 267.2L1850.2 270.8L1850.5 265.1L1850.7 267.1L1851.0 260.5L1851.3 262.9L1851.5 263.9L1851.8 262.3L1852.0 259.5L1852.3 260.7L1852.5 260.4L1852.8 261.8L1853.0 259.7L1853.2 262.6L1853.5 259.9L1853.7 260.2L1854.0 260.1L1854.2 265.2L1854.4 260.3L1854.7 260.1L1854.9 264.9L1855.1 262.7L1855.3 259.3L1855.6 261.6L1855.8 261.4L1856.0 264.8L1856.2 261.8L1856.5 263.1L1856.7 265.5L1856.9 268.3L1857.1 263.7L1857.3 268.3L1857.5 264.4L1857.7 259.7L1858.0 258.0L1858.2 260.3L1858.4 260.4L1858.6 262.8L1858.8 264.8L1859.0 265.6L1859.2 264.4L1859.4 270.0L1859.6 261.5L1859.8 257.0L1860.0 257.5L1860.2 255.5L1860.4 250.1L1860.6 251.7L1860.8 252.9L1861.0 248.6L1861.1 255.7L1861.3 262.1L1861.5 266.5L1861.7 264.3L1861.9 264.8L1862.1 261.2L1862.3 262.7L1862.4 261.1L1862.6 263.2L1862.8 262.5L1863.0 266.2L1863.2 268.2L1863.4 270.9L1863.5 264.1L1863.7 258.5L1863.9 261.4L1864.1 260.4L1864.2 262.8L1864.4 264.1L1864.6 264.7L1864.7 267.4L1864.9 268.3L1865.1 268.6L1865.3 264.6L1865.4 269.8L1865.6 268.7L1865.9 270.0L1866.3 270.5L1866.6 268.4L1866.9 263.1L1867.2 263.0L1867.5 268.7L1867.8 263.5L1868.2 267.2L1868.5 269.5L1868.8 262.1L1869.1 259.7L1869.4 256.3L1869.7 258.5L1870.0 263.9L1870.3 261.0L1870.5 266.9L1870.8 273.5L1871.1 271.5L1871.4 270.3L1871.7 268.7L1871.9 265.8L1872.2 267.8L1872.5 272.9L1872.8 274.3L1873.0 271.1L1873.3 271.7L1873.6 271.3L1873.8 273.0L1874.1 272.8L1874.3 266.2L1874.6 265.4L1874.9 263.5L1875.1 265.2L1875.4 259.3L1875.6 263.1L1875.8 271.7L1876.1 274.8L1876.3 267.1L1876.6 265.6L1876.8 261.1L1877.1 266.7L1877.3 264.5L1877.5 261.6L1877.8 260.3L1878.0 252.8L1878.2 260.8L1878.4 259.6L1878.7 260.8L1878.9 261.5L1879.1 264.1L1879.3 263.2L1879.6 260.1L1879.8 268.7L1880.0 261.8L1880.2 271.6L1880.4 273.3L1880.6 260.8L1880.9 262.9L1881.1 262.6L1881.3 263.7L1881.5 263.2L1881.7 265.0L1881.9 271.5L1882.1 264.2L1882.3 265.2L1882.5 264.8L1882.7 267.9L1882.9 263.4L1883.1 262.7L1883.3 260.9L1883.5 260.3L1883.7 265.7L1883.9 265.5L1884.1 267.3L1884.3 268.6L1884.5 260.2L1884.6 254.7L1884.8 258.9L1885.0 263.4L1885.2 267.3L1885.4 261.2L1885.6 266.4L1885.8 267.3L1885.9 267.7L1886.1 262.5L1886.3 262.8L1886.5 259.5L1886.7 259.1L1886.8 261.6L1887.0 264.4L1887.2 270.0L1887.4 262.7L1887.5 264.0L1887.7 258.1L1887.9 255.1L1888.1 260.9L1888.2 258.6L1888.4 268.0L1888.6 260.5L1888.7 266.1L1888.9 259.2L1889.1 262.9L1889.4 267.0L1889.6 262.1L1889.9 267.6L1890.1 264.4L1890.4 256.5L1890.6 260.8L1890.8 265.9L1891.1 271.6L1891.3 267.1L1891.5 260.1L1891.8 258.1L1892.0 263.6L1892.2 263.5L1892.4 258.9L1892.7 275.5L1892.9 270.0L1893.1 262.0L1893.3 263.7L1893.6 268.7L1893.8 262.8L1894.0 268.9L1894.2 266.9L1894.4 267.1L1894.6 257.9L1894.8 260.0L1895.0 265.8L1895.2 259.9L1895.5 260.7L1895.7 266.0L1895.9 266.2L1896.1 268.6L1896.3 262.6L1896.5 257.0L1896.7 255.6L1896.9 262.8L1897.1 260.6L1897.2 271.3L1897.4 273.9L1897.6 269.9L1897.8 270.1L1898.0 265.8L1898.2 269.1L1898.4 271.5L1898.6 269.7L1898.8 264.3L1899.0 259.2L1899.1 258.1L1899.3 269.7L1899.5 271.9L1899.7 256.3L1899.9 260.4L1900.0 263.5L1900.2 258.2L1900.4 261.3L1900.6 262.6L1900.8 266.7L1900.9 260.9L1901.1 260.4L1901.3 258.6L1901.4 269.2L1901.6 272.4L1901.8 260.7L1902.0 258.3L1902.1 258.2L1902.3 255.9L1902.5 260.4L1902.7 264.1L1902.9 264.7L1903.1 271.4L1903.3 268.6L1903.6 272.0L1903.8 261.4L1904.0 267.3L1904.2 269.3L1904.4 262.3L1904.6 261.4L1904.8 263.8L1905.0 259.0L1905.2 258.1L1905.4 265.7L1905.6 263.6L1905.8 262.8L1906.0 262.3L1906.2 266.4L1906.4 266.3L1906.6 260.8L1906.8 266.1L1907.0 264.9L1907.2 268.0L1907.4 261.6L1907.6 264.1L1907.8 262.3L1908.0 264.2L1908.2 260.2L1908.4 270.1L1908.5 264.2L1908.7 268.7L1908.9 262.6L1909.1 263.4L1909.3 262.6L1909.4 266.9L1909.6 265.5L1909.8 267.5L1910.0 261.4L1910.2 267.2L1910.3 266.6L1910.5 268.5L1910.7 261.9L1910.9 262.5L1911.0 266.7L1911.2 264.1L1911.4 264.8L1911.5 266.1L1911.7 266.7L1911.9 266.2L1912.0 265.3L1912.3 260.9L1912.5 259.0L1912.7 263.8L1912.9 269.2L1913.1 278.4L1913.3 270.5L1913.5 271.8L1913.7 258.7L1913.9 266.9L1914.1 269.1L1914.3 262.7L1914.5 265.4L1914.7 265.2L1914.8 267.1L1915.0 272.1L1915.2 258.6L1915.4 263.3L1915.6 260.9L1915.8 254.4L1916.0 255.8L1916.2 263.2L1916.3 267.7L1916.5 265.2L1916.7 262.4L1916.9 266.4L1917.1 265.8L1917.3 263.0L1917.4 271.2L1917.6 264.8L1917.8 265.1L1918.0 265.2L1918.1 266.1L1918.3 268.5L1918.5 264.9L1918.7 268.1L1918.8 258.5L1919.0 265.0L1919.2 261.3L1919.3 276.0L1919.5 259.9L1919.7 255.8L1919.9 268.3L1920.1 263.5L1920.3 260.3L1920.5 267.9L1920.7 269.3L1920.9 266.2L1921.1 266.5L1921.3 270.5L1921.4 264.7L1921.6 267.5L1921.8 276.0L1922.0 262.5L1922.2 265.1L1922.4 262.7L1922.6 274.6L1922.7 268.3L1922.9 273.3L1923.1 265.4L1923.3 268.1L1923.5 259.0L1923.6 265.8L1923.8 259.7L1924.0 264.2L1924.2 273.1L1924.3 262.8L1924.5 253.6L1924.7 259.7L1924.9 264.4L1925.0 269.6L1925.2 264.0L1925.4 263.8L1925.5 259.4L1925.7 267.8L1925.9 262.1L1926.1 264.5L1926.3 265.5L1926.5 266.0L1926.7 268.1L1926.8 266.6L1927.0 269.4L1927.2 264.2L1927.4 258.5L1927.6 264.7L1927.8 263.1L1928.0 267.5L1928.1 258.8L1928.3 269.4L1928.5 265.8L1928.7 265.1L1928.8 263.9L1929.0 264.3L1929.2 265.2L1929.4 262.8L1929.5 260.3L1929.7 264.4L1929.9 262.8L1930.1 264.1L1930.2 258.2L1930.4 270.7L1930.6 267.0L1930.7 265.6L1930.9 264.8L1931.1 272.8L1931.3 271.4L1931.5 266.0L1931.7 265.2L1931.8 277.1L1932.0 266.3L1932.2 258.1L1932.4 269.3L1932.6 258.2L1932.8 265.4L1932.9 261.8L1933.1 271.8L1933.3 269.1L1933.5 261.0L1933.6 275.8L1933.8 267.1L1934.0 265.5L1934.2 258.4L1934.3 271.2L1934.5 265.4L1934.7 264.2L1934.8 276.8L1935.0 261.2L1935.2 270.8L1935.4 262.0L1935.5 261.8L1935.7 272.7L1935.9 271.0L1936.1 262.1L1936.3 272.2L1936.5 262.5L1936.6 266.6L1936.8 268.9L1937.0 265.4L1937.2 261.7L1937.4 264.5L1937.5 270.5L1937.7 265.4L1937.9 265.0L1938.1 265.5L1938.2 256.6L1938.4 267.3L1938.6 267.5L1938.7 262.7L1938.9 269.9L1939.1 261.8L1939.2 265.2L1939.4 269.0L1939.6 273.9L1939.8 268.7L1940.0 264.0L1940.2 270.6L1940.3 269.3L1940.5 271.4L1940.7 267.4L1940.9 267.2L1941.0 259.0L1941.2 266.7L1941.4 261.0L1941.6 267.5L1941.7 262.7L1941.9 263.2L1942.1 263.1L1942.3 267.2L1942.4 256.9L1942.6 267.5L1942.8 266.5L1942.9 264.4L1943.1 261.5L1943.3 269.7L1943.5 255.6L1943.7 263.1L1943.8 265.8L1944.0 266.2L1944.2 265.7" fill="none" stroke="#00ff00" stroke-width="5" stroke-linecap="round" stroke-linejoin="round" stroke-dasharray="16.3 14.4 0.6 14.7" clip-path="url(#cc)"/>
<path d="M956.5 807.2L957.4 807.2L958.3 807.2L959.2 807.2L960.1 807.2L961.0 807.2L961.9 807.2L962.8 807.2L963.7 807.2L964.6 807.2L965.5 807.2L966.4 807.2L967.3 807.2L968.2 807.2L969.1 807.2L970.0 807.2L970.9 807.2L971.8 807.2L972.7 807.2L973.6 807.2L974.5 807.2L975.4 807.2L976.3 807.2L977.2 807.2L978.1 807.2L979.0 807.2L979.9 807.2L980.8 807.2L981.7 807.3L982.6 807.3L983.5 807.3L984.5 807.3L985.4 807.3L986.3 807.3L987.2 807.3L988.1 807.3L989.0 807.3L989.9 807.3L990.8 807.3L991.7 807.4L992.6 807.4L993.5 807.4L994.4 807.4L995.3 807.5L996.2 807.5L997.1 807.5L998.0 807.6L998.9 807.6L999.8 807.7L1000.7 807.7L1001.6 807.8L1002.5 807.8L1003.4 807.9L1004.3 807.9L1005.2 808.0L1006.1 808.0L1007.0 808.1L1007.9 808.2L1008.8 808.2L1009.7 808.3L1010.6 808.4L1011.5 808.4L1012.4 808.5L1013.3 808.6L1014.2 808.7L1015.1 808.7L1016.0 808.8L1016.9 808.9L1017.8 809.0L1018.7 809.1L1019.6 809.2L1020.5 809.3L1021.4 809.4L1022.3 809.5L1023.2 809.7L1024.1 809.8L1025.0 810.0L1025.9 810.2L1026.8 810.4L1027.7 810.7L1028.6 810.9L1029.5 811.2L1030.4 811.5L1031.3 811.7L1032.2 812.0L1033.1 812.3L1034.0 812.6L1034.9 812.9L1035.8 813.3L1036.7 813.6L1037.6 813.9L1038.5 814.3L1039.5 814.6L1040.4 814.9L1041.3 815.3L1042.2 815.6L1043.1 815.9L1044.0 816.3L1044.9 816.6L1045.8 816.9L1046.7 817.2L1047.6 817.5L1048.5 817.9L1049.4 818.2L1050.3 818.5L1051.2 818.9L1052.1 819.2L1053.0 819.6L1053.9 820.0L1054.8 820.3L1055.7 820.7L1056.6 821.1L1057.5 821.5L1058.4 821.9L1059.3 822.2L1060.2 822.6L1061.1 823.0L1062.0 823.4L1062.9 823.8L1063.8 824.2L1064.7 824.6L1065.6 824.9L1066.5 825.3L1067.4 825.7L1068.3 826.0L1069.2 826.4L1070.1 826.8L1071.0 827.1L1071.9 827.4L1072.8 827.8L1073.7 828.1L1074.6 828.4L1075.5 828.7L1076.4 829.0L1077.3 829.3L1078.2 829.7L1079.1 830.0L1080.0 830.3L1080.9 830.7L1081.8 831.0L1082.7 831.3L1083.6 831.6L1084.5 831.9L1085.4 832.3L1086.3 832.6L1087.2 832.9L1088.1 833.2L1089.0 833.5L1089.9 833.7L1090.8 834.0L1091.7 834.3L1092.6 834.5L1093.5 834.8L1094.5 835.0L1095.4 835.2L1096.3 835.4L1097.2 835.6L1098.1 835.8L1099.0 835.9L1099.9 836.1L1100.8 836.2L1101.7 836.3L1102.6 836.4L1103.5 836.5L1104.4 836.7L1105.3 836.8L1106.2 836.9L1107.1 837.0L1108.0 837.0L1108.9 837.1L1109.8 837.2L1110.7 837.3L1111.6 837.3L1112.5 837.3L1113.4 837.4L1114.3 837.4L1115.2 837.4L1116.1 837.3L1117.0 837.2L1117.9 837.1L1118.8 836.9L1119.7 836.8L1120.6 836.6L1121.5 836.3L1122.4 836.1L1123.3 835.8L1124.2 835.5L1125.1 835.2L1126.0 834.9L1126.9 834.5L1127.8 834.2L1128.7 833.8L1129.6 833.4L1130.5 833.0L1131.4 832.7L1132.3 832.3L1133.2 831.9L1134.1 831.5L1135.0 831.0L1135.9 830.5L1136.8 829.9L1137.7 829.3L1138.6 828.7L1139.5 828.0L1140.4 827.3L1141.3 826.6L1142.2 825.8L1143.1 825.0L1144.0 824.1L1144.9 823.2L1145.8 822.3L1146.7 821.3L1147.6 820.3L1148.5 819.3L1149.5 818.2L1150.4 817.0L1151.3 815.7L1152.2 814.3L1153.1 812.7L1154.0 811.0L1154.9 809.2L1155.8 807.4L1156.7 805.5L1157.6 803.5L1158.5 801.4L1159.4 799.4L1160.3 797.3L1161.2 795.2L1162.1 793.1L1163.0 791.0L1163.9 788.8L1164.8 786.4L1165.7 783.7L1166.6 780.9L1167.5 777.8L1168.4 774.6L1169.3 771.3L1170.2 767.8L1171.1 764.1L1172.0 760.3L1172.9 756.3L1173.8 752.1L1174.7 747.6L1175.6 742.8L1176.5 737.7L1177.4 732.6L1178.3 727.3L1179.2 722.0L1180.1 716.8L1181.0 711.6L1181.9 706.4L1182.8 701.1L1183.7 695.7L1184.6 690.3L1185.5 684.9L1186.4 679.4L1187.3 673.9L1188.2 668.3L1189.1 662.5L1190.0 656.6L1190.9 650.5L1191.8 644.4L1192.7 638.3L1193.6 632.3L1194.5 626.6L1195.4 621.1L1196.3 615.9L1197.2 610.8L1198.1 605.6L1199.0 600.6L1199.9 595.7L1200.8 591.1L1201.7 586.9L1202.6 583.2L1203.5 580.0L1204.5 577.3L1205.4 574.6L1206.3 572.0L1207.2 569.5L1208.1 567.2L1209.0 565.1L1209.9 563.2L1210.8 561.6L1211.7 560.2L1212.6 559.2L1213.5 558.5L1214.4 557.9L1215.3 557.3L1216.2 556.8L1217.1 556.3L1218.0 555.9L1218.9 555.5L1219.8 555.2L1220.7 555.0L1221.6 554.8L1222.5 554.7L1223.4 554.7L1224.3 554.8L1225.2 555.0L1226.1 555.2L1227.0 555.5L1227.9 555.8L1228.8 556.2L1229.7 556.6L1230.6 557.1L1231.5 557.6L1232.4 558.1L1233.3 558.6L1234.2 559.2L1235.1 559.7L1236.0 560.3L1236.9 560.9L1237.8 561.5L1238.7 562.2L1239.6 563.0L1240.5 563.9L1241.4 564.8L1242.3 565.8L1243.2 566.9L1244.1 568.0L1245.0 569.2L1245.9 570.4L1246.8 571.7L1247.7 573.0L1248.6 574.4L1249.5 576.0L1250.4 577.7L1251.3 579.6L1252.2 581.6L1253.1 583.7L1254.0 585.9L1254.9 588.1L1255.8 590.5L1256.7 592.9L1257.6 595.4L1258.5 597.9L1259.5 600.4L1260.4 603.0L1261.3 605.7L1262.2 608.5L1263.1 611.4L1264.0 614.4L1264.9 617.6L1265.8 620.8L1266.7 624.0L1267.6 627.4L1268.5 630.8L1269.4 634.2L1270.3 637.8L1271.2 641.6L1272.1 645.5L1273.0 649.6L1273.9 654.0L1274.8 659.3L1275.7 664.7L1276.6 669.4L1277.5 672.8L1278.4 674.6L1279.3 676.1L1280.2 677.5L1281.1 678.6L1282.0 679.5L1282.9 680.1L1283.8 680.4L1284.7 680.4L1285.6 680.3L1286.5 680.0L1287.4 679.7L1288.3 679.3L1289.2 678.7L1290.1 678.1L1291.0 676.8L1291.9 674.3L1292.8 671.0L1293.7 667.2L1294.6 663.4L1295.5 658.6L1296.4 652.7L1297.3 648.4L1298.2 647.8L1299.1 648.9L1300.0 650.6L1300.9 652.3L1301.8 653.5L1302.7 653.8L1303.6 652.8L1304.5 651.2L1305.4 649.4L1306.3 648.1L1307.2 647.7L1308.1 648.7L1309.0 650.8L1309.9 653.0L1310.8 654.8L1311.7 655.4L1312.6 655.3L1313.5 654.9L1314.4 654.2L1315.4 653.1L1316.3 651.5L1316.6 651.5L1317.0 651.6L1317.3 651.5L1317.7 650.7L1318.1 650.3L1318.4 649.3L1318.7 649.7L1319.1 652.3L1319.4 651.2L1319.8 650.0L1320.1 651.5L1320.4 652.3L1320.7 652.4L1321.1 649.9L1321.4 650.3L1321.7 652.3L1322.0 648.9L1322.3 648.6L1322.6 645.0L1322.9 643.8L1323.2 641.7L1323.5 643.9L1323.8 643.1L1324.1 646.1L1324.4 648.1L1324.7 648.6L1325.0 643.5L1325.3 644.5L1325.6 646.4L1325.8 648.2L1326.1 645.5L1326.4 646.1L1326.7 645.4L1326.9 645.2L1327.2 649.5L1327.5 648.2L1327.7 649.1L1328.0 651.9L1328.2 650.4L1328.5 650.5L1328.8 651.1L1329.0 651.4L1329.3 648.6L1329.5 649.6L1329.8 653.4L1330.0 649.2L1330.2 651.9L1330.5 652.1L1330.7 650.5L1331.0 655.5L1331.2 656.2L1331.4 652.1L1331.7 652.1L1331.9 653.4L1332.1 652.4L1332.4 653.8L1332.6 653.0L1332.8 654.2L1333.1 656.9L1333.3 653.8L1333.5 653.7L1333.7 652.0L1333.9 652.2L1334.2 649.2L1334.4 648.6L1334.6 649.0L1334.8 651.9L1335.0 654.5L1335.2 650.6L1335.4 649.0L1335.6 651.3L1335.8 646.7L1336.0 647.0L1336.3 648.1L1336.5 652.1L1336.7 653.6L1336.9 652.3L1337.1 651.2L1337.3 650.8L1337.5 654.6L1337.6 652.8L1337.8 651.7L1338.0 652.6L1338.2 652.0L1338.4 651.5L1338.6 648.9L1338.8 649.7L1339.0 649.2L1339.2 652.6L1339.4 653.9L1339.5 653.2L1339.7 654.4L1339.9 652.8L1340.1 655.0L1340.3 654.0L1340.5 654.7L1340.6 650.8L1340.8 651.9L1341.0 647.9L1341.2 644.2L1341.3 645.6L1341.5 645.2L1341.7 647.4L1341.9 653.9L1342.0 651.3L1342.2 650.0L1342.4 650.9L1342.5 652.3L1342.7 651.7L1342.9 651.2L1343.0 653.0L1343.4 650.8L1343.7 651.2L1344.0 650.3L1344.4 651.8L1344.7 652.3L1345.0 650.8L1345.3 645.2L1345.6 644.0L1345.9 645.1L1346.2 647.6L1346.5 651.2L1346.8 651.8L1347.1 654.1L1347.4 652.1L1347.7 652.9L1348.0 651.3L1348.3 648.7L1348.6 651.0L1348.8 653.4L1349.1 651.0L1349.4 649.5L1349.7 649.7L1349.9 647.0L1350.2 651.8L1350.5 648.2L1350.7 653.8L1351.0 649.9L1351.3 645.6L1351.5 649.8L1351.8 649.1L1352.0 649.9L1352.3 648.0L1352.5 650.9L1352.8 651.2L1353.0 650.4L1353.3 651.7L1353.5 650.9L1353.8 654.1L1354.0 655.0L1354.3 649.3L1354.5 654.4L1354.7 654.2L1355.0 656.3L1355.2 654.6L1355.4 652.9L1355.7 655.0L1355.9 659.3L1356.1 655.5L1356.3 652.8L1356.6 650.6L1356.8 648.7L1357.0 647.3L1357.2 649.0L1357.4 648.4L1357.6 647.1L1357.9 643.9L1358.1 648.5L1358.3 648.5L1358.5 646.6L1358.7 648.1L1358.9 649.4L1359.1 656.0L1359.3 653.7L1359.5 652.6L1359.7 648.7L1359.9 651.3L1360.1 651.0L1360.3 653.3L1360.5 647.2L1360.7 638.5L1360.9 647.2L1361.1 646.8L1361.3 650.3L1361.5 651.5L1361.7 651.6L1361.9 654.4L1362.1 651.1L1362.3 650.7L1362.5 650.1L1362.6 650.7L1362.8 653.1L1363.0 653.9L1363.2 655.1L1363.4 649.7L1363.6 650.8L1363.7 648.9L1363.9 652.8L1364.1 652.9L1364.3 653.7L1364.4 647.9L1364.6 654.7L1364.8 656.5L1365.0 654.9L1365.1 652.5L1365.3 655.9L1365.5 654.7L1365.6 650.9L1365.8 655.3L1366.0 652.9L1366.2 650.4L1366.4 651.2L1366.7 647.8L1366.9 650.7L1367.1 655.1L1367.4 652.1L1367.6 651.4L1367.9 653.2L1368.1 648.7L1368.3 649.4L1368.6 655.5L1368.8 656.7L1369.0 650.8L1369.3 652.7L1369.5 651.0L1369.7 652.4L1369.9 652.1L1370.2 657.2L1370.4 650.7L1370.6 645.3L1370.8 651.4L1371.0 647.4L1371.3 655.4L1371.5 650.1L1371.7 649.4L1371.9 654.0L1372.1 654.4L1372.3 651.2L1372.5 649.5L1372.7 653.5L1372.9 649.5L1373.1 653.3L1373.3 648.5L1373.5 647.9L1373.7 656.3L1373.9 649.9L1374.1 657.7L1374.3 649.6L1374.5 649.3L1374.7 650.4L1374.9 649.9L1375.1 648.4L1375.3 647.1L1375.5 648.7L1375.7 650.3L1375.9 651.4L1376.1 650.1L1376.2 653.1L1376.4 650.3L1376.6 650.9L1376.8 650.1L1377.0 646.8L1377.2 646.3L1377.3 648.0L1377.5 649.7L1377.7 648.7L1377.9 650.6L1378.1 651.4L1378.2 656.5L1378.4 647.4L1378.6 651.9L1378.7 647.6L1378.9 648.5L1379.1 648.6L1379.3 645.6L1379.4 651.7L1379.6 646.7L1379.8 649.6L1380.0 653.3L1380.2 652.3L1380.4 648.1L1380.6 651.4L1380.9 648.4L1381.1 649.1L1381.3 643.9L1381.5 648.9L1381.7 647.9L1381.9 650.3L1382.1 647.9L1382.3 653.0L1382.5 653.5L1382.7 654.4L1382.9 653.4L1383.1 646.3L1383.3 649.9L1383.5 656.3L1383.7 651.2L1383.9 652.1L1384.1 656.4L1384.3 651.4L1384.5 651.8L1384.7 647.0L1384.9 650.7L1385.1 645.9L1385.3 656.1L1385.5 656.8L1385.7 658.9L1385.9 657.2L1386.0 653.1L1386.2 651.3L1386.4 646.8L1386.6 651.9L1386.8 652.3L1386.9 652.0L1387.1 650.4L1387.3 653.8L1387.5 657.5L1387.7 653.3L1387.8 645.6L1388.0 650.3L1388.2 650.5L1388.4 651.9L1388.5 652.2L1388.7 654.8L1388.9 659.5L1389.0 656.6L1389.2 660.5L1389.4 653.7L1389.5 653.2L1389.7 648.7L1390.0 653.7L1390.2 647.1L1390.4 645.5L1390.6 649.1L1390.8 657.4L1391.0 656.0L1391.2 651.7L1391.4 653.1L1391.6 653.7L1391.8 653.6L1391.9 648.6L1392.1 653.2L1392.3 645.7L1392.5 649.9L1392.7 647.2L1392.9 648.3L1393.1 652.9L1393.3 651.1L1393.5 653.4L1393.6 648.6L1393.8 649.5L1394.0 652.7L1394.2 650.1L1394.4 642.7L1394.6 645.9L1394.7 651.8L1394.9 652.7L1395.1 652.3L1395.3 654.4L1395.4 650.3L1395.6 652.1L1395.8 656.2L1396.0 655.6L1396.1 652.3L1396.3 650.3L1396.5 652.4L1396.6 656.6L1396.8 654.4L1397.0 655.0L1397.2 653.0L1397.4 651.0L1397.6 653.0L1397.8 653.2L1398.0 651.4L1398.2 653.1L1398.3 656.5L1398.5 651.0L1398.7 655.6L1398.9 652.5L1399.1 645.5L1399.3 654.1L1399.5 652.4L1399.7 650.9L1399.8 659.3L1400.0 653.5L1400.2 647.1L1400.4 644.0L1400.6 647.5L1400.8 655.5L1400.9 653.6L1401.1 650.2L1401.3 653.3L1401.5 652.5L1401.6 643.1L1401.8 652.8L1402.0 647.6L1402.1 649.4L1402.3 648.5L1402.5 652.4L1402.7 659.8L1402.8 651.2L1403.0 648.1L1403.2 653.1L1403.4 650.6L1403.6 645.9L1403.8 653.4L1404.0 657.8L1404.1 651.0L1404.3 653.3L1404.5 648.6L1404.7 651.1L1404.9 649.9L1405.1 651.5L1405.3 657.1L1405.4 646.9L1405.6 650.4L1405.8 649.3L1406.0 654.1L1406.2 657.6L1406.3 652.2L1406.5 656.4L1406.7 649.2L1406.9 651.0L1407.0 653.0L1407.2 656.0L1407.4 652.6L1407.5 658.1L1407.7 654.7L1407.9 652.3L1408.1 653.3L1408.2 653.4L1408.4 654.1L1408.6 659.9L1408.8 655.0L1409.0 646.2L1409.2 649.0L1409.3 649.9L1409.5 653.7L1409.7 654.4L1409.9 652.6L1410.1 657.5L1410.3 647.2L1410.4 654.0L1410.6 651.8L1410.8 653.9L1411.0 652.0L1411.1 647.7L1411.3 652.0L1411.5 652.6L1411.7 659.1L1411.8 651.8L1412.0 649.6L1412.2 652.6L1412.3 648.2L1412.5 662.4L1412.7 656.1L1412.9 656.8L1413.1 653.0L1413.2 653.0L1413.4 646.1L1413.6 656.3L1413.8 651.9L1414.0 651.7L1414.1 659.0L1414.3 648.5L1414.5 648.0L1414.7 654.7L1414.9 648.8L1415.0 651.4L1415.2 648.5L1415.4 656.6L1415.6 650.3L1415.7 650.7L1415.9 653.7L1416.1 645.0L1416.2 649.5L1416.4 648.7L1416.6 658.8L1416.7 653.6L1416.9 647.4L1417.1 648.7L1417.3 653.3L1417.5 657.6L1417.7 649.2L1417.8 654.0L1418.0 644.5L1418.2 652.8L1418.4 651.7L1418.5 656.9L1418.7 648.6L1418.9 648.9L1419.1 657.3L1419.2 656.1L1419.4 655.3L1419.6 652.1L1419.7 657.8L1419.9 652.6L1420.1 656.9L1420.2 655.8L1420.4 650.3L1420.6 651.6L1420.8 651.9L1421.0 649.3L1421.2 652.6L1421.3 655.0L1421.5 647.9" fill="none" stroke="#ff0000" stroke-width="5" stroke-linecap="round" stroke-linejoin="round" clip-path="url(#ce)"/>
<path d="M956.5 807.2L957.4 807.2L958.2 807.2L959.1 807.2L960.0 807.2L960.9 807.2L961.7 807.2L962.6 807.2L963.5 807.2L964.3 807.2L965.2 807.2L966.1 807.2L967.0 807.2L967.8 807.2L968.7 807.2L969.6 807.2L970.4 807.2L971.3 807.2L972.2 807.2L973.1 807.2L973.9 807.2L974.8 807.2L975.7 807.2L976.5 807.2L977.4 807.2L978.3 807.2L979.2 807.2L980.0 807.2L980.9 807.2L981.8 807.3L982.6 807.3L983.5 807.3L984.4 807.3L985.3 807.3L986.1 807.3L987.0 807.3L987.9 807.3L988.7 807.3L989.6 807.3L990.5 807.4L991.3 807.4L992.2 807.4L993.1 807.5L994.0 807.5L994.8 807.5L995.7 807.6L996.6 807.7L997.4 807.7L998.3 807.8L999.2 807.8L1000.1 807.9L1000.9 808.0L1001.8 808.1L1002.7 808.2L1003.5 808.3L1004.4 808.4L1005.3 808.4L1006.2 808.5L1007.0 808.7L1007.9 808.8L1008.8 808.9L1009.6 809.0L1010.5 809.1L1011.4 809.2L1012.3 809.3L1013.1 809.5L1014.0 809.6L1014.9 809.7L1015.7 809.9L1016.6 810.0L1017.5 810.1L1018.4 810.3L1019.2 810.4L1020.1 810.5L1021.0 810.7L1021.8 810.8L1022.7 811.0L1023.6 811.1L1024.5 811.3L1025.3 811.4L1026.2 811.6L1027.1 811.7L1027.9 811.9L1028.8 812.1L1029.7 812.2L1030.6 812.4L1031.4 812.6L1032.3 812.8L1033.2 813.0L1034.0 813.2L1034.9 813.5L1035.8 813.7L1036.7 814.0L1037.5 814.2L1038.4 814.5L1039.3 814.8L1040.1 815.1L1041.0 815.4L1041.9 815.7L1042.8 816.0L1043.6 816.4L1044.5 816.7L1045.4 817.0L1046.2 817.4L1047.1 817.7L1048.0 818.1L1048.9 818.5L1049.7 818.9L1050.6 819.3L1051.5 819.6L1052.3 820.0L1053.2 820.5L1054.1 820.9L1055.0 821.3L1055.8 821.7L1056.7 822.1L1057.6 822.6L1058.4 823.0L1059.3 823.4L1060.2 823.9L1061.0 824.3L1061.9 824.8L1062.8 825.3L1063.7 825.7L1064.5 826.2L1065.4 826.7L1066.3 827.2L1067.1 827.8L1068.0 828.3L1068.9 828.9L1069.8 829.5L1070.6 830.2L1071.5 830.8L1072.4 831.4L1073.2 832.1L1074.1 832.8L1075.0 833.5L1075.9 834.2L1076.7 834.9L1077.6 835.6L1078.5 836.4L1079.3 837.1L1080.2 837.9L1081.1 838.7L1082.0 839.5L1082.8 840.3L1083.7 841.1L1084.6 841.9L1085.4 842.7L1086.3 843.5L1087.2 844.3L1088.1 845.2L1088.9 846.0L1089.8 846.8L1090.7 847.7L1091.5 848.6L1092.4 849.5L1093.3 850.4L1094.2 851.4L1095.0 852.4L1095.9 853.4L1096.8 854.4L1097.6 855.4L1098.5 856.5L1099.4 857.6L1100.3 858.6L1101.1 859.7L1102.0 860.8L1102.9 861.9L1103.7 863.0L1104.6 864.1L1105.5 865.2L1106.4 866.3L1107.2 867.4L1108.1 868.4L1109.0 869.5L1109.8 870.6L1110.7 871.6L1111.6 872.6L1112.5 873.6L1113.3 874.6L1114.2 875.6L1115.1 876.6L1115.9 877.6L1116.8 878.5L1117.7 879.5L1118.6 880.5L1119.4 881.5L1120.3 882.4L1121.2 883.4L1122.0 884.4L1122.9 885.3L1123.8 886.3L1124.6 887.3L1125.5 888.2L1126.4 889.2L1127.3 890.2L1128.1 891.2L1129.0 892.2L1129.9 893.1L1130.7 894.1L1131.6 895.1L1132.5 896.1L1133.4 897.2L1134.2 898.2L1135.1 899.3L1136.0 900.4L1136.8 901.5L1137.7 902.7L1138.6 903.8L1139.5 905.0L1140.3 906.2L1141.2 907.4L1142.1 908.5L1142.9 909.7L1143.8 910.8L1144.7 911.9L1145.6 913.0L1146.4 914.0L1147.3 915.0L1148.2 916.0L1149.0 916.9L1149.9 917.8L1150.8 918.5L1151.7 919.3L1152.5 920.0L1153.4 920.6L1154.3 921.3L1155.1 921.9L1156.0 922.6L1156.9 923.2L1157.8 923.8L1158.6 924.4L1159.5 925.0L1160.4 925.6L1161.2 926.2L1162.1 926.7L1163.0 927.3L1163.9 927.8L1164.7 928.3L1165.6 928.8L1166.5 929.2L1167.3 929.7L1168.2 930.1L1169.1 930.5L1170.0 930.9L1170.8 931.3L1171.7 931.6L1172.6 932.0L1173.4 932.2L1174.3 932.5L1175.2 932.8L1176.1 933.0L1176.9 933.2L1177.8 933.4L1178.7 933.6L1179.5 933.8L1180.4 934.0L1181.3 934.1L1182.2 934.3L1183.0 934.5L1183.9 934.6L1184.8 934.7L1185.6 934.8L1186.5 934.9L1187.4 934.9L1188.2 934.9L1189.1 934.9L1190.0 934.9L1190.9 934.9L1191.7 934.9L1192.6 934.9L1193.5 934.8L1194.3 934.8L1195.2 934.7L1196.1 934.7L1197.0 934.7L1197.8 934.6L1198.7 934.5L1199.6 934.5L1200.4 934.4L1201.3 934.3L1202.2 934.3L1203.1 934.2L1203.9 934.1L1204.8 934.0L1205.7 934.0L1206.5 933.9L1207.4 933.8L1208.3 933.7L1209.2 933.6L1210.0 933.5L1210.9 933.4L1211.8 933.3L1212.6 933.2L1213.5 933.1L1214.4 933.0L1215.3 932.9L1216.1 932.7L1217.0 932.6L1217.9 932.4L1218.7 932.2L1219.6 932.1L1220.5 931.9L1221.4 931.7L1222.2 931.5L1223.1 931.2L1224.0 931.0L1224.8 930.8L1225.7 930.5L1226.6 930.3L1227.5 930.0L1228.3 929.7L1229.2 929.4L1230.1 929.2L1230.9 928.9L1231.8 928.5L1232.7 928.2L1233.6 927.9L1234.4 927.6L1235.3 927.2L1236.2 926.8L1237.0 926.4L1237.9 925.9L1238.8 925.4L1239.7 924.9L1240.5 924.3L1241.4 923.7L1242.3 923.0L1243.1 922.3L1244.0 921.6L1244.9 920.9L1245.8 920.1L1246.6 919.2L1247.5 918.3L1248.4 917.3L1249.2 916.3L1250.1 915.1L1251.0 913.9L1251.9 912.6L1252.7 911.2L1253.6 909.7L1254.5 908.2L1255.3 906.7L1256.2 905.0L1257.1 903.3L1257.9 901.5L1258.8 899.5L1259.7 897.2L1260.6 894.8L1261.4 892.2L1262.3 889.5L1263.2 886.7L1264.0 883.9L1264.9 881.0L1265.8 878.2L1266.7 875.4L1267.5 872.7L1268.4 869.6L1269.3 866.3L1270.1 862.7L1271.0 859.0L1271.9 855.4L1272.8 851.9L1273.6 848.6L1274.5 845.7L1275.4 843.3L1276.2 841.5L1277.1 840.4L1278.0 840.1L1278.9 840.5L1279.7 841.5L1280.6 843.0L1281.5 844.9L1282.3 847.1L1283.2 849.5L1284.1 852.0L1285.0 854.5L1285.8 857.0L1286.7 859.3L1287.6 861.9L1288.4 864.9L1289.3 868.0L1290.2 871.0L1291.1 873.6L1291.9 875.6L1292.8 876.9L1293.7 878.2L1294.5 879.5L1295.4 880.6L1296.3 881.6L1297.2 882.4L1298.0 883.1L1298.9 883.5L1299.8 883.6L1300.6 883.6L1301.5 883.5L1302.4 883.4L1303.3 883.0L1304.1 882.5L1304.7 882.0L1305.2 881.2L1305.7 880.1L1306.2 879.9L1306.7 877.3L1307.2 877.8L1307.6 877.0L1308.1 879.7L1308.6 882.3L1309.0 885.0L1309.5 885.7L1310.0 884.7L1310.4 885.7L1310.8 887.6L1311.3 884.9L1311.7 885.3L1312.1 884.4L1312.5 886.6L1312.9 883.8L1313.3 882.8L1313.7 883.4L1314.1 883.6L1314.5 880.1L1314.9 881.4L1315.3 881.4L1315.7 881.2L1316.1 881.2L1316.4 882.0L1316.8 878.6L1317.1 882.6L1317.5 880.9L1317.9 877.0L1318.2 878.4L1318.6 882.2L1318.9 881.3L1319.2 884.5L1319.6 886.8L1319.9 883.9L1320.2 878.7L1320.6 877.4L1320.9 881.0L1321.2 879.8L1321.5 877.6L1321.8 876.4L1322.2 878.0L1322.5 879.2L1322.8 881.7L1323.1 883.7L1323.4 881.5L1323.7 881.4L1324.0 879.5L1324.3 880.4L1324.5 878.7L1324.8 877.4L1325.1 882.8L1325.4 882.7L1325.7 883.8L1326.0 888.2L1326.2 888.0L1326.5 886.1L1326.8 885.1L1327.0 882.9L1327.3 884.7L1327.6 883.4L1327.8 886.4L1328.1 884.5L1328.4 883.2L1328.6 882.1L1328.9 883.3L1329.1 883.3L1329.4 885.6L1329.6 883.6L1329.9 883.7L1330.1 887.0L1330.4 885.1L1330.6 885.3L1330.8 887.4L1331.1 886.9L1331.3 884.4L1331.6 879.8L1331.8 885.0L1332.0 885.0L1332.2 886.6L1332.5 884.4L1332.7 887.2L1332.9 886.8L1333.2 885.5L1333.4 882.8L1333.6 883.3L1333.8 882.0L1334.0 881.6L1334.3 878.7L1334.5 878.7L1334.7 880.0L1334.9 878.2L1335.1 879.4L1335.3 881.4L1335.5 881.0L1335.7 880.1L1335.9 879.5L1336.1 882.0L1336.3 879.1L1336.5 879.4L1336.7 879.3L1336.9 880.4L1337.1 880.7L1337.3 879.0L1337.5 883.7L1337.7 883.6L1337.9 880.6L1338.1 879.3L1338.3 880.3L1338.5 881.9L1338.7 879.4L1338.9 881.5L1339.1 879.0L1339.3 878.4L1339.4 881.0L1339.6 884.5L1339.8 883.7L1340.0 882.6L1340.2 884.8L1340.4 882.0L1340.5 882.5L1340.7 882.8L1340.9 884.5L1341.1 884.4L1341.2 883.2L1341.4 884.0L1341.6 881.3L1341.8 883.0L1341.9 881.5L1342.1 879.9L1342.3 879.8L1342.5 880.5L1342.6 882.3L1342.8 881.8L1343.0 883.2L1343.3 883.7L1343.6 883.3L1343.9 879.0L1344.3 879.4L1344.6 877.4L1344.9 878.1L1345.2 880.6L1345.5 882.6L1345.8 885.7L1346.1 883.5L1346.4 881.4L1346.7 885.0L1347.0 887.0L1347.3 883.4L1347.6 880.5L1347.9 885.8L1348.2 885.6L1348.5 885.3L1348.8 879.1L1349.0 877.0L1349.3 879.7L1349.6 880.9L1349.9 883.0L1350.1 880.8L1350.4 881.2L1350.7 882.5L1350.9 886.9L1351.2 889.9L1351.5 884.2L1351.7 883.6L1352.0 884.4L1352.2 884.6L1352.5 883.9L1352.7 878.7L1353.0 876.2L1353.2 882.5L1353.5 879.9L1353.7 883.6L1353.9 882.5L1354.2 884.2L1354.4 876.9L1354.7 876.9L1354.9 881.7L1355.1 880.0L1355.4 883.6L1355.6 880.5L1355.8 880.2L1356.0 881.5L1356.3 879.7L1356.5 879.6L1356.7 883.9L1356.9 886.3L1357.2 882.9L1357.4 882.8L1357.6 882.0L1357.8 882.4L1358.0 878.3L1358.2 881.3L1358.4 880.6L1358.6 879.8L1358.9 880.0L1359.1 881.8L1359.3 880.4L1359.5 878.9L1359.7 881.5L1359.9 881.5L1360.1 880.9L1360.3 880.0L1360.5 882.3L1360.7 884.4L1360.9 882.1L1361.1 880.9L1361.3 879.7L1361.5 881.9L1361.6 885.8L1361.8 883.1L1362.0 883.6L1362.2 882.7L1362.4 883.9L1362.6 880.2L1362.8 881.2L1363.0 882.6L1363.1 877.3L1363.3 880.2L1363.5 877.5L1363.7 875.6L1363.9 875.7L1364.0 878.4L1364.2 877.0L1364.4 876.2L1364.6 874.3L1364.7 876.2L1364.9 881.7L1365.1 879.3L1365.3 878.9L1365.4 882.5L1365.6 879.5L1365.8 878.7L1365.9 882.9L1366.1 885.6L1366.3 884.3L1366.5 879.4L1366.8 883.8L1367.0 886.9L1367.3 884.8L1367.5 883.7L1367.7 879.6L1368.0 878.8L1368.2 881.9L1368.5 883.1L1368.7 879.5L1368.9 879.3L1369.1 882.7L1369.4 884.8L1369.6 884.1L1369.8 887.3L1370.0 886.5L1370.3 883.6L1370.5 878.3L1370.7 882.9L1370.9 882.2L1371.1 880.8L1371.4 878.5L1371.6 883.3L1371.8 886.5L1372.0 877.1L1372.2 884.1L1372.4 883.5L1372.6 881.6L1372.8 882.6L1373.0 883.0L1373.2 883.9L1373.4 885.8L1373.6 885.6L1373.8 880.9L1374.0 880.4L1374.2 883.5L1374.4 883.7L1374.6 883.8L1374.8 880.1L1375.0 885.1L1375.2 881.9L1375.4 884.3L1375.6 878.4L1375.8 883.6L1376.0 882.0L1376.2 884.2L1376.3 884.1L1376.5 884.9L1376.7 880.3L1376.9 884.3L1377.1 880.4L1377.2 882.6L1377.4 881.2L1377.6 881.5L1377.8 880.7L1378.0 881.2L1378.1 883.1L1378.3 883.4L1378.5 885.1L1378.7 882.7L1378.8 880.4L1379.0 879.4L1379.2 885.5L1379.3 883.7L1379.5 887.1L1379.7 884.1L1379.8 879.4L1380.1 884.5L1380.3 880.8L1380.5 882.4L1380.7 881.8L1380.9 881.6L1381.2 879.2L1381.4 879.1L1381.6 880.8L1381.8 883.1L1382.0 876.5L1382.2 877.7L1382.4 879.7L1382.6 881.0L1382.8 873.8L1383.0 875.3L1383.2 876.2L1383.4 882.1L1383.6 879.6L1383.8 880.2L1384.0 882.6L1384.2 883.1L1384.4 881.5L1384.6 882.3L1384.8 877.6L1385.0 881.8L1385.2 882.5L1385.4 882.7L1385.5 883.1L1385.7 881.5L1385.9 879.2L1386.1 878.2L1386.3 876.1L1386.5 880.7L1386.7 884.2L1386.8 883.4L1387.0 882.7L1387.2 882.5L1387.4 887.6L1387.5 880.8L1387.7 879.7L1387.9 879.7L1388.1 884.5L1388.2 878.8L1388.4 883.2L1388.6 881.6L1388.8 882.0L1388.9 879.0L1389.1 881.3L1389.3 880.4L1389.4 877.9L1389.6 877.6L1389.9 880.0L1390.1 878.7L1390.3 884.3L1390.5 887.0L1390.7 883.6L1390.9 886.4L1391.1 880.5L1391.3 875.5L1391.5 882.0L1391.7 879.9L1391.9 876.8L1392.0 879.3L1392.2 886.2L1392.4 879.7L1392.6 878.6L1392.8 876.2L1393.0 882.8L1393.2 882.5L1393.4 880.7L1393.6 887.0L1393.7 883.2L1393.9 880.4L1394.1 879.6L1394.3 878.1L1394.5 880.5L1394.6 876.9L1394.8 876.9L1395.0 877.4L1395.2 883.9L1395.3 882.5L1395.5 878.6L1395.7 880.8L1395.9 882.0L1396.0 879.6L1396.2 880.4L1396.4 882.2L1396.6 882.4L1396.7 886.8L1396.9 882.8L1397.1 882.0L1397.3 878.9L1397.5 881.7L1397.7 878.8L1397.9 878.7L1398.1 879.7L1398.3 881.8L1398.5 876.9L1398.6 882.8L1398.8 882.5L1399.0 883.4L1399.2 884.5L1399.4 881.9L1399.6 880.5L1399.8 880.6L1400.0 880.7L1400.1 881.1L1400.3 875.8L1400.5 878.6L1400.7 880.6L1400.9 875.9L1401.0 884.0L1401.2 878.4L1401.4 879.7L1401.6 876.2L1401.7 884.0L1401.9 880.3L1402.1 880.3L1402.2 881.0L1402.4 884.0L1402.6 884.1L1402.8 877.5L1402.9 882.2L1403.1 882.2L1403.3 883.1L1403.5 879.7L1403.7 886.1L1403.9 879.2L1404.0 877.2L1404.2 879.3L1404.4 882.2L1404.6 879.1L1404.8 880.2L1405.0 879.6L1405.2 880.5L1405.3 879.3L1405.5 881.4L1405.7 875.9L1405.9 882.0L1406.1 882.1L1406.2 881.1L1406.4 883.3L1406.6 880.4L1406.8 884.8L1406.9 878.9L1407.1 881.3L1407.3 878.2L1407.5 880.7L1407.6 878.7L1407.8 884.9L1408.0 880.9L1408.1 877.4L1408.3 880.1L1408.5 883.7L1408.7 882.6L1408.9 878.0L1409.1 882.8L1409.2 882.6L1409.4 878.9L1409.6 881.3L1409.8 882.4L1410.0 879.6L1410.2 880.0L1410.3 882.0L1410.5 877.6L1410.7 879.3L1410.9 880.7L1411.0 876.4L1411.2 879.0L1411.4 882.1L1411.6 875.9L1411.7 881.7L1411.9 876.9L1412.1 881.2L1412.2 888.6L1412.4 878.4L1412.6 885.1L1412.7 880.9L1412.9 880.4L1413.1 882.4L1413.3 884.9L1413.5 880.9L1413.7 880.5L1413.9 883.8L1414.0 879.2L1414.2 877.8L1414.4 882.4L1414.6 883.0L1414.7 884.6L1414.9 873.9L1415.1 878.6L1415.3 885.2L1415.4 884.0L1415.6 877.5L1415.8 876.5L1416.0 882.0L1416.1 885.0L1416.3 879.7L1416.5 880.9L1416.6 873.9L1416.8 884.0L1417.0 883.3L1417.2 881.0L1417.4 879.0L1417.6 876.1L1417.7 878.4L1417.9 880.4L1418.1 881.1L1418.3 882.2L1418.4 881.8L1418.6 884.3L1418.8 880.2L1419.0 884.1L1419.1 884.6L1419.3 880.6L1419.5 882.0L1419.7 877.6L1419.8 880.0L1420.0 880.4L1420.2 887.5L1420.3 883.5L1420.5 874.3L1420.7 877.4L1420.9 883.7L1421.1 882.9L1421.2 879.5L1421.4 878.7L1421.6 881.9" fill="none" stroke="#0000ff" stroke-width="5" stroke-linecap="round" stroke-linejoin="round" stroke-dasharray="11.8 24.2" clip-path="url(#ce)"/>
<path d="M956.5 807.2L957.4 807.2L958.2 807.2L959.1 807.2L960.0 807.2L960.9 807.2L961.7 807.1L962.6 807.1L963.5 807.1L964.3 807.1L965.2 807.1L966.1 807.1L967.0 807.1L967.8 807.1L968.7 807.1L969.6 807.0L970.4 807.0L971.3 807.0L972.2 807.0L973.1 807.0L973.9 806.9L974.8 806.9L975.7 806.9L976.5 806.9L977.4 806.8L978.3 806.8L979.2 806.8L980.0 806.8L980.9 806.7L981.8 806.7L982.6 806.7L983.5 806.7L984.4 806.6L985.3 806.6L986.1 806.6L987.0 806.5L987.9 806.5L988.7 806.5L989.6 806.4L990.5 806.3L991.3 806.3L992.2 806.2L993.1 806.1L994.0 806.0L994.8 805.9L995.7 805.8L996.6 805.6L997.4 805.5L998.3 805.4L999.2 805.2L1000.1 805.0L1000.9 804.9L1001.8 804.7L1002.7 804.5L1003.5 804.3L1004.4 804.1L1005.3 803.9L1006.2 803.7L1007.0 803.5L1007.9 803.3L1008.8 803.0L1009.6 802.8L1010.5 802.5L1011.4 802.3L1012.3 802.0L1013.1 801.8L1014.0 801.5L1014.9 801.2L1015.7 801.0L1016.6 800.7L1017.5 800.4L1018.4 800.1L1019.2 799.8L1020.1 799.5L1021.0 799.2L1021.8 799.0L1022.7 798.6L1023.6 798.3L1024.5 798.0L1025.3 797.7L1026.2 797.4L1027.1 797.1L1027.9 796.8L1028.8 796.5L1029.7 796.1L1030.6 795.8L1031.4 795.5L1032.3 795.1L1033.2 794.8L1034.0 794.3L1034.9 793.9L1035.8 793.5L1036.7 793.0L1037.5 792.5L1038.4 792.0L1039.3 791.5L1040.1 790.9L1041.0 790.4L1041.9 789.8L1042.8 789.3L1043.6 788.7L1044.5 788.1L1045.4 787.5L1046.2 787.0L1047.1 786.4L1048.0 785.8L1048.9 785.2L1049.7 784.6L1050.6 783.9L1051.5 783.3L1052.3 782.7L1053.2 782.0L1054.1 781.3L1055.0 780.6L1055.8 780.0L1056.7 779.3L1057.6 778.5L1058.4 777.8L1059.3 777.1L1060.2 776.3L1061.0 775.6L1061.9 774.8L1062.8 774.1L1063.7 773.3L1064.5 772.5L1065.4 771.7L1066.3 770.9L1067.1 770.0L1068.0 769.2L1068.9 768.4L1069.8 767.5L1070.6 766.6L1071.5 765.7L1072.4 764.8L1073.2 763.9L1074.1 762.9L1075.0 761.9L1075.9 760.9L1076.7 759.9L1077.6 758.9L1078.5 757.9L1079.3 756.8L1080.2 755.8L1081.1 754.7L1082.0 753.7L1082.8 752.6L1083.7 751.5L1084.6 750.4L1085.4 749.3L1086.3 748.3L1087.2 747.2L1088.1 746.0L1088.9 744.9L1089.8 743.8L1090.7 742.6L1091.5 741.4L1092.4 740.2L1093.3 739.0L1094.2 737.8L1095.0 736.6L1095.9 735.4L1096.8 734.2L1097.6 733.0L1098.5 731.8L1099.4 730.6L1100.3 729.4L1101.1 728.2L1102.0 727.0L1102.9 725.7L1103.7 724.5L1104.6 723.3L1105.5 722.0L1106.4 720.8L1107.2 719.5L1108.1 718.3L1109.0 717.0L1109.8 715.8L1110.7 714.6L1111.6 713.4L1112.5 712.2L1113.3 711.0L1114.2 709.8L1115.1 708.6L1115.9 707.4L1116.8 706.1L1117.7 704.8L1118.6 703.5L1119.4 702.2L1120.3 700.9L1121.2 699.5L1122.0 698.3L1122.9 697.0L1123.8 695.8L1124.6 694.7L1125.5 693.7L1126.4 692.7L1127.3 691.8L1128.1 691.1L1129.0 690.4L1129.9 689.9L1130.7 689.5L1131.6 689.1L1132.5 688.8L1133.4 688.4L1134.2 688.1L1135.1 687.8L1136.0 687.5L1136.8 687.2L1137.7 686.9L1138.6 686.6L1139.5 686.4L1140.3 686.2L1141.2 686.0L1142.1 685.8L1142.9 685.7L1143.8 685.6L1144.7 685.5L1145.6 685.5L1146.4 685.4L1147.3 685.5L1148.2 685.7L1149.0 685.9L1149.9 686.3L1150.8 686.8L1151.7 687.4L1152.5 688.0L1153.4 688.7L1154.3 689.5L1155.1 690.3L1156.0 691.1L1156.9 692.0L1157.8 692.9L1158.6 693.8L1159.5 694.7L1160.4 695.6L1161.2 696.6L1162.1 697.7L1163.0 699.0L1163.9 700.4L1164.7 702.0L1165.6 703.8L1166.5 706.0L1167.3 708.7L1168.2 711.7L1169.1 714.9L1170.0 718.3L1170.8 721.8L1171.7 725.2L1172.6 728.6L1173.4 731.9L1174.3 735.1L1175.2 738.3L1176.1 741.5L1176.9 744.9L1177.8 748.3L1178.7 751.9L1179.5 755.7L1180.4 759.7L1181.3 764.0L1182.2 768.8L1183.0 773.8L1183.9 779.1L1184.8 784.6L1185.6 790.2L1186.5 795.7L1187.4 801.2L1188.2 806.5L1189.1 811.8L1190.0 817.1L1190.9 822.5L1191.7 827.8L1192.6 833.2L1193.5 838.4L1194.3 843.6L1195.2 848.6L1196.1 853.4L1197.0 858.2L1197.8 862.8L1198.7 867.4L1199.6 871.9L1200.4 876.3L1201.3 880.6L1202.2 884.8L1203.1 888.8L1203.9 892.7L1204.8 896.8L1205.7 901.0L1206.5 905.1L1207.4 909.2L1208.3 912.9L1209.2 916.2L1210.0 919.0L1210.9 921.1L1211.8 922.4L1212.6 923.6L1213.5 924.8L1214.4 925.9L1215.3 926.9L1216.1 927.8L1217.0 928.6L1217.9 929.4L1218.7 930.0L1219.6 930.5L1220.5 931.0L1221.4 931.3L1222.2 931.4L1223.1 931.5L1224.0 931.5L1224.8 931.5L1225.7 931.5L1226.6 931.5L1227.5 931.5L1228.3 931.5L1229.2 931.5L1230.1 931.5L1230.9 931.5L1231.8 931.5L1232.7 931.5L1233.6 931.5L1234.4 931.5L1235.3 931.5L1236.2 931.5L1237.0 931.5L1237.9 931.5L1238.8 931.5L1239.7 931.5L1240.5 931.5L1241.4 931.5L1242.3 931.5L1243.1 931.4L1244.0 931.4L1244.9 931.3L1245.8 931.2L1246.6 931.0L1247.5 930.9L1248.4 930.7L1249.2 930.4L1250.1 930.2L1251.0 929.9L1251.9 929.7L1252.7 929.4L1253.6 929.1L1254.5 928.8L1255.3 928.4L1256.2 928.1L1257.1 927.8L1257.9 927.4L1258.8 927.0L1259.7 926.5L1260.6 926.0L1261.4 925.4L1262.3 924.7L1263.2 924.0L1264.0 923.2L1264.9 922.4L1265.8 921.6L1266.7 920.7L1267.5 919.7L1268.4 918.7L1269.3 917.7L1270.1 916.5L1271.0 915.0L1271.9 913.4L1272.8 911.7L1273.6 909.8L1274.5 907.9L1275.4 905.9L1276.2 904.0L1277.1 902.0L1278.0 900.2L1278.9 898.4L1279.7 896.5L1280.6 894.3L1281.5 892.1L1282.3 889.8L1283.2 887.6L1284.1 885.5L1285.0 883.6L1285.8 882.0L1286.7 880.7L1287.6 880.0L1288.4 879.8L1289.3 880.0L1290.2 880.4L1291.1 881.0L1291.9 881.8L1292.8 882.6L1293.7 883.5L1294.5 884.4L1295.4 885.3L1296.3 886.0L1297.2 886.7L1298.0 887.1L1298.9 887.5L1299.8 887.9L1300.6 888.2L1301.5 888.5L1302.4 888.7L1303.3 888.9L1304.1 889.0L1304.7 888.8L1305.2 888.9L1305.7 887.6L1306.2 888.4L1306.7 889.8L1307.2 889.1L1307.6 889.8L1308.1 890.1L1308.6 889.1L1309.0 887.4L1309.5 884.0L1310.0 888.1L1310.4 888.3L1310.8 893.3L1311.3 893.7L1311.7 892.9L1312.1 890.6L1312.5 892.8L1312.9 890.8L1313.3 893.3L1313.7 891.3L1314.1 891.0L1314.5 887.6L1314.9 892.5L1315.3 891.3L1315.7 890.0L1316.1 891.3L1316.4 888.9L1316.8 890.4L1317.1 887.8L1317.5 889.2L1317.9 887.2L1318.2 884.2L1318.6 884.5L1318.9 883.0L1319.2 885.8L1319.6 886.8L1319.9 888.4L1320.2 888.8L1320.6 888.2L1320.9 888.5L1321.2 890.7L1321.5 889.9L1321.8 888.2L1322.2 886.6L1322.5 886.9L1322.8 886.1L1323.1 890.5L1323.4 887.9L1323.7 886.2L1324.0 886.4L1324.3 888.4L1324.5 888.1L1324.8 886.6L1325.1 885.8L1325.4 886.0L1325.7 888.8L1326.0 887.0L1326.2 887.4L1326.5 886.7L1326.8 888.0L1327.0 889.1L1327.3 886.3L1327.6 891.7L1327.8 891.3L1328.1 889.7L1328.4 887.8L1328.6 887.7L1328.9 888.2L1329.1 889.6L1329.4 889.5L1329.6 890.3L1329.9 886.9L1330.1 886.1L1330.4 885.0L1330.6 886.5L1330.8 888.1L1331.1 885.6L1331.3 886.3L1331.6 888.5L1331.8 890.4L1332.0 887.9L1332.2 889.3L1332.5 889.9L1332.7 888.9L1332.9 892.7L1333.2 889.6L1333.4 888.9L1333.6 889.8L1333.8 890.1L1334.0 889.5L1334.3 892.0L1334.5 894.0L1334.7 894.3L1334.9 894.8L1335.1 893.1L1335.3 889.7L1335.5 893.7L1335.7 890.6L1335.9 894.4L1336.1 892.7L1336.3 892.1L1336.5 891.0L1336.7 892.3L1336.9 890.4L1337.1 893.6L1337.3 893.3L1337.5 892.5L1337.7 890.5L1337.9 890.6L1338.1 890.2L1338.3 893.5L1338.5 894.1L1338.7 889.7L1338.9 892.5L1339.1 887.0L1339.3 890.6L1339.4 886.6L1339.6 887.3L1339.8 889.4L1340.0 889.3L1340.2 887.2L1340.4 890.1L1340.5 886.4L1340.7 884.4L1340.9 888.4L1341.1 887.0L1341.2 888.1L1341.4 889.9L1341.6 889.5L1341.8 889.9L1341.9 889.9L1342.1 890.1L1342.3 892.1L1342.5 893.1L1342.6 892.6L1342.8 893.4L1343.0 891.1L1343.3 887.2L1343.6 892.3L1343.9 887.1L1344.3 888.3L1344.6 889.3L1344.9 892.4L1345.2 889.8L1345.5 888.9L1345.8 894.2L1346.1 891.8L1346.4 891.0L1346.7 888.7L1347.0 891.5L1347.3 890.7L1347.6 892.4L1347.9 888.9L1348.2 888.6L1348.5 886.1L1348.8 890.1L1349.0 889.4L1349.3 887.8L1349.6 879.4L1349.9 884.8L1350.1 887.6L1350.4 890.2L1350.7 889.5L1350.9 887.9L1351.2 890.1L1351.5 890.6L1351.7 892.9L1352.0 891.8L1352.2 889.6L1352.5 890.0L1352.7 889.9L1353.0 887.1L1353.2 890.7L1353.5 892.5L1353.7 891.2L1353.9 889.5L1354.2 889.6L1354.4 890.4L1354.7 890.3L1354.9 892.7L1355.1 889.1L1355.4 889.0L1355.6 886.7L1355.8 885.0L1356.0 886.1L1356.3 889.8L1356.5 885.9L1356.7 886.8L1356.9 886.8L1357.2 890.3L1357.4 887.8L1357.6 888.9L1357.8 892.3L1358.0 888.4L1358.2 881.6L1358.4 880.4L1358.6 887.5L1358.9 887.6L1359.1 892.3L1359.3 894.8L1359.5 895.2L1359.7 896.1L1359.9 894.9L1360.1 894.3L1360.3 890.2L1360.5 891.5L1360.7 888.6L1360.9 887.4L1361.1 889.3L1361.3 885.9L1361.5 890.4L1361.6 885.6L1361.8 887.3L1362.0 887.4L1362.2 883.6L1362.4 890.2L1362.6 889.5L1362.8 890.5L1363.0 889.0L1363.1 890.2L1363.3 887.6L1363.5 889.8L1363.7 886.4L1363.9 884.9L1364.0 883.8L1364.2 886.6L1364.4 888.2L1364.6 891.9L1364.7 897.7L1364.9 896.3L1365.1 893.9L1365.3 891.8L1365.4 890.4L1365.6 889.8L1365.8 890.3L1365.9 888.6L1366.1 889.4L1366.3 886.0L1366.5 887.8L1366.8 888.0L1367.0 892.5L1367.3 887.2L1367.5 889.1L1367.7 886.7L1368.0 889.8L1368.2 887.5L1368.5 887.6L1368.7 888.7L1368.9 887.4L1369.1 887.9L1369.4 889.6L1369.6 891.5L1369.8 890.9L1370.0 895.6L1370.3 892.5L1370.5 894.6L1370.7 887.0L1370.9 885.5L1371.1 887.7L1371.4 887.0L1371.6 887.1L1371.8 894.7L1372.0 890.9L1372.2 891.4L1372.4 888.0L1372.6 885.9L1372.8 885.9L1373.0 892.5L1373.2 887.9L1373.4 886.0L1373.6 887.4L1373.8 885.3L1374.0 886.1L1374.2 887.2L1374.4 883.9L1374.6 884.5L1374.8 891.2L1375.0 893.0L1375.2 890.3L1375.4 887.3L1375.6 887.0L1375.8 890.4L1376.0 886.7L1376.2 892.5L1376.3 890.2L1376.5 888.5L1376.7 889.7L1376.9 888.8L1377.1 886.3L1377.2 887.9L1377.4 888.8L1377.6 895.1L1377.8 887.6L1378.0 884.2L1378.1 889.6L1378.3 889.1L1378.5 889.1L1378.7 891.1L1378.8 893.1L1379.0 887.5L1379.2 890.1L1379.3 889.1L1379.5 888.2L1379.7 895.3L1379.8 893.7L1380.1 889.3L1380.3 887.6L1380.5 889.0L1380.7 892.0L1380.9 891.7L1381.2 889.6L1381.4 892.6L1381.6 892.6L1381.8 892.1L1382.0 890.0L1382.2 887.2L1382.4 885.6L1382.6 887.8L1382.8 889.6L1383.0 888.6L1383.2 885.5L1383.4 890.5L1383.6 898.0L1383.8 893.0L1384.0 886.7L1384.2 886.4L1384.4 887.7L1384.6 888.9L1384.8 887.9L1385.0 887.9L1385.2 890.0L1385.4 885.2L1385.5 891.7L1385.7 892.4L1385.9 890.0L1386.1 888.2L1386.3 886.6L1386.5 891.3L1386.7 891.6L1386.8 891.0L1387.0 887.5L1387.2 891.0L1387.4 887.4L1387.5 889.7L1387.7 889.6L1387.9 891.1L1388.1 893.3L1388.2 891.4L1388.4 890.9L1388.6 889.8L1388.8 886.8L1388.9 889.3L1389.1 887.2L1389.3 890.0L1389.4 887.7L1389.6 888.7L1389.9 887.2L1390.1 886.9L1390.3 893.0L1390.5 889.0L1390.7 891.3L1390.9 889.0L1391.1 888.4L1391.3 886.7L1391.5 889.5L1391.7 887.0L1391.9 886.0L1392.0 887.1L1392.2 886.2L1392.4 887.8L1392.6 885.5L1392.8 889.9L1393.0 888.9L1393.2 887.8L1393.4 889.7L1393.6 891.4L1393.7 888.4L1393.9 892.5L1394.1 893.0L1394.3 890.4L1394.5 891.9L1394.6 890.6L1394.8 892.7L1395.0 891.7L1395.2 888.0L1395.3 893.4L1395.5 891.1L1395.7 891.0L1395.9 890.8L1396.0 896.2L1396.2 898.7L1396.4 887.8L1396.6 886.2L1396.7 888.3L1396.9 886.3L1397.1 886.2L1397.3 891.5L1397.5 889.0L1397.7 891.1L1397.9 886.3L1398.1 891.4L1398.3 886.8L1398.5 893.3L1398.6 888.7L1398.8 888.0L1399.0 892.0L1399.2 891.1L1399.4 886.4L1399.6 886.7L1399.8 889.9L1400.0 886.9L1400.1 886.5L1400.3 886.5L1400.5 892.5L1400.7 890.7L1400.9 887.4L1401.0 888.8L1401.2 893.4L1401.4 889.9L1401.6 887.7L1401.7 890.4L1401.9 885.4L1402.1 891.0L1402.2 890.7L1402.4 891.0L1402.6 889.8L1402.8 887.2L1402.9 894.8L1403.1 892.6L1403.3 887.4L1403.5 889.1L1403.7 890.9L1403.9 889.7L1404.0 888.6L1404.2 886.2L1404.4 888.2L1404.6 890.3L1404.8 890.8L1405.0 890.9L1405.2 888.1L1405.3 887.8L1405.5 893.0L1405.7 891.2L1405.9 888.4L1406.1 886.5L1406.2 895.2L1406.4 891.7L1406.6 892.3L1406.8 890.7L1406.9 887.4L1407.1 889.8L1407.3 890.8L1407.5 892.0L1407.6 886.7L1407.8 890.5L1408.0 891.8L1408.1 886.0L1408.3 887.5L1408.5 893.4L1408.7 890.1L1408.9 887.7L1409.1 890.5L1409.2 890.9L1409.4 889.8L1409.6 889.7L1409.8 891.5L1410.0 888.7L1410.2 889.0L1410.3 894.8L1410.5 886.5L1410.7 887.6L1410.9 891.1L1411.0 886.2L1411.2 888.7L1411.4 888.0L1411.6 896.3L1411.7 886.5L1411.9 887.4L1412.1 885.2L1412.2 888.1L1412.4 886.9L1412.6 891.7L1412.7 891.4L1412.9 890.6L1413.1 889.6L1413.3 889.9L1413.5 889.6L1413.7 884.9L1413.9 891.5L1414.0 888.7L1414.2 890.1L1414.4 889.2L1414.6 886.5L1414.7 890.6L1414.9 888.3L1415.1 892.3L1415.3 891.2L1415.4 894.3L1415.6 885.1L1415.8 888.0L1416.0 891.7L1416.1 890.2L1416.3 888.2L1416.5 890.9L1416.6 887.9L1416.8 889.5L1417.0 891.5L1417.2 885.8L1417.4 887.4L1417.6 891.8L1417.7 887.4L1417.9 888.3L1418.1 891.9L1418.3 886.2L1418.4 889.6L1418.6 887.8L1418.8 887.1L1419.0 889.9L1419.1 889.3L1419.3 891.9L1419.5 894.8L1419.7 890.7L1419.8 888.7L1420.0 889.4L1420.2 886.1L1420.3 890.4L1420.5 889.5L1420.7 888.2L1420.9 895.8L1421.1 890.8L1421.2 891.2L1421.4 882.7L1421.6 888.7" fill="none" stroke="#00ff00" stroke-width="5" stroke-linecap="round" stroke-linejoin="round" stroke-dasharray="16.3 14.4 0.6 14.7" clip-path="url(#ce)"/>
<path d="M1478.7 807.2L1479.6 807.2L1480.5 807.2L1481.3 807.2L1482.2 807.2L1483.1 807.2L1484.0 807.2L1484.8 807.2L1485.7 807.1L1486.6 807.1L1487.5 807.1L1488.3 807.1L1489.2 807.1L1490.1 807.1L1491.0 807.1L1491.8 807.1L1492.7 807.1L1493.6 807.1L1494.5 807.1L1495.3 807.1L1496.2 807.1L1497.1 807.1L1498.0 807.0L1498.8 807.0L1499.7 807.0L1500.6 807.0L1501.5 807.0L1502.3 807.0L1503.2 807.0L1504.1 807.0L1505.0 807.0L1505.9 807.0L1506.7 806.9L1507.6 806.9L1508.5 806.9L1509.4 806.9L1510.2 806.9L1511.1 806.9L1512.0 806.9L1512.9 806.9L1513.7 806.9L1514.6 806.8L1515.5 806.8L1516.4 806.8L1517.2 806.8L1518.1 806.8L1519.0 806.8L1519.9 806.7L1520.7 806.7L1521.6 806.7L1522.5 806.7L1523.4 806.7L1524.2 806.6L1525.1 806.6L1526.0 806.6L1526.9 806.6L1527.8 806.6L1528.6 806.5L1529.5 806.5L1530.4 806.5L1531.3 806.5L1532.1 806.4L1533.0 806.4L1533.9 806.4L1534.8 806.3L1535.6 806.3L1536.5 806.3L1537.4 806.2L1538.3 806.2L1539.1 806.2L1540.0 806.1L1540.9 806.1L1541.8 806.0L1542.6 806.0L1543.5 805.9L1544.4 805.8L1545.3 805.8L1546.1 805.7L1547.0 805.6L1547.9 805.5L1548.8 805.4L1549.6 805.3L1550.5 805.2L1551.4 805.1L1552.3 805.0L1553.2 804.8L1554.0 804.7L1554.9 804.6L1555.8 804.5L1556.7 804.4L1557.5 804.3L1558.4 804.2L1559.3 804.1L1560.2 804.0L1561.0 803.9L1561.9 803.8L1562.8 803.7L1563.7 803.6L1564.5 803.5L1565.4 803.5L1566.3 803.4L1567.2 803.4L1568.0 803.3L1568.9 803.2L1569.8 803.2L1570.7 803.1L1571.5 803.1L1572.4 803.0L1573.3 803.0L1574.2 802.9L1575.0 802.9L1575.9 802.8L1576.8 802.8L1577.7 802.7L1578.6 802.7L1579.4 802.6L1580.3 802.6L1581.2 802.5L1582.1 802.5L1582.9 802.4L1583.8 802.4L1584.7 802.3L1585.6 802.3L1586.4 802.2L1587.3 802.2L1588.2 802.2L1589.1 802.1L1589.9 802.1L1590.8 802.1L1591.7 802.0L1592.6 802.0L1593.4 802.0L1594.3 802.0L1595.2 802.0L1596.1 801.9L1596.9 801.9L1597.8 801.9L1598.7 801.9L1599.6 801.9L1600.4 801.9L1601.3 801.9L1602.2 801.9L1603.1 802.0L1604.0 802.0L1604.8 802.1L1605.7 802.2L1606.6 802.3L1607.5 802.4L1608.3 802.5L1609.2 802.6L1610.1 802.7L1611.0 802.9L1611.8 803.0L1612.7 803.1L1613.6 803.3L1614.5 803.4L1615.3 803.6L1616.2 803.8L1617.1 804.0L1618.0 804.3L1618.8 804.5L1619.7 804.8L1620.6 805.1L1621.5 805.4L1622.3 805.8L1623.2 806.1L1624.1 806.5L1625.0 806.9L1625.9 807.3L1626.7 807.7L1627.6 808.1L1628.5 808.5L1629.4 808.9L1630.2 809.3L1631.1 809.7L1632.0 810.1L1632.9 810.6L1633.7 811.0L1634.6 811.5L1635.5 812.0L1636.4 812.5L1637.2 813.0L1638.1 813.5L1639.0 814.1L1639.9 814.6L1640.7 815.2L1641.6 815.8L1642.5 816.4L1643.4 817.0L1644.2 817.6L1645.1 818.3L1646.0 818.9L1646.9 819.6L1647.7 820.2L1648.6 820.9L1649.5 821.6L1650.4 822.3L1651.3 823.0L1652.1 823.8L1653.0 824.6L1653.9 825.4L1654.8 826.2L1655.6 827.0L1656.5 827.9L1657.4 828.7L1658.3 829.6L1659.1 830.5L1660.0 831.4L1660.9 832.3L1661.8 833.2L1662.6 834.2L1663.5 835.1L1664.4 836.0L1665.3 837.0L1666.1 838.0L1667.0 838.9L1667.9 839.9L1668.8 840.8L1669.6 841.8L1670.5 842.8L1671.4 843.7L1672.3 844.7L1673.1 845.6L1674.0 846.6L1674.9 847.5L1675.8 848.5L1676.7 849.4L1677.5 850.4L1678.4 851.4L1679.3 852.4L1680.2 853.5L1681.0 854.5L1681.9 855.5L1682.8 856.6L1683.7 857.6L1684.5 858.7L1685.4 859.7L1686.3 860.7L1687.2 861.8L1688.0 862.8L1688.9 863.8L1689.8 864.8L1690.7 865.8L1691.5 866.7L1692.4 867.7L1693.3 868.6L1694.2 869.5L1695.0 870.4L1695.9 871.2L1696.8 872.1L1697.7 872.9L1698.5 873.8L1699.4 874.7L1700.3 875.5L1701.2 876.4L1702.1 877.2L1702.9 878.1L1703.8 878.9L1704.7 879.7L1705.6 880.5L1706.4 881.3L1707.3 882.0L1708.2 882.7L1709.1 883.4L1709.9 884.0L1710.8 884.6L1711.7 885.2L1712.6 885.7L1713.4 886.1L1714.3 886.5L1715.2 886.9L1716.1 887.3L1716.9 887.6L1717.8 888.0L1718.7 888.4L1719.6 888.7L1720.4 889.1L1721.3 889.4L1722.2 889.6L1723.1 889.9L1724.0 890.1L1724.8 890.3L1725.7 890.4L1726.6 890.5L1727.5 890.6L1728.3 890.6L1729.2 890.4L1730.1 890.2L1731.0 889.8L1731.8 889.3L1732.7 888.7L1733.6 888.1L1734.5 887.3L1735.3 886.5L1736.2 885.5L1737.1 884.6L1738.0 883.5L1738.8 882.4L1739.7 881.1L1740.6 879.3L1741.5 876.9L1742.3 874.0L1743.2 870.8L1744.1 867.2L1745.0 863.3L1745.8 859.1L1746.7 854.8L1747.6 850.2L1748.5 844.7L1749.4 838.2L1750.2 831.0L1751.1 823.3L1752.0 815.5L1752.9 807.9L1753.7 800.2L1754.6 791.9L1755.5 783.3L1756.4 774.9L1757.2 766.9L1758.1 759.8L1759.0 753.7L1759.9 747.5L1760.7 741.6L1761.6 736.2L1762.5 731.6L1763.4 728.1L1764.2 726.1L1765.1 724.7L1766.0 723.5L1766.9 722.7L1767.7 722.2L1768.6 722.2L1769.5 723.0L1770.4 724.5L1771.2 726.6L1772.1 729.1L1773.0 731.8L1773.9 735.5L1774.8 740.6L1775.6 746.8L1776.5 753.5L1777.4 760.2L1778.3 766.6L1779.1 773.2L1780.0 780.2L1780.9 787.4L1781.8 794.4L1782.6 800.9L1783.5 806.7L1784.4 812.0L1785.3 817.2L1786.1 822.2L1787.0 826.7L1787.9 830.7L1788.8 833.9L1789.6 836.2L1790.5 838.4L1791.4 840.5L1792.3 842.2L1793.1 843.6L1794.0 844.5L1794.9 844.7L1795.8 843.8L1796.7 841.9L1797.5 839.3L1798.4 836.2L1799.3 832.9L1800.2 829.8L1801.0 826.5L1801.9 822.2L1802.8 817.4L1803.7 812.4L1804.5 807.8L1805.4 803.9L1806.3 801.1L1807.2 800.0L1808.0 800.9L1808.9 803.7L1809.8 807.7L1810.7 811.8L1811.5 815.5L1812.4 817.7L1813.3 817.9L1814.2 816.4L1815.0 813.9L1815.9 811.0L1816.8 808.2L1817.7 806.3L1818.5 805.8L1819.4 806.3L1820.3 807.3L1821.2 808.6L1822.1 810.1L1822.9 811.4L1823.8 812.5L1824.7 813.2L1825.6 813.9L1826.4 814.5L1827.3 815.0L1828.2 815.4L1828.7 814.9L1829.2 814.0L1829.6 812.9L1830.1 813.5L1830.6 813.1L1831.1 813.8L1831.5 816.6L1832.0 819.3L1832.4 820.0L1832.8 817.0L1833.3 813.8L1833.7 811.3L1834.1 811.1L1834.5 812.1L1834.9 809.5L1835.3 807.0L1835.8 810.4L1836.1 805.1L1836.5 807.3L1836.9 811.1L1837.3 808.7L1837.7 806.5L1838.1 806.2L1838.4 811.1L1838.8 811.8L1839.2 805.9L1839.5 807.0L1839.9 813.0L1840.2 817.2L1840.6 818.9L1840.9 816.9L1841.3 809.7L1841.6 811.9L1841.9 812.1L1842.3 813.3L1842.6 819.4L1842.9 818.8L1843.2 818.8L1843.5 819.9L1843.9 817.6L1844.2 814.5L1844.5 812.0L1844.8 815.6L1845.1 817.3L1845.4 814.9L1845.7 819.1L1846.0 818.6L1846.3 812.7L1846.6 815.6L1846.8 814.9L1847.1 810.1L1847.4 813.4L1847.7 812.6L1848.0 811.8L1848.2 814.9L1848.5 806.9L1848.8 804.6L1849.1 806.0L1849.3 809.4L1849.6 808.6L1849.9 806.8L1850.1 805.3L1850.4 807.6L1850.6 812.1L1850.9 807.6L1851.1 802.2L1851.4 804.7L1851.6 806.2L1851.9 805.4L1852.1 810.3L1852.4 814.5L1852.6 812.6L1852.9 812.0L1853.1 814.9L1853.3 813.3L1853.6 808.7L1853.8 810.2L1854.0 808.2L1854.3 811.3L1854.5 810.5L1854.7 811.0L1854.9 814.0L1855.2 813.8L1855.4 811.8L1855.6 809.0L1855.8 816.9L1856.1 820.3L1856.3 813.3L1856.5 809.9L1856.7 813.4L1856.9 811.7L1857.1 812.6L1857.3 816.2L1857.5 816.3L1857.7 815.4L1858.0 813.5L1858.2 813.5L1858.4 815.3L1858.6 821.4L1858.8 823.4L1859.0 820.2L1859.2 822.0L1859.4 820.4L1859.6 813.4L1859.8 813.4L1859.9 817.4L1860.1 814.5L1860.3 817.9L1860.5 815.9L1860.7 815.7L1860.9 811.1L1861.1 819.6L1861.3 819.9L1861.5 822.1L1861.6 818.3L1861.8 812.0L1862.0 817.2L1862.2 813.9L1862.4 820.1L1862.6 817.9L1862.7 822.9L1862.9 817.9L1863.1 810.6L1863.3 814.3L1863.4 814.2L1863.6 814.3L1863.8 818.2L1864.0 814.0L1864.1 809.5L1864.3 806.7L1864.5 802.9L1864.6 799.6L1864.8 799.2L1865.0 800.1L1865.3 801.6L1865.6 810.2L1866.0 813.1L1866.3 812.2L1866.6 811.8L1866.9 807.9L1867.2 815.6L1867.5 819.1L1867.8 808.6L1868.2 807.8L1868.5 808.4L1868.8 813.9L1869.1 815.8L1869.3 805.7L1869.6 811.2L1869.9 806.5L1870.2 814.6L1870.5 808.2L1870.8 797.4L1871.1 800.4L1871.3 797.8L1871.6 805.8L1871.9 807.5L1872.2 814.7L1872.4 809.9L1872.7 803.7L1872.9 806.7L1873.2 799.4L1873.5 809.8L1873.7 812.6L1874.0 817.3L1874.2 821.1L1874.5 817.0L1874.7 818.2L1875.0 814.6L1875.2 812.2L1875.5 814.7L1875.7 812.4L1876.0 809.1L1876.2 811.8L1876.4 817.4L1876.7 813.5L1876.9 816.6L1877.1 818.1L1877.4 818.4L1877.6 814.2L1877.8 814.1L1878.1 817.8L1878.3 816.1L1878.5 813.8L1878.7 819.7L1879.0 814.1L1879.2 808.5L1879.4 809.8L1879.6 806.7L1879.8 805.0L1880.0 805.3L1880.2 812.4L1880.5 819.7L1880.7 816.6L1880.9 811.3L1881.1 809.7L1881.3 815.2L1881.5 811.1L1881.7 814.4L1881.9 817.1L1882.1 812.1L1882.3 810.6L1882.5 815.5L1882.7 812.2L1882.9 804.5L1883.1 801.8L1883.3 805.2L1883.5 809.3L1883.7 813.3L1883.9 806.8L1884.0 814.0L1884.2 810.4L1884.4 818.1L1884.6 816.3L1884.8 825.2L1885.0 816.5L1885.2 817.4L1885.3 816.6L1885.5 824.6L1885.7 817.8L1885.9 808.3L1886.1 808.4L1886.2 820.7L1886.4 823.3L1886.6 820.1L1886.8 812.9L1886.9 820.6L1887.1 814.3L1887.3 817.2L1887.4 819.9L1887.6 810.7L1887.8 812.0L1888.0 811.9L1888.1 813.7L1888.3 813.0L1888.5 815.1L1888.8 809.0L1889.0 807.0L1889.3 817.9L1889.5 818.6L1889.8 813.8L1890.0 819.4L1890.2 810.9L1890.5 815.4L1890.7 814.9L1890.9 812.9L1891.2 814.9L1891.4 815.0L1891.6 814.5L1891.8 815.2L1892.1 808.5L1892.3 810.3L1892.5 818.7L1892.7 817.1L1892.9 804.4L1893.2 800.7L1893.4 809.1L1893.6 818.5L1893.8 819.0L1894.0 810.0L1894.2 808.3L1894.4 819.7L1894.6 815.1L1894.8 816.4L1895.0 818.7L1895.3 824.8L1895.5 814.9L1895.7 814.2L1895.9 816.8L1896.1 817.3L1896.3 816.3L1896.4 811.4L1896.6 819.4L1896.8 814.5L1897.0 812.5L1897.2 808.6L1897.4 822.2L1897.6 816.6L1897.8 820.2L1898.0 816.7L1898.2 816.4L1898.3 808.5L1898.5 812.6L1898.7 809.2L1898.9 806.7L1899.1 817.6L1899.3 820.0L1899.4 814.0L1899.6 810.1L1899.8 814.0L1900.0 813.7L1900.1 817.8L1900.3 821.1L1900.5 818.1L1900.7 817.5L1900.8 796.7L1901.0 813.9L1901.2 808.7L1901.4 818.1L1901.5 820.1L1901.7 816.5L1901.9 823.0L1902.1 815.6L1902.3 812.9L1902.5 811.2L1902.7 809.7L1902.9 814.3L1903.2 815.3L1903.4 815.2L1903.6 813.5L1903.8 815.6L1904.0 813.2L1904.2 811.3L1904.4 816.8L1904.6 808.1L1904.8 810.5L1905.0 801.7L1905.2 805.9L1905.4 805.3L1905.6 810.3L1905.8 806.8L1906.0 810.4L1906.2 812.8L1906.4 820.3L1906.6 814.4L1906.8 817.4L1907.0 814.1L1907.2 819.4L1907.4 812.6L1907.6 816.7L1907.7 817.0L1907.9 810.4L1908.1 813.5L1908.3 813.3L1908.5 805.7L1908.7 807.3L1908.8 807.9L1909.0 821.7L1909.2 820.8L1909.4 821.1L1909.6 810.9L1909.7 799.6L1909.9 803.3L1910.1 802.6L1910.3 812.2L1910.4 808.1L1910.6 813.4L1910.8 807.9L1910.9 804.6L1911.1 810.8L1911.3 810.3L1911.4 815.6L1911.7 807.5L1911.9 819.9L1912.1 814.2L1912.3 812.4L1912.5 816.6L1912.7 812.0L1912.9 798.5L1913.1 811.2L1913.3 817.9L1913.5 815.9L1913.7 818.6L1913.9 822.7L1914.1 816.1L1914.2 818.1L1914.4 817.6L1914.6 817.6L1914.8 806.1L1915.0 817.4L1915.2 816.5L1915.4 815.1L1915.6 817.4L1915.7 819.7L1915.9 804.6L1916.1 808.4L1916.3 800.2L1916.5 814.8L1916.7 815.1L1916.8 817.2L1917.0 820.0L1917.2 817.5L1917.4 807.0L1917.5 816.8L1917.7 812.0L1917.9 804.1L1918.0 806.7L1918.2 809.3L1918.4 822.3L1918.6 810.1L1918.7 817.8L1918.9 818.7L1919.1 818.0L1919.3 816.0L1919.5 809.9L1919.7 811.4L1919.9 814.0L1920.1 813.7L1920.3 813.3L1920.5 812.2L1920.7 817.4L1920.8 810.9L1921.0 814.8L1921.2 808.6L1921.4 810.4L1921.6 812.3L1921.8 812.5L1922.0 806.6L1922.1 816.7L1922.3 814.1L1922.5 812.3L1922.7 813.3L1922.9 812.1L1923.0 812.0L1923.2 816.1L1923.4 806.7L1923.6 807.3L1923.7 817.4L1923.9 824.9L1924.1 815.9L1924.3 815.7L1924.4 812.3L1924.6 818.3L1924.8 812.6L1924.9 820.9L1925.1 812.1L1925.3 809.5L1925.5 799.1L1925.7 815.4L1925.9 807.3L1926.1 813.9L1926.2 817.2L1926.4 819.9L1926.6 806.3L1926.8 819.0L1927.0 815.5L1927.2 823.7L1927.4 818.5L1927.5 818.6L1927.7 810.8L1927.9 808.2L1928.1 814.4L1928.2 808.4L1928.4 814.9L1928.6 803.5L1928.8 812.7L1928.9 810.9L1929.1 815.2L1929.3 811.2L1929.5 817.6L1929.6 812.8L1929.8 825.2L1930.0 808.7L1930.1 824.3L1930.3 800.6L1930.5 811.0L1930.7 809.6L1930.9 818.6L1931.1 813.4L1931.2 812.6L1931.4 818.5L1931.6 815.0L1931.8 820.1L1932.0 817.7L1932.2 822.0L1932.3 818.7L1932.5 811.6L1932.7 812.4L1932.9 816.5L1933.0 816.5L1933.2 808.9L1933.4 808.5L1933.6 818.9L1933.7 808.7L1933.9 810.2L1934.1 812.7L1934.2 819.7L1934.4 813.2L1934.6 811.1L1934.7 811.1L1934.9 814.9L1935.1 818.6L1935.3 810.5L1935.5 812.3L1935.7 815.1L1935.9 811.2L1936.0 818.2L1936.2 812.9L1936.4 812.6L1936.6 811.0L1936.7 807.9L1936.9 813.5L1937.1 811.8L1937.3 819.4L1937.4 815.2L1937.6 818.0L1937.8 811.5L1938.0 811.9L1938.1 812.3L1938.3 818.7L1938.5 811.5L1938.6 813.8L1938.8 808.6L1939.0 816.6L1939.2 808.8L1939.4 808.3L1939.6 810.9L1939.7 816.0L1939.9 809.1L1940.1 815.3L1940.3 814.8L1940.4 815.0L1940.6 811.6L1940.8 819.8L1941.0 806.0L1941.1 809.4L1941.3 815.5L1941.5 813.6L1941.6 815.5L1941.8 811.5L1942.0 810.5L1942.2 815.6L1942.3 815.5L1942.5 812.2L1942.7 823.9L1942.9 820.4L1943.1 815.0L1943.2 816.9L1943.4 816.9L1943.6 812.6" fill="none" stroke="#ff0000" stroke-width="5" stroke-linecap="round" stroke-linejoin="round" clip-path="url(#cf)"/>
<path d="M1478.7 807.2L1479.5 807.2L1480.4 807.2L1481.2 807.2L1482.1 807.2L1482.9 807.2L1483.8 807.2L1484.6 807.2L1485.4 807.2L1486.3 807.2L1487.1 807.1L1488.0 807.1L1488.8 807.1L1489.6 807.1L1490.5 807.1L1491.3 807.1L1492.2 807.1L1493.0 807.1L1493.9 807.1L1494.7 807.1L1495.5 807.1L1496.4 807.1L1497.2 807.1L1498.1 807.1L1498.9 807.1L1499.7 807.0L1500.6 807.0L1501.4 807.0L1502.3 807.0L1503.1 807.0L1504.0 807.0L1504.8 807.0L1505.6 807.0L1506.5 807.0L1507.3 806.9L1508.2 806.9L1509.0 806.9L1509.8 806.9L1510.7 806.9L1511.5 806.8L1512.4 806.8L1513.2 806.7L1514.1 806.7L1514.9 806.6L1515.7 806.5L1516.6 806.4L1517.4 806.3L1518.3 806.2L1519.1 806.1L1519.9 806.0L1520.8 805.9L1521.6 805.8L1522.5 805.6L1523.3 805.5L1524.2 805.4L1525.0 805.2L1525.8 805.1L1526.7 804.9L1527.5 804.8L1528.4 804.6L1529.2 804.5L1530.1 804.3L1530.9 804.2L1531.7 804.0L1532.6 803.9L1533.4 803.7L1534.3 803.5L1535.1 803.4L1535.9 803.2L1536.8 803.0L1537.6 802.9L1538.5 802.7L1539.3 802.5L1540.2 802.3L1541.0 802.1L1541.8 801.9L1542.7 801.7L1543.5 801.4L1544.4 801.2L1545.2 801.0L1546.0 800.7L1546.9 800.5L1547.7 800.3L1548.6 800.0L1549.4 799.7L1550.3 799.5L1551.1 799.2L1551.9 799.0L1552.8 798.7L1553.6 798.4L1554.5 798.1L1555.3 797.8L1556.1 797.5L1557.0 797.2L1557.8 796.9L1558.7 796.6L1559.5 796.2L1560.4 795.9L1561.2 795.5L1562.0 795.2L1562.9 794.8L1563.7 794.4L1564.6 794.0L1565.4 793.7L1566.3 793.2L1567.1 792.8L1567.9 792.4L1568.8 792.0L1569.6 791.6L1570.5 791.1L1571.3 790.7L1572.1 790.2L1573.0 789.8L1573.8 789.3L1574.7 788.8L1575.5 788.3L1576.4 787.8L1577.2 787.4L1578.0 786.9L1578.9 786.3L1579.7 785.8L1580.6 785.3L1581.4 784.8L1582.2 784.3L1583.1 783.7L1583.9 783.2L1584.8 782.6L1585.6 782.0L1586.5 781.4L1587.3 780.8L1588.1 780.2L1589.0 779.5L1589.8 778.9L1590.7 778.2L1591.5 777.5L1592.3 776.8L1593.2 776.1L1594.0 775.4L1594.9 774.7L1595.7 773.9L1596.6 773.2L1597.4 772.4L1598.2 771.7L1599.1 770.9L1599.9 770.1L1600.8 769.3L1601.6 768.5L1602.4 767.7L1603.3 766.9L1604.1 766.1L1605.0 765.2L1605.8 764.4L1606.7 763.6L1607.5 762.7L1608.3 761.9L1609.2 761.0L1610.0 760.2L1610.9 759.3L1611.7 758.3L1612.6 757.4L1613.4 756.5L1614.2 755.5L1615.1 754.5L1615.9 753.5L1616.8 752.5L1617.6 751.5L1618.4 750.4L1619.3 749.4L1620.1 748.4L1621.0 747.3L1621.8 746.2L1622.7 745.1L1623.5 744.1L1624.3 743.0L1625.2 741.9L1626.0 740.8L1626.9 739.7L1627.7 738.6L1628.5 737.6L1629.4 736.5L1630.2 735.4L1631.1 734.3L1631.9 733.2L1632.8 732.2L1633.6 731.1L1634.4 730.1L1635.3 729.0L1636.1 727.9L1637.0 726.9L1637.8 725.8L1638.6 724.7L1639.5 723.7L1640.3 722.6L1641.2 721.5L1642.0 720.4L1642.9 719.3L1643.7 718.2L1644.5 717.1L1645.4 716.0L1646.2 714.9L1647.1 713.8L1647.9 712.7L1648.8 711.6L1649.6 710.5L1650.4 709.3L1651.3 708.2L1652.1 707.1L1653.0 705.9L1653.8 704.7L1654.6 703.5L1655.5 702.3L1656.3 701.1L1657.2 699.9L1658.0 698.7L1658.9 697.5L1659.7 696.2L1660.5 695.0L1661.4 693.7L1662.2 692.5L1663.1 691.3L1663.9 690.0L1664.7 688.8L1665.6 687.6L1666.4 686.4L1667.3 685.1L1668.1 684.0L1669.0 682.8L1669.8 681.6L1670.6 680.5L1671.5 679.3L1672.3 678.2L1673.2 677.0L1674.0 675.8L1674.8 674.6L1675.7 673.4L1676.5 672.2L1677.4 671.0L1678.2 669.8L1679.1 668.7L1679.9 667.5L1680.7 666.4L1681.6 665.3L1682.4 664.2L1683.3 663.2L1684.1 662.1L1684.9 661.2L1685.8 660.2L1686.6 659.3L1687.5 658.5L1688.3 657.7L1689.2 656.9L1690.0 656.1L1690.8 655.3L1691.7 654.5L1692.5 653.8L1693.4 653.1L1694.2 652.6L1695.1 652.4L1695.9 652.3L1696.7 652.3L1697.6 652.5L1698.4 652.7L1699.3 652.9L1700.1 653.3L1700.9 653.6L1701.8 654.1L1702.6 654.6L1703.5 655.2L1704.3 655.8L1705.2 656.4L1706.0 657.2L1706.8 657.9L1707.7 658.7L1708.5 659.6L1709.4 660.4L1710.2 661.3L1711.0 662.3L1711.9 663.3L1712.7 664.4L1713.6 666.1L1714.4 668.1L1715.3 670.5L1716.1 673.2L1716.9 676.0L1717.8 678.9L1718.6 681.8L1719.5 684.6L1720.3 687.3L1721.1 690.0L1722.0 692.6L1722.8 695.3L1723.7 698.0L1724.5 700.9L1725.4 703.9L1726.2 707.0L1727.0 710.4L1727.9 714.0L1728.7 718.1L1729.6 722.7L1730.4 727.7L1731.3 732.8L1732.1 738.1L1732.9 743.1L1733.8 747.9L1734.6 752.4L1735.5 756.9L1736.3 761.4L1737.1 765.8L1738.0 770.4L1738.8 775.0L1739.7 779.9L1740.5 785.0L1741.4 790.1L1742.2 795.3L1743.0 800.3L1743.9 805.4L1744.7 810.9L1745.6 816.5L1746.4 821.9L1747.2 826.5L1748.1 830.2L1748.9 832.4L1749.8 834.1L1750.6 835.7L1751.5 837.0L1752.3 838.1L1753.1 838.9L1754.0 839.3L1754.8 839.2L1755.7 838.7L1756.5 837.9L1757.3 836.7L1758.2 835.3L1759.0 833.8L1759.9 832.2L1760.7 830.4L1761.6 828.1L1762.4 825.4L1763.2 822.3L1764.1 818.8L1764.9 815.1L1765.8 811.2L1766.6 807.1L1767.4 802.9L1768.3 798.7L1769.1 794.1L1770.0 789.1L1770.8 783.8L1771.7 778.1L1772.5 772.3L1773.3 766.4L1774.2 760.6L1775.0 754.3L1775.9 747.8L1776.7 741.3L1777.6 735.2L1778.4 729.6L1779.2 723.9L1780.1 718.2L1780.9 713.0L1781.8 708.7L1782.6 705.9L1783.4 704.3L1784.3 702.8L1785.1 701.6L1786.0 700.5L1786.8 699.6L1787.7 699.0L1788.5 698.6L1789.3 698.6L1790.2 698.6L1791.0 698.7L1791.9 698.9L1792.7 699.2L1793.5 699.5L1794.4 699.9L1795.2 701.0L1796.1 704.9L1796.9 710.8L1797.8 717.7L1798.6 724.2L1799.4 729.3L1800.3 731.7L1801.1 732.2L1802.0 732.7L1802.8 733.1L1803.6 733.4L1804.5 733.7L1805.3 733.9L1806.2 734.1L1807.0 734.3L1807.9 734.5L1808.7 734.6L1809.5 734.7L1810.4 734.8L1811.2 734.9L1812.1 735.0L1812.9 735.1L1813.8 735.2L1814.6 735.2L1815.3 735.2L1816.1 737.1L1816.8 739.7L1817.5 738.0L1818.1 736.7L1818.8 734.3L1819.5 736.7L1820.1 736.0L1820.7 738.5L1821.4 730.5L1822.0 737.7L1822.6 736.5L1823.1 738.7L1823.7 737.1L1824.3 735.0L1824.8 736.7L1825.4 739.3L1825.9 737.3L1826.5 736.0L1827.0 738.3L1827.5 733.9L1828.0 728.4L1828.5 731.7L1829.0 730.0L1829.5 724.0L1829.9 723.9L1830.4 725.2L1830.9 723.3L1831.3 720.9L1831.8 724.9L1832.2 731.1L1832.7 731.2L1833.1 729.3L1833.5 732.3L1834.0 735.7L1834.4 734.2L1834.8 736.4L1835.2 739.8L1835.6 737.5L1836.0 733.6L1836.4 735.2L1836.8 735.9L1837.2 739.7L1837.5 733.3L1837.9 731.1L1838.3 728.9L1838.7 723.8L1839.0 727.3L1839.4 731.3L1839.7 729.4L1840.1 736.1L1840.4 738.7L1840.8 739.9L1841.1 739.8L1841.5 741.9L1841.8 734.7L1842.1 736.9L1842.5 738.5L1842.8 730.6L1843.1 733.0L1843.4 732.4L1843.7 735.9L1844.0 733.8L1844.4 733.8L1844.7 735.3L1845.0 731.6L1845.3 734.7L1845.6 734.1L1845.9 736.0L1846.2 733.5L1846.5 737.9L1846.7 739.1L1847.0 737.0L1847.3 738.6L1847.6 742.2L1847.9 746.7L1848.1 737.2L1848.4 739.7L1848.7 739.9L1849.0 737.9L1849.2 733.0L1849.5 738.1L1849.8 732.2L1850.0 734.9L1850.3 739.6L1850.5 731.9L1850.8 731.4L1851.0 727.2L1851.3 730.0L1851.5 737.0L1851.8 743.8L1852.0 734.3L1852.3 732.0L1852.5 735.3L1852.8 740.9L1853.0 740.6L1853.2 735.9L1853.5 736.5L1853.7 735.7L1853.9 734.4L1854.2 731.5L1854.4 733.7L1854.6 734.9L1854.9 734.3L1855.1 733.4L1855.3 728.6L1855.5 728.3L1855.8 734.5L1856.0 733.6L1856.2 728.2L1856.4 734.9L1856.6 736.6L1856.8 743.9L1857.0 741.3L1857.3 737.4L1857.5 730.9L1857.7 736.8L1857.9 745.7L1858.1 739.2L1858.3 735.3L1858.5 737.1L1858.7 733.0L1858.9 732.2L1859.1 731.3L1859.3 732.8L1859.5 737.2L1859.7 736.4L1859.9 739.1L1860.1 736.0L1860.3 736.6L1860.5 727.7L1860.6 723.9L1860.8 729.7L1861.0 728.6L1861.2 732.3L1861.4 734.8L1861.6 739.5L1861.8 741.0L1861.9 742.8L1862.1 739.8L1862.3 735.4L1862.5 732.2L1862.7 730.7L1862.8 727.3L1863.0 727.0L1863.2 728.6L1863.4 731.0L1863.5 730.5L1863.7 724.0L1863.9 726.5L1864.1 729.4L1864.2 734.7L1864.4 736.6L1864.6 733.3L1864.7 730.7L1864.9 739.2L1865.2 745.5L1865.6 742.4L1865.9 740.9L1866.2 741.0L1866.5 738.6L1866.9 731.4L1867.2 730.9L1867.5 733.3L1867.8 736.8L1868.1 736.5L1868.4 733.2L1868.7 733.5L1869.0 735.8L1869.3 734.4L1869.6 729.1L1869.9 728.6L1870.2 729.6L1870.4 725.3L1870.7 733.0L1871.0 730.1L1871.3 734.3L1871.6 731.6L1871.8 728.4L1872.1 735.5L1872.4 736.8L1872.6 738.3L1872.9 736.4L1873.2 733.1L1873.4 733.5L1873.7 731.8L1873.9 740.9L1874.2 738.5L1874.4 734.3L1874.7 725.3L1874.9 725.8L1875.2 722.0L1875.4 719.8L1875.7 735.0L1875.9 738.3L1876.2 727.8L1876.4 732.6L1876.6 732.9L1876.9 731.4L1877.1 727.4L1877.3 728.4L1877.6 740.0L1877.8 738.3L1878.0 741.1L1878.2 738.7L1878.5 745.8L1878.7 739.5L1878.9 742.9L1879.1 737.1L1879.3 734.6L1879.6 735.3L1879.8 735.6L1880.0 731.0L1880.2 732.0L1880.4 724.8L1880.6 732.0L1880.8 733.2L1881.0 733.7L1881.2 737.2L1881.5 738.1L1881.7 730.1L1881.9 737.0L1882.1 735.7L1882.3 734.2L1882.5 732.9L1882.7 733.8L1882.9 726.0L1883.0 727.5L1883.2 726.3L1883.4 744.5L1883.6 736.7L1883.8 734.8L1884.0 724.7L1884.2 729.9L1884.4 733.2L1884.6 744.7L1884.8 733.5L1884.9 733.0L1885.1 735.8L1885.3 733.2L1885.5 745.2L1885.7 731.1L1885.8 732.0L1886.0 739.4L1886.2 742.2L1886.4 738.1L1886.6 741.5L1886.7 737.5L1886.9 739.5L1887.1 733.1L1887.2 729.1L1887.4 727.2L1887.6 730.8L1887.8 736.4L1887.9 726.3L1888.1 730.9L1888.3 743.3L1888.5 728.0L1888.8 736.0L1889.0 728.7L1889.2 732.4L1889.5 734.5L1889.7 737.5L1890.0 738.5L1890.2 739.0L1890.4 732.4L1890.7 730.1L1890.9 736.5L1891.1 728.7L1891.4 732.2L1891.6 738.3L1891.8 735.6L1892.0 731.1L1892.3 733.6L1892.5 739.8L1892.7 739.1L1892.9 737.2L1893.1 730.4L1893.3 725.0L1893.6 727.5L1893.8 737.9L1894.0 734.1L1894.2 726.3L1894.4 731.4L1894.6 726.3L1894.8 725.9L1895.0 738.5L1895.2 733.7L1895.4 735.6L1895.6 737.1L1895.8 730.2L1896.0 739.0L1896.2 725.2L1896.4 733.0L1896.6 730.2L1896.8 738.2L1897.0 730.9L1897.2 730.3L1897.4 724.7L1897.6 728.1L1897.8 728.7L1898.0 729.1L1898.1 732.7L1898.3 736.2L1898.5 730.1L1898.7 728.8L1898.9 732.6L1899.1 738.6L1899.2 735.7L1899.4 731.1L1899.6 732.1L1899.8 736.2L1900.0 732.4L1900.1 726.2L1900.3 732.8L1900.5 727.6L1900.6 731.7L1900.8 731.1L1901.0 726.2L1901.2 736.2L1901.3 735.3L1901.5 735.9L1901.7 733.1L1901.8 736.2L1902.1 727.2L1902.3 721.3L1902.5 726.0L1902.7 737.5L1902.9 732.0L1903.1 727.2L1903.4 736.8L1903.6 728.9L1903.8 733.7L1904.0 732.7L1904.2 735.4L1904.4 742.8L1904.6 736.8L1904.8 742.8L1905.0 728.9L1905.2 727.6L1905.4 729.0L1905.6 728.9L1905.8 734.3L1906.0 733.5L1906.2 732.6L1906.4 741.1L1906.6 724.7L1906.8 737.0L1907.0 729.1L1907.2 732.0L1907.4 733.0L1907.5 732.5L1907.7 730.1L1907.9 730.1L1908.1 728.2L1908.3 732.5L1908.5 736.2L1908.6 734.9L1908.8 735.3L1909.0 744.6L1909.2 731.8L1909.4 728.9L1909.5 729.9L1909.7 739.0L1909.9 733.5L1910.1 740.2L1910.2 738.8L1910.4 741.5L1910.6 731.3L1910.8 727.2L1910.9 730.1L1911.1 726.5L1911.3 731.7L1911.4 733.3L1911.6 734.2L1911.8 730.0L1912.1 731.6L1912.3 720.1L1912.5 718.1L1912.7 736.2L1912.9 729.7L1913.1 728.0L1913.3 738.7L1913.5 723.0L1913.6 733.3L1913.8 731.9L1914.0 733.4L1914.2 733.8L1914.4 733.7L1914.6 742.8L1914.8 742.8L1915.0 732.7L1915.2 722.7L1915.4 724.9L1915.5 738.2L1915.7 735.8L1915.9 736.0L1916.1 737.6L1916.3 729.7L1916.5 735.1L1916.6 725.9L1916.8 742.5L1917.0 744.6L1917.2 732.5L1917.3 730.8L1917.5 729.3L1917.7 728.4L1917.9 722.4L1918.0 731.1L1918.2 731.8L1918.4 742.1L1918.5 732.1L1918.7 742.6L1918.9 741.0L1919.1 730.1L1919.3 731.1L1919.5 731.2L1919.7 720.8L1919.9 718.4L1920.1 723.0L1920.3 735.1L1920.4 734.3L1920.6 732.4L1920.8 728.4L1921.0 728.8L1921.2 729.2L1921.4 727.8L1921.6 730.3L1921.8 733.8L1921.9 728.1L1922.1 730.5L1922.3 732.6L1922.5 739.6L1922.7 733.8L1922.8 740.7L1923.0 729.5L1923.2 735.0L1923.4 734.1L1923.6 725.6L1923.7 728.6L1923.9 734.9L1924.1 735.4L1924.2 735.9L1924.4 738.8L1924.6 732.6L1924.8 726.2L1924.9 730.1L1925.1 729.3L1925.3 721.8L1925.5 739.6L1925.7 741.4L1925.9 730.6L1926.0 725.9L1926.2 733.9L1926.4 724.9L1926.6 732.7L1926.8 727.7L1927.0 721.0L1927.2 738.4L1927.3 730.6L1927.5 731.9L1927.7 741.7L1927.9 729.4L1928.1 732.9L1928.2 724.9L1928.4 732.3L1928.6 729.0L1928.8 729.4L1928.9 733.5L1929.1 735.9L1929.3 729.0L1929.5 731.1L1929.6 722.7L1929.8 735.3L1930.0 733.0L1930.1 729.7L1930.3 740.0L1930.5 731.0L1930.7 739.0L1930.9 721.9L1931.0 729.6L1931.2 732.0L1931.4 730.9L1931.6 734.2L1931.8 742.8L1932.0 740.2L1932.1 734.3L1932.3 738.6L1932.5 737.2L1932.7 732.2L1932.9 734.8L1933.0 737.0L1933.2 725.4L1933.4 732.0L1933.6 737.1L1933.7 732.1L1933.9 743.6L1934.1 731.5L1934.2 720.2L1934.4 729.8L1934.6 735.6L1934.7 728.3L1934.9 729.9L1935.1 727.2L1935.3 733.8L1935.5 730.6L1935.7 737.7L1935.8 740.4L1936.0 736.0L1936.2 731.7L1936.4 732.4L1936.6 736.5L1936.7 723.7L1936.9 725.6L1937.1 728.5L1937.3 721.9L1937.4 724.8L1937.6 739.5L1937.8 729.2L1938.0 733.6L1938.1 726.5L1938.3 726.8L1938.5 725.3L1938.6 725.6L1938.8 741.9L1939.0 728.9L1939.2 737.0L1939.4 725.7L1939.5 715.7L1939.7 726.0L1939.9 727.4L1940.1 725.6L1940.3 730.6L1940.4 732.9L1940.6 736.0L1940.8 731.9L1941.0 739.7L1941.1 736.5L1941.3 737.3L1941.5 716.9L1941.6 725.8L1941.8 731.0L1942.0 737.2L1942.1 739.8L1942.3 728.6L1942.5 729.9L1942.7 732.1L1942.9 725.7L1943.1 739.7L1943.2 733.6L1943.4 728.2L1943.6 734.2" fill="none" stroke="#0000ff" stroke-width="5" stroke-linecap="round" stroke-linejoin="round" stroke-dasharray="11.8 24.2" clip-path="url(#cf)"/>
<path d="M1478.7 807.2L1479.6 807.2L1480.4 807.2L1481.3 807.2L1482.1 807.2L1483.0 807.2L1483.9 807.2L1484.7 807.2L1485.6 807.2L1486.5 807.2L1487.3 807.2L1488.2 807.2L1489.0 807.2L1489.9 807.2L1490.8 807.2L1491.6 807.2L1492.5 807.2L1493.4 807.2L1494.2 807.2L1495.1 807.2L1495.9 807.2L1496.8 807.2L1497.7 807.3L1498.5 807.3L1499.4 807.3L1500.2 807.3L1501.1 807.3L1502.0 807.3L1502.8 807.3L1503.7 807.3L1504.6 807.3L1505.4 807.4L1506.3 807.4L1507.1 807.4L1508.0 807.4L1508.9 807.5L1509.7 807.5L1510.6 807.5L1511.4 807.6L1512.3 807.6L1513.2 807.6L1514.0 807.7L1514.9 807.7L1515.8 807.8L1516.6 807.8L1517.5 807.8L1518.3 807.9L1519.2 807.9L1520.1 808.0L1520.9 808.1L1521.8 808.1L1522.7 808.2L1523.5 808.2L1524.4 808.3L1525.2 808.4L1526.1 808.5L1527.0 808.6L1527.8 808.7L1528.7 808.8L1529.5 808.9L1530.4 809.1L1531.3 809.2L1532.1 809.3L1533.0 809.5L1533.9 809.6L1534.7 809.8L1535.6 809.9L1536.4 810.1L1537.3 810.2L1538.2 810.4L1539.0 810.6L1539.9 810.7L1540.7 810.9L1541.6 811.1L1542.5 811.3L1543.3 811.5L1544.2 811.7L1545.1 811.9L1545.9 812.1L1546.8 812.4L1547.6 812.6L1548.5 812.9L1549.4 813.1L1550.2 813.4L1551.1 813.7L1552.0 814.0L1552.8 814.2L1553.7 814.5L1554.5 814.9L1555.4 815.2L1556.3 815.5L1557.1 815.8L1558.0 816.2L1558.8 816.5L1559.7 816.8L1560.6 817.2L1561.4 817.6L1562.3 817.9L1563.2 818.3L1564.0 818.7L1564.9 819.1L1565.7 819.5L1566.6 819.9L1567.5 820.3L1568.3 820.7L1569.2 821.2L1570.0 821.7L1570.9 822.2L1571.8 822.7L1572.6 823.3L1573.5 823.9L1574.4 824.5L1575.2 825.1L1576.1 825.7L1576.9 826.3L1577.8 827.0L1578.7 827.7L1579.5 828.3L1580.4 829.0L1581.3 829.7L1582.1 830.4L1583.0 831.2L1583.8 831.9L1584.7 832.6L1585.6 833.4L1586.4 834.1L1587.3 834.8L1588.1 835.6L1589.0 836.3L1589.9 837.1L1590.7 837.8L1591.6 838.6L1592.5 839.3L1593.3 840.0L1594.2 840.7L1595.0 841.5L1595.9 842.2L1596.8 843.0L1597.6 843.8L1598.5 844.6L1599.3 845.4L1600.2 846.2L1601.1 847.0L1601.9 847.8L1602.8 848.6L1603.7 849.5L1604.5 850.3L1605.4 851.1L1606.2 852.0L1607.1 852.8L1608.0 853.7L1608.8 854.5L1609.7 855.3L1610.6 856.1L1611.4 856.9L1612.3 857.8L1613.1 858.6L1614.0 859.3L1614.9 860.1L1615.7 860.9L1616.6 861.7L1617.4 862.4L1618.3 863.2L1619.2 864.0L1620.0 864.7L1620.9 865.5L1621.8 866.3L1622.6 867.1L1623.5 867.8L1624.3 868.6L1625.2 869.4L1626.1 870.1L1626.9 870.9L1627.8 871.6L1628.6 872.4L1629.5 873.1L1630.4 873.9L1631.2 874.6L1632.1 875.3L1633.0 876.1L1633.8 876.8L1634.7 877.5L1635.5 878.2L1636.4 878.9L1637.3 879.6L1638.1 880.2L1639.0 880.9L1639.9 881.5L1640.7 882.2L1641.6 882.8L1642.4 883.4L1643.3 884.0L1644.2 884.6L1645.0 885.3L1645.9 885.9L1646.7 886.5L1647.6 887.2L1648.5 887.8L1649.3 888.5L1650.2 889.1L1651.1 889.8L1651.9 890.4L1652.8 891.0L1653.6 891.6L1654.5 892.2L1655.4 892.8L1656.2 893.4L1657.1 894.0L1657.9 894.5L1658.8 895.1L1659.7 895.6L1660.5 896.1L1661.4 896.6L1662.3 897.0L1663.1 897.4L1664.0 897.8L1664.8 898.2L1665.7 898.5L1666.6 898.8L1667.4 899.1L1668.3 899.3L1669.2 899.5L1670.0 899.6L1670.9 899.8L1671.7 900.0L1672.6 900.2L1673.5 900.3L1674.3 900.5L1675.2 900.6L1676.0 900.8L1676.9 900.9L1677.8 901.1L1678.6 901.2L1679.5 901.3L1680.4 901.4L1681.2 901.5L1682.1 901.6L1682.9 901.7L1683.8 901.8L1684.7 901.9L1685.5 902.0L1686.4 902.0L1687.2 902.1L1688.1 902.1L1689.0 902.1L1689.8 902.1L1690.7 902.2L1691.6 902.0L1692.4 901.6L1693.3 901.1L1694.1 900.3L1695.0 899.4L1695.9 898.3L1696.7 897.2L1697.6 895.9L1698.5 894.6L1699.3 893.2L1700.2 891.8L1701.0 890.3L1701.9 888.9L1702.8 887.5L1703.6 886.1L1704.5 884.8L1705.3 883.6L1706.2 882.3L1707.1 881.0L1707.9 879.7L1708.8 878.3L1709.7 876.9L1710.5 875.4L1711.4 873.8L1712.2 872.1L1713.1 870.2L1714.0 868.3L1714.8 866.1L1715.7 863.6L1716.5 860.8L1717.4 857.8L1718.3 854.6L1719.1 851.2L1720.0 847.7L1720.9 844.2L1721.7 840.6L1722.6 837.0L1723.4 833.4L1724.3 829.9L1725.2 826.3L1726.0 822.7L1726.9 819.1L1727.8 815.3L1728.6 811.5L1729.5 807.5L1730.3 803.3L1731.2 799.0L1732.1 794.5L1732.9 789.5L1733.8 783.8L1734.6 778.0L1735.5 772.5L1736.4 767.6L1737.2 762.9L1738.1 758.2L1739.0 753.6L1739.8 749.5L1740.7 746.1L1741.5 743.6L1742.4 741.9L1743.3 740.4L1744.1 739.1L1745.0 737.9L1745.8 737.0L1746.7 736.3L1747.6 736.0L1748.4 736.2L1749.3 737.5L1750.2 739.8L1751.0 742.9L1751.9 746.5L1752.7 750.3L1753.6 754.7L1754.5 760.7L1755.3 767.8L1756.2 775.8L1757.1 784.0L1757.9 793.0L1758.8 803.2L1759.6 813.7L1760.5 824.2L1761.4 835.4L1762.2 846.8L1763.1 857.5L1763.9 866.8L1764.8 874.7L1765.7 882.2L1766.5 888.9L1767.4 894.7L1768.3 899.0L1769.1 902.6L1770.0 906.0L1770.8 909.3L1771.7 912.1L1772.6 914.6L1773.4 916.5L1774.3 917.8L1775.1 918.3L1776.0 918.2L1776.9 917.5L1777.7 916.5L1778.6 915.1L1779.5 913.4L1780.3 911.4L1781.2 909.3L1782.0 907.1L1782.9 904.8L1783.8 902.5L1784.6 900.2L1785.5 898.1L1786.4 896.1L1787.2 894.2L1788.1 892.3L1788.9 890.4L1789.8 888.4L1790.7 886.4L1791.5 884.4L1792.4 882.4L1793.2 880.3L1794.1 878.2L1795.0 876.1L1795.8 873.6L1796.7 870.8L1797.6 868.0L1798.4 865.5L1799.3 863.7L1800.1 862.8L1801.0 863.4L1801.9 865.3L1802.7 868.2L1803.6 871.6L1804.4 875.2L1805.3 878.4L1806.2 880.8L1807.0 882.0L1807.9 881.8L1808.8 880.4L1809.6 878.4L1810.5 876.2L1811.3 874.2L1812.2 872.9L1813.1 872.5L1813.9 872.5L1814.8 872.5L1815.7 872.6L1816.5 872.8L1817.4 873.2L1818.2 873.6L1819.1 874.3L1820.0 875.2L1820.8 876.3L1821.7 877.7L1822.5 879.4L1823.1 879.4L1823.7 880.3L1824.3 881.3L1824.8 882.4L1825.4 885.5L1825.9 881.5L1826.4 879.3L1827.0 875.3L1827.5 876.1L1828.0 880.0L1828.5 879.7L1829.0 881.0L1829.5 874.8L1829.9 876.4L1830.4 874.5L1830.9 881.1L1831.3 883.2L1831.8 884.9L1832.2 883.0L1832.7 883.7L1833.1 884.4L1833.5 881.8L1834.0 879.5L1834.4 879.0L1834.8 877.2L1835.2 875.9L1835.6 875.9L1836.0 874.6L1836.4 878.1L1836.8 873.6L1837.2 877.5L1837.5 876.1L1837.9 875.2L1838.3 872.2L1838.7 873.7L1839.0 874.4L1839.4 876.2L1839.7 875.4L1840.1 876.6L1840.4 882.7L1840.8 882.8L1841.1 879.9L1841.5 882.5L1841.8 881.0L1842.1 882.2L1842.5 883.0L1842.8 880.6L1843.1 874.3L1843.4 874.5L1843.7 877.3L1844.0 876.6L1844.4 878.5L1844.7 881.5L1845.0 879.0L1845.3 882.6L1845.6 886.3L1845.9 887.4L1846.2 888.4L1846.4 888.9L1846.7 892.7L1847.0 889.3L1847.3 886.2L1847.6 885.9L1847.9 881.1L1848.1 875.7L1848.4 873.9L1848.7 876.3L1849.0 878.4L1849.2 873.8L1849.5 869.5L1849.8 871.1L1850.0 872.6L1850.3 874.1L1850.5 877.4L1850.8 881.4L1851.0 881.2L1851.3 882.3L1851.5 877.9L1851.8 874.5L1852.0 876.4L1852.3 878.9L1852.5 881.0L1852.8 882.0L1853.0 883.3L1853.2 884.4L1853.5 877.4L1853.7 875.5L1853.9 877.7L1854.2 879.7L1854.4 874.8L1854.6 879.3L1854.9 877.7L1855.1 877.2L1855.3 878.3L1855.5 880.6L1855.7 875.6L1856.0 879.4L1856.2 879.3L1856.4 876.7L1856.6 876.3L1856.8 870.3L1857.0 870.6L1857.2 873.4L1857.5 872.6L1857.7 873.2L1857.9 874.2L1858.1 875.5L1858.3 879.3L1858.5 878.9L1858.7 878.0L1858.9 879.6L1859.1 885.5L1859.3 882.4L1859.5 882.7L1859.7 876.7L1859.9 881.2L1860.1 882.3L1860.3 885.1L1860.5 883.0L1860.6 878.5L1860.8 881.0L1861.0 882.5L1861.2 878.6L1861.4 874.1L1861.6 876.6L1861.8 876.5L1861.9 884.8L1862.1 881.1L1862.3 878.6L1862.5 878.2L1862.7 873.2L1862.8 871.9L1863.0 878.6L1863.2 878.0L1863.4 876.2L1863.5 872.9L1863.7 876.1L1863.9 878.6L1864.1 879.2L1864.2 877.7L1864.4 878.7L1864.6 879.7L1864.7 877.2L1864.9 879.3L1865.2 870.3L1865.6 873.1L1865.9 873.9L1866.2 879.5L1866.5 881.7L1866.9 877.3L1867.2 881.1L1867.5 877.3L1867.8 874.1L1868.1 874.1L1868.4 877.5L1868.7 873.8L1869.0 879.3L1869.3 882.6L1869.6 885.1L1869.9 880.0L1870.2 870.3L1870.4 876.6L1870.7 868.1L1871.0 876.1L1871.3 878.1L1871.6 877.1L1871.8 882.5L1872.1 882.7L1872.4 882.0L1872.6 881.3L1872.9 881.6L1873.2 877.5L1873.4 870.2L1873.7 873.8L1873.9 875.5L1874.2 879.5L1874.4 876.1L1874.7 877.4L1874.9 876.6L1875.2 882.4L1875.4 879.1L1875.7 879.4L1875.9 885.1L1876.2 881.0L1876.4 876.6L1876.6 880.7L1876.9 878.1L1877.1 878.1L1877.3 882.7L1877.6 880.7L1877.8 877.9L1878.0 872.5L1878.2 874.3L1878.5 869.2L1878.7 870.5L1878.9 879.8L1879.1 873.1L1879.3 872.1L1879.6 881.3L1879.8 886.2L1880.0 887.3L1880.2 881.3L1880.4 880.1L1880.6 883.8L1880.8 876.3L1881.0 881.8L1881.2 881.1L1881.5 878.3L1881.7 872.3L1881.9 880.9L1882.1 875.5L1882.3 876.1L1882.5 882.9L1882.7 882.6L1882.8 879.0L1883.0 881.7L1883.2 882.2L1883.4 879.4L1883.6 874.5L1883.8 877.4L1884.0 881.1L1884.2 882.9L1884.4 874.8L1884.6 880.0L1884.8 881.8L1884.9 877.6L1885.1 883.4L1885.3 885.7L1885.5 874.7L1885.7 871.9L1885.8 873.9L1886.0 879.5L1886.2 878.9L1886.4 879.9L1886.6 881.4L1886.7 877.2L1886.9 878.9L1887.1 878.5L1887.2 882.3L1887.4 877.0L1887.6 870.9L1887.8 873.7L1887.9 869.8L1888.1 877.2L1888.3 879.8L1888.5 877.0L1888.8 877.3L1889.0 876.4L1889.2 879.6L1889.5 873.4L1889.7 873.3L1890.0 869.3L1890.2 875.9L1890.4 880.9L1890.7 882.9L1890.9 876.8L1891.1 871.3L1891.4 875.5L1891.6 876.3L1891.8 873.5L1892.0 876.6L1892.3 875.8L1892.5 880.3L1892.7 883.1L1892.9 885.3L1893.1 875.3L1893.3 876.8L1893.6 872.2L1893.8 876.9L1894.0 878.3L1894.2 876.3L1894.4 870.4L1894.6 876.5L1894.8 878.7L1895.0 882.1L1895.2 873.0L1895.4 874.5L1895.6 876.9L1895.8 868.4L1896.0 865.5L1896.2 875.1L1896.4 872.1L1896.6 879.6L1896.8 878.5L1897.0 876.2L1897.2 876.9L1897.4 874.9L1897.6 877.2L1897.8 883.5L1898.0 877.8L1898.1 881.0L1898.3 876.8L1898.5 878.7L1898.7 879.3L1898.9 876.1L1899.1 877.1L1899.2 880.2L1899.4 880.6L1899.6 879.6L1899.8 882.2L1899.9 876.8L1900.1 882.4L1900.3 872.5L1900.5 880.9L1900.6 881.0L1900.8 877.4L1901.0 876.4L1901.2 876.7L1901.3 874.0L1901.5 875.1L1901.7 870.5L1901.8 888.4L1902.1 887.3L1902.3 878.9L1902.5 873.9L1902.7 882.6L1902.9 877.0L1903.1 876.9L1903.4 872.9L1903.6 873.8L1903.8 873.4L1904.0 871.1L1904.2 868.9L1904.4 872.8L1904.6 874.5L1904.8 875.4L1905.0 878.5L1905.2 876.4L1905.4 882.5L1905.6 879.9L1905.8 877.7L1906.0 875.6L1906.2 872.6L1906.4 876.7L1906.6 877.1L1906.8 882.3L1907.0 882.6L1907.2 873.0L1907.4 878.6L1907.5 873.5L1907.7 878.2L1907.9 872.8L1908.1 866.7L1908.3 873.8L1908.5 873.3L1908.6 872.7L1908.8 876.5L1909.0 873.6L1909.2 880.2L1909.4 881.3L1909.5 876.1L1909.7 883.1L1909.9 879.7L1910.1 871.4L1910.2 876.2L1910.4 877.3L1910.6 880.2L1910.8 875.3L1910.9 873.4L1911.1 877.0L1911.3 883.2L1911.4 876.5L1911.6 871.0L1911.8 873.4L1912.0 872.0L1912.3 874.4L1912.5 878.9L1912.7 871.9L1912.9 874.9L1913.1 872.1L1913.3 878.6L1913.5 875.0L1913.6 875.1L1913.8 872.8L1914.0 875.0L1914.2 879.4L1914.4 875.4L1914.6 873.3L1914.8 872.7L1915.0 872.8L1915.2 875.3L1915.4 875.7L1915.5 880.8L1915.7 872.5L1915.9 873.7L1916.1 881.6L1916.3 886.0L1916.5 880.6L1916.6 874.9L1916.8 884.2L1917.0 878.1L1917.2 873.0L1917.3 873.2L1917.5 873.8L1917.7 881.3L1917.9 875.8L1918.0 877.7L1918.2 882.1L1918.4 877.7L1918.5 874.9L1918.7 872.6L1918.9 871.9L1919.1 871.0L1919.3 879.7L1919.5 886.3L1919.7 870.3L1919.9 879.7L1920.1 882.6L1920.3 875.6L1920.4 877.7L1920.6 875.1L1920.8 873.8L1921.0 880.8L1921.2 885.0L1921.4 880.7L1921.6 884.2L1921.8 874.2L1921.9 874.3L1922.1 875.6L1922.3 880.0L1922.5 877.2L1922.7 874.1L1922.8 879.9L1923.0 885.2L1923.2 879.2L1923.4 874.2L1923.6 879.5L1923.7 880.2L1923.9 874.0L1924.1 878.1L1924.2 877.7L1924.4 877.3L1924.6 873.3L1924.8 869.6L1924.9 877.0L1925.1 875.3L1925.3 880.2L1925.5 876.8L1925.7 873.6L1925.9 884.6L1926.0 872.4L1926.2 876.8L1926.4 873.4L1926.6 871.4L1926.8 881.3L1927.0 871.6L1927.2 872.6L1927.3 880.5L1927.5 881.9L1927.7 872.6L1927.9 879.2L1928.1 878.1L1928.2 876.0L1928.4 880.4L1928.6 877.4L1928.8 878.9L1928.9 874.8L1929.1 872.7L1929.3 873.8L1929.5 878.8L1929.6 867.1L1929.8 876.0L1930.0 875.6L1930.1 879.3L1930.3 876.2L1930.5 873.9L1930.7 878.2L1930.9 875.5L1931.0 878.2L1931.2 871.4L1931.4 878.4L1931.6 871.0L1931.8 879.4L1932.0 874.0L1932.1 873.4L1932.3 871.2L1932.5 868.9L1932.7 869.1L1932.9 874.0L1933.0 878.8L1933.2 880.9L1933.4 871.8L1933.6 873.0L1933.7 874.7L1933.9 874.2L1934.1 868.6L1934.2 871.6L1934.4 880.1L1934.6 867.9L1934.7 872.4L1934.9 878.8L1935.1 875.1L1935.3 877.4L1935.5 872.0L1935.7 878.4L1935.8 878.6L1936.0 881.8L1936.2 878.7L1936.4 877.2L1936.6 872.1L1936.7 880.7L1936.9 881.8L1937.1 872.8L1937.3 879.8L1937.4 875.0L1937.6 868.6L1937.8 877.5L1938.0 869.9L1938.1 877.8L1938.3 870.8L1938.5 879.2L1938.6 867.6L1938.8 870.5L1939.0 878.0L1939.2 870.2L1939.4 874.6L1939.5 881.0L1939.7 875.5L1939.9 873.1L1940.1 876.6L1940.3 875.2L1940.4 877.4L1940.6 881.8L1940.8 873.2L1941.0 874.3L1941.1 869.1L1941.3 870.1L1941.5 880.2L1941.6 884.0L1941.8 865.7L1942.0 874.8L1942.1 883.0L1942.3 875.0L1942.5 878.6L1942.7 874.9L1942.9 871.1L1943.1 873.9L1943.2 878.5L1943.4 872.5L1943.6 876.4" fill="none" stroke="#00ff00" stroke-width="5" stroke-linecap="round" stroke-linejoin="round" stroke-dasharray="16.3 14.4 0.6 14.7" clip-path="url(#cf)"/>
<text x="940.6" y="443.0" font-family="'Liberation Sans', Arial, sans-serif" font-size="31" font-style="normal" text-anchor="middle" >0.01</text>
<text x="1095.0" y="443.0" font-family="'Liberation Sans', Arial, sans-serif" font-size="31" font-style="normal" text-anchor="middle" >1</text>
<text x="1249.5" y="443.0" font-family="'Liberation Sans', Arial, sans-serif" font-size="31" font-style="normal" text-anchor="middle" >100</text>
<text x="1403.9" y="443.0" font-family="'Liberation Sans', Arial, sans-serif" font-size="31" font-style="normal" text-anchor="middle" >10000</text>
<text x="946.0" y="409.1" font-family="'Liberation Sans', Arial, sans-serif" font-size="31" font-style="normal" text-anchor="end" >0.0</text>
<text x="946.0" y="332.0" font-family="'Liberation Sans', Arial, sans-serif" font-size="31" font-style="normal" text-anchor="end" >0.2</text>
<text x="946.0" y="254.8" font-family="'Liberation Sans', Arial, sans-serif" font-size="31" font-style="normal" text-anchor="end" >0.4</text>
<text x="946.0" y="177.7" font-family="'Liberation Sans', Arial, sans-serif" font-size="31" font-style="normal" text-anchor="end" >0.6</text>
<text x="946.0" y="100.5" font-family="'Liberation Sans', Arial, sans-serif" font-size="31" font-style="normal" text-anchor="end" >0.8</text>
<text x="946.0" y="23.4" font-family="'Liberation Sans', Arial, sans-serif" font-size="31" font-style="normal" text-anchor="end" >1.0</text>
<text x="1479.3" y="443.0" font-family="'Liberation Sans', Arial, sans-serif" font-size="31" font-style="normal" text-anchor="middle" >0.01</text>
<text x="1633.7" y="443.0" font-family="'Liberation Sans', Arial, sans-serif" font-size="31" font-style="normal" text-anchor="middle" >1</text>
<text x="1788.2" y="443.0" font-family="'Liberation Sans', Arial, sans-serif" font-size="31" font-style="normal" text-anchor="middle" >100</text>
<text x="1942.6" y="443.0" font-family="'Liberation Sans', Arial, sans-serif" font-size="31" font-style="normal" text-anchor="middle" >10000</text>
<text x="1468.9" y="409.1" font-family="'Liberation Sans', Arial, sans-serif" font-size="31" font-style="normal" text-anchor="end" >0.0</text>
<text x="1468.9" y="332.0" font-family="'Liberation Sans', Arial, sans-serif" font-size="31" font-style="normal" text-anchor="end" >0.2</text>
<text x="1468.9" y="254.8" font-family="'Liberation Sans', Arial, sans-serif" font-size="31" font-style="normal" text-anchor="end" >0.4</text>
<text x="1468.9" y="177.7" font-family="'Liberation Sans', Arial, sans-serif" font-size="31" font-style="normal" text-anchor="end" >0.6</text>
<text x="1468.9" y="100.5" font-family="'Liberation Sans', Arial, sans-serif" font-size="31" font-style="normal" text-anchor="end" >0.8</text>
<text x="1468.9" y="23.4" font-family="'Liberation Sans', Arial, sans-serif" font-size="31" font-style="normal" text-anchor="end" >1.0</text>
<text x="944.5" y="977.8" font-family="'Liberation Sans', Arial, sans-serif" font-size="31" font-style="normal" text-anchor="middle" >0.01</text>
<text x="1099.0" y="977.8" font-family="'Liberation Sans', Arial, sans-serif" font-size="31" font-style="normal" text-anchor="middle" >1</text>
<text x="1253.5" y="977.8" font-family="'Liberation Sans', Arial, sans-serif" font-size="31" font-style="normal" text-anchor="middle" >100</text>
<text x="1408.0" y="977.8" font-family="'Liberation Sans', Arial, sans-serif" font-size="31" font-style="normal" text-anchor="middle" >10000</text>
<text x="946.0" y="945.0" font-family="'Liberation Sans', Arial, sans-serif" font-size="31" font-style="normal" text-anchor="end" >0.0</text>
<text x="946.0" y="867.9" font-family="'Liberation Sans', Arial, sans-serif" font-size="31" font-style="normal" text-anchor="end" >0.2</text>
<text x="946.0" y="790.8" font-family="'Liberation Sans', Arial, sans-serif" font-size="31" font-style="normal" text-anchor="end" >0.4</text>
<text x="946.0" y="713.6" font-family="'Liberation Sans', Arial, sans-serif" font-size="31" font-style="normal" text-anchor="end" >0.6</text>
<text x="946.0" y="636.5" font-family="'Liberation Sans', Arial, sans-serif" font-size="31" font-style="normal" text-anchor="end" >0.8</text>
<text x="946.0" y="559.4" font-family="'Liberation Sans', Arial, sans-serif" font-size="31" font-style="normal" text-anchor="end" >1.0</text>
<text x="1478.7" y="977.8" font-family="'Liberation Sans', Arial, sans-serif" font-size="31" font-style="normal" text-anchor="middle" >0.01</text>
<text x="1633.1" y="977.8" font-family="'Liberation Sans', Arial, sans-serif" font-size="31" font-style="normal" text-anchor="middle" >1</text>
<text x="1787.6" y="977.8" font-family="'Liberation Sans', Arial, sans-serif" font-size="31" font-style="normal" text-anchor="middle" >100</text>
<text x="1942.0" y="977.8" font-family="'Liberation Sans', Arial, sans-serif" font-size="31" font-style="normal" text-anchor="middle" >10000</text>
<text x="1468.9" y="945.0" font-family="'Liberation Sans', Arial, sans-serif" font-size="31" font-style="normal" text-anchor="end" >0.0</text>
<text x="1468.9" y="867.9" font-family="'Liberation Sans', Arial, sans-serif" font-size="31" font-style="normal" text-anchor="end" >0.2</text>
<text x="1468.9" y="790.8" font-family="'Liberation Sans', Arial, sans-serif" font-size="31" font-style="normal" text-anchor="end" >0.4</text>
<text x="1468.9" y="713.6" font-family="'Liberation Sans', Arial, sans-serif" font-size="31" font-style="normal" text-anchor="end" >0.6</text>
<text x="1468.9" y="636.5" font-family="'Liberation Sans', Arial, sans-serif" font-size="31" font-style="normal" text-anchor="end" >0.8</text>
<text x="1468.9" y="559.4" font-family="'Liberation Sans', Arial, sans-serif" font-size="31" font-style="normal" text-anchor="end" >1.0</text>
<text x="970.0" y="41.3" font-family="'Liberation Sans', Arial, sans-serif" font-size="33" font-style="normal" text-anchor="start" >(b) β=0.5</text>
<text x="1495.5" y="41.3" font-family="'Liberation Sans', Arial, sans-serif" font-size="33" font-style="normal" text-anchor="start" >(c) β=0.9</text>
<text x="970.0" y="577.3" font-family="'Liberation Sans', Arial, sans-serif" font-size="33" font-style="normal" text-anchor="start" >(e) α=0.1</text>
<text x="1495.5" y="577.3" font-family="'Liberation Sans', Arial, sans-serif" font-size="33" font-style="normal" text-anchor="start" >(f) α=0.9</text>
<path d="M974.6 78.3L1036.8 78.3" fill="none" stroke="#ff0000" stroke-width="5" stroke-linecap="round" stroke-linejoin="round"/>
<path d="M974.6 124.3L1036.8 124.3" fill="none" stroke="#0000ff" stroke-width="5" stroke-linecap="round" stroke-linejoin="round" stroke-dasharray="11.8 24.2"/>
<path d="M974.6 170.3L1036.8 170.3" fill="none" stroke="#00ff00" stroke-width="5" stroke-linecap="round" stroke-linejoin="round" stroke-dasharray="16.3 14.4 0.6 14.7"/>
<text transform="translate(1045.0 90.6) scale(1.21 1)" font-family="'Liberation Sans', Arial, sans-serif" font-size="26.7" font-style="italic">ρ</text>
<text x="1059.9" y="99.1" font-family="'Liberation Sans', Arial, sans-serif" font-size="17.5" font-style="italic">C</text>
<text transform="translate(1045.0 136.0) scale(1.21 1)" font-family="'Liberation Sans', Arial, sans-serif" font-size="26.7" font-style="italic">ρ</text>
<text x="1059.9" y="144.5" font-family="'Liberation Sans', Arial, sans-serif" font-size="17.5" font-style="italic">D</text>
<text transform="translate(1045.0 181.4) scale(1.21 1)" font-family="'Liberation Sans', Arial, sans-serif" font-size="26.7" font-style="italic">ρ</text>
<text x="1059.9" y="189.9" font-family="'Liberation Sans', Arial, sans-serif" font-size="17.5" font-style="italic">P</text>
<text x="1071.7" y="196.8" font-family="'Liberation Sans', Arial, sans-serif" font-size="14.7" font-style="italic">s</text>
<path d="M1497.3 78.3L1559.5 78.3" fill="none" stroke="#ff0000" stroke-width="5" stroke-linecap="round" stroke-linejoin="round"/>
<path d="M1497.3 124.3L1559.5 124.3" fill="none" stroke="#0000ff" stroke-width="5" stroke-linecap="round" stroke-linejoin="round" stroke-dasharray="11.8 24.2"/>
<path d="M1497.3 170.3L1559.5 170.3" fill="none" stroke="#00ff00" stroke-width="5" stroke-linecap="round" stroke-linejoin="round" stroke-dasharray="16.3 14.4 0.6 14.7"/>
<text transform="translate(1567.7 90.6) scale(1.21 1)" font-family="'Liberation Sans', Arial, sans-serif" font-size="26.7" font-style="italic">ρ</text>
<text x="1582.6" y="99.1" font-family="'Liberation Sans', Arial, sans-serif" font-size="17.5" font-style="italic">C</text>
<text transform="translate(1567.7 136.0) scale(1.21 1)" font-family="'Liberation Sans', Arial, sans-serif" font-size="26.7" font-style="italic">ρ</text>
<text x="1582.6" y="144.5" font-family="'Liberation Sans', Arial, sans-serif" font-size="17.5" font-style="italic">D</text>
<text transform="translate(1567.7 181.4) scale(1.21 1)" font-family="'Liberation Sans', Arial, sans-serif" font-size="26.7" font-style="italic">ρ</text>
<text x="1582.6" y="189.9" font-family="'Liberation Sans', Arial, sans-serif" font-size="17.5" font-style="italic">P</text>
<text x="1594.4" y="196.8" font-family="'Liberation Sans', Arial, sans-serif" font-size="14.7" font-style="italic">s</text>
<path d="M974.6 614.3L1036.8 614.3" fill="none" stroke="#ff0000" stroke-width="5" stroke-linecap="round" stroke-linejoin="round"/>
<path d="M974.6 660.3L1036.8 660.3" fill="none" stroke="#0000ff" stroke-width="5" stroke-linecap="round" stroke-linejoin="round" stroke-dasharray="11.8 24.2"/>
<path d="M974.6 706.3L1036.8 706.3" fill="none" stroke="#00ff00" stroke-width="5" stroke-linecap="round" stroke-linejoin="round" stroke-dasharray="16.3 14.4 0.6 14.7"/>
<text transform="translate(1045.0 626.6) scale(1.21 1)" font-family="'Liberation Sans', Arial, sans-serif" font-size="26.7" font-style="italic">ρ</text>
<text x="1059.9" y="635.1" font-family="'Liberation Sans', Arial, sans-serif" font-size="17.5" font-style="italic">C</text>
<text transform="translate(1045.0 672.0) scale(1.21 1)" font-family="'Liberation Sans', Arial, sans-serif" font-size="26.7" font-style="italic">ρ</text>
<text x="1059.9" y="680.5" font-family="'Liberation Sans', Arial, sans-serif" font-size="17.5" font-style="italic">D</text>
<text transform="translate(1045.0 717.4) scale(1.21 1)" font-family="'Liberation Sans', Arial, sans-serif" font-size="26.7" font-style="italic">ρ</text>
<text x="1059.9" y="725.9" font-family="'Liberation Sans', Arial, sans-serif" font-size="17.5" font-style="italic">P</text>
<text x="1071.7" y="732.8" font-family="'Liberation Sans', Arial, sans-serif" font-size="14.7" font-style="italic">s</text>
<path d="M1496.7 614.3L1558.9 614.3" fill="none" stroke="#ff0000" stroke-width="5" stroke-linecap="round" stroke-linejoin="round"/>
<path d="M1496.7 660.3L1558.9 660.3" fill="none" stroke="#0000ff" stroke-width="5" stroke-linecap="round" stroke-linejoin="round" stroke-dasharray="11.8 24.2"/>
<path d="M1496.7 706.3L1558.9 706.3" fill="none" stroke="#00ff00" stroke-width="5" stroke-linecap="round" stroke-linejoin="round" stroke-dasharray="16.3 14.4 0.6 14.7"/>
<text transform="translate(1567.1 626.6) scale(1.21 1)" font-family="'Liberation Sans', Arial, sans-serif" font-size="26.7" font-style="italic">ρ</text>
<text x="1582.0" y="635.1" font-family="'Liberation Sans', Arial, sans-serif" font-size="17.5" font-style="italic">C</text>
<text transform="translate(1567.1 672.0) scale(1.21 1)" font-family="'Liberation Sans', Arial, sans-serif" font-size="26.7" font-style="italic">ρ</text>
<text x="1582.0" y="680.5" font-family="'Liberation Sans', Arial, sans-serif" font-size="17.5" font-style="italic">D</text>
<text transform="translate(1567.1 717.4) scale(1.21 1)" font-family="'Liberation Sans', Arial, sans-serif" font-size="26.7" font-style="italic">ρ</text>
<text x="1582.0" y="725.9" font-family="'Liberation Sans', Arial, sans-serif" font-size="17.5" font-style="italic">P</text>
<text x="1593.8" y="732.8" font-family="'Liberation Sans', Arial, sans-serif" font-size="14.7" font-style="italic">s</text>
<text x="1187.6" y="494.1" font-family="'Liberation Sans', Arial, sans-serif" font-size="39" font-style="normal" text-anchor="middle" >steps</text>
<text x="1710.7" y="494.7" font-family="'Liberation Sans', Arial, sans-serif" font-size="39" font-style="normal" text-anchor="middle" >steps</text>
<text x="1187.6" y="1027.6" font-family="'Liberation Sans', Arial, sans-serif" font-size="39" font-style="normal" text-anchor="middle" >steps</text>
<text x="1709.9" y="1025.6" font-family="'Liberation Sans', Arial, sans-serif" font-size="39" font-style="normal" text-anchor="middle" >steps</text>
<text transform="translate(879.0 189.4) rotate(-90)" font-family="'Liberation Sans', Arial, sans-serif" font-size="35.1" text-anchor="middle">frequencies</text>
<text transform="translate(879.0 724.6) rotate(-90)" font-family="'Liberation Sans', Arial, sans-serif" font-size="35.1" text-anchor="middle">frequencies</text><rect x="101.8" y="9.3" width="703.9" height="404.2" fill="none" stroke="#000" stroke-width="2.2"/>
<rect x="100.3" y="541.0" width="704.4" height="403.6" fill="none" stroke="#000" stroke-width="2.2"/>
<rect x="956.6" y="4.6" width="463.3" height="404.2" fill="none" stroke="#000" stroke-width="2.9"/>
<rect x="1479.3" y="4.6" width="463.3" height="404.2" fill="none" stroke="#000" stroke-width="2.9"/>
<rect x="956.5" y="540.9" width="463.5" height="404.0" fill="none" stroke="#000" stroke-width="2.9"/>
<rect x="1478.7" y="540.9" width="463.3" height="404.0" fill="none" stroke="#000" stroke-width="2.9"/></svg></body></html>
